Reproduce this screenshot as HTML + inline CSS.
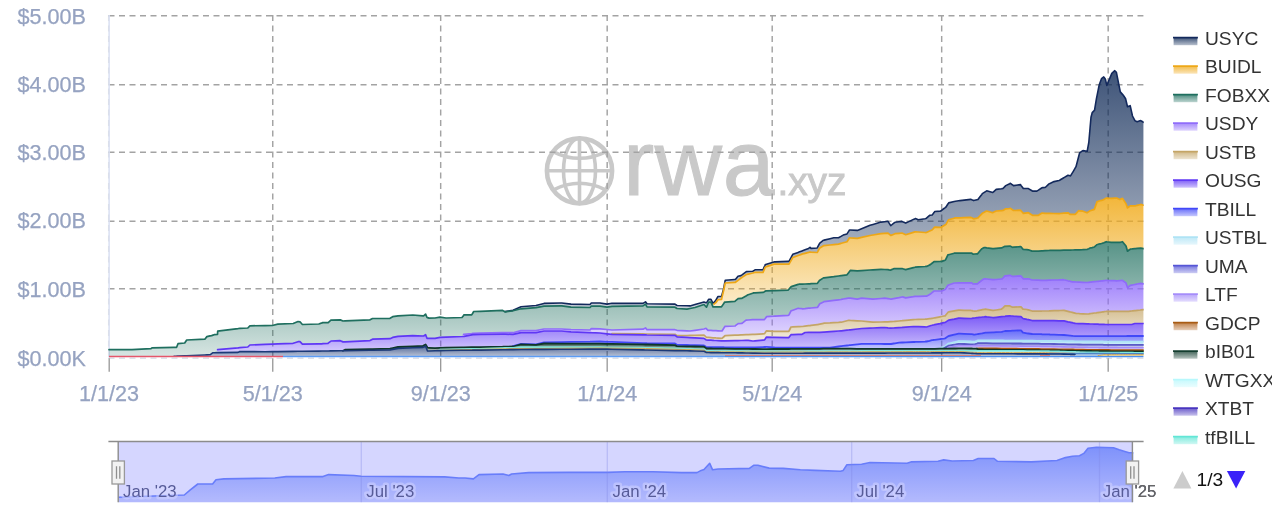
<!DOCTYPE html>
<html lang="en"><head><meta charset="utf-8"><title>rwa.xyz treasuries chart</title>
<style>html,body{margin:0;padding:0;background:#fff;}body{width:1272px;height:521px;overflow:hidden;}svg{display:block;will-change:transform;}text{font-family:'Liberation Sans', Arial, sans-serif;}</style></head><body>
<svg width="1272" height="521" viewBox="0 0 1272 521">
<defs><linearGradient id="g_usyc" x1="0" y1="0" x2="0" y2="1"><stop offset="0" stop-color="rgb(15,42,87)" stop-opacity="0.80"/><stop offset="1" stop-color="rgb(15,42,87)" stop-opacity="0.22"/></linearGradient><linearGradient id="g_buidl" x1="0" y1="0" x2="0" y2="1"><stop offset="0" stop-color="rgb(240,170,25)" stop-opacity="0.85"/><stop offset="1" stop-color="rgb(240,170,25)" stop-opacity="0.22"/></linearGradient><linearGradient id="g_fobxx" x1="0" y1="0" x2="0" y2="1"><stop offset="0" stop-color="rgb(31,111,95)" stop-opacity="0.75"/><stop offset="1" stop-color="rgb(31,111,95)" stop-opacity="0.18"/></linearGradient><linearGradient id="g_usdy" x1="0" y1="0" x2="0" y2="1"><stop offset="0" stop-color="rgb(143,107,250)" stop-opacity="0.88"/><stop offset="1" stop-color="rgb(143,107,250)" stop-opacity="0.25"/></linearGradient><linearGradient id="g_ustb" x1="0" y1="0" x2="0" y2="1"><stop offset="0" stop-color="rgb(196,165,102)" stop-opacity="0.75"/><stop offset="1" stop-color="rgb(196,165,102)" stop-opacity="0.20"/></linearGradient><linearGradient id="g_ousg" x1="0" y1="0" x2="0" y2="1"><stop offset="0" stop-color="rgb(95,55,245)" stop-opacity="0.82"/><stop offset="1" stop-color="rgb(95,55,245)" stop-opacity="0.25"/></linearGradient><linearGradient id="g_tbill" x1="0" y1="0" x2="0" y2="1"><stop offset="0" stop-color="rgb(65,72,248)" stop-opacity="0.80"/><stop offset="1" stop-color="rgb(65,72,248)" stop-opacity="0.30"/></linearGradient><linearGradient id="g_ustbl" x1="0" y1="0" x2="0" y2="1"><stop offset="0" stop-color="rgb(174,227,245)" stop-opacity="0.90"/><stop offset="1" stop-color="rgb(174,227,245)" stop-opacity="0.40"/></linearGradient><linearGradient id="g_uma" x1="0" y1="0" x2="0" y2="1"><stop offset="0" stop-color="rgb(90,90,200)" stop-opacity="0.70"/><stop offset="1" stop-color="rgb(90,90,200)" stop-opacity="0.20"/></linearGradient><linearGradient id="g_ltf" x1="0" y1="0" x2="0" y2="1"><stop offset="0" stop-color="rgb(165,140,250)" stop-opacity="0.70"/><stop offset="1" stop-color="rgb(165,140,250)" stop-opacity="0.20"/></linearGradient><linearGradient id="g_gdcp" x1="0" y1="0" x2="0" y2="1"><stop offset="0" stop-color="rgb(175,88,14)" stop-opacity="0.85"/><stop offset="1" stop-color="rgb(175,88,14)" stop-opacity="0.40"/></linearGradient><linearGradient id="g_dark" x1="0" y1="0" x2="0" y2="1"><stop offset="0" stop-color="rgb(15,55,40)" stop-opacity="0.75"/><stop offset="1" stop-color="rgb(15,55,40)" stop-opacity="0.25"/></linearGradient><linearGradient id="g_cyan" x1="0" y1="0" x2="0" y2="1"><stop offset="0" stop-color="rgb(127,230,220)" stop-opacity="0.80"/><stop offset="1" stop-color="rgb(127,230,220)" stop-opacity="0.30"/></linearGradient><linearGradient id="g_orange" x1="0" y1="0" x2="0" y2="1"><stop offset="0" stop-color="rgb(217,152,46)" stop-opacity="0.60"/><stop offset="1" stop-color="rgb(217,152,46)" stop-opacity="0.30"/></linearGradient><linearGradient id="g_steel" x1="0" y1="0" x2="0" y2="1"><stop offset="0" stop-color="rgb(79,134,198)" stop-opacity="0.70"/><stop offset="1" stop-color="rgb(79,134,198)" stop-opacity="0.40"/></linearGradient><linearGradient id="g_navy2" x1="0" y1="0" x2="0" y2="1"><stop offset="0" stop-color="rgb(28,58,120)" stop-opacity="0.75"/><stop offset="1" stop-color="rgb(28,58,120)" stop-opacity="0.30"/></linearGradient><linearGradient id="g_tan2" x1="0" y1="0" x2="0" y2="1"><stop offset="0" stop-color="rgb(201,162,79)" stop-opacity="0.60"/><stop offset="1" stop-color="rgb(201,162,79)" stop-opacity="0.30"/></linearGradient>
<linearGradient id="g_nav" x1="0" y1="0" x2="0" y2="1"><stop offset="0" stop-color="rgb(128,155,250)"/><stop offset="1" stop-color="rgb(206,214,252)"/></linearGradient>
<clipPath id="plotclip"><rect x="108" y="10" width="1035.7" height="350"/></clipPath>
</defs>
<rect width="1272" height="521" fill="#fff"/>
<g fill="none" stroke="#c9c9c9" stroke-width="4.6"><circle cx="579.5" cy="170.8" r="32.6"/><ellipse cx="579.5" cy="170.8" rx="16" ry="32.6" stroke-width="3.6"/><path d="M579.5 138.2 V203.4 M546.9 170.8 H612.1" stroke-width="3.6"/><path d="M553.5 151.8 Q579.5 164.8 605.5 151.8" stroke-width="3.6"/><path d="M553.5 189.8 Q579.5 176.8 605.5 189.8" stroke-width="3.6"/></g><text x="623.2" y="194.9" font-size="93" fill="#c9c9c9" stroke="#c9c9c9" stroke-width="1.1" letter-spacing="0.7">rwa</text><text x="777.4" y="194.9" font-size="38" fill="#c9c9c9" stroke="#c9c9c9" stroke-width="0.9" textLength="69" lengthAdjust="spacingAndGlyphs">.xyz</text>
<g><path d="M108.5 15.68 H1143.4" stroke="#a3a3a3" stroke-width="1.45" stroke-dasharray="6 4.5" fill="none"/><path d="M108.5 84.69 H1143.4" stroke="#a3a3a3" stroke-width="1.45" stroke-dasharray="6 4.5" fill="none"/><path d="M108.5 152.23 H1143.4" stroke="#a3a3a3" stroke-width="1.45" stroke-dasharray="6 4.5" fill="none"/><path d="M108.5 221.15 H1143.4" stroke="#a3a3a3" stroke-width="1.45" stroke-dasharray="6 4.5" fill="none"/><path d="M108.5 288.69 H1143.4" stroke="#a3a3a3" stroke-width="1.45" stroke-dasharray="6 4.5" fill="none"/><path d="M108.5 358.30 H1143.4" stroke="#dde1ea" stroke-width="1.45" stroke-dasharray="6 4.5" fill="none"/><path d="M272.75 15.06 V357.5" stroke="#a3a3a3" stroke-width="1.45" stroke-dasharray="6 4.5" fill="none"/><path d="M440.68 15.06 V357.5" stroke="#a3a3a3" stroke-width="1.45" stroke-dasharray="6 4.5" fill="none"/><path d="M607.18 15.06 V357.5" stroke="#a3a3a3" stroke-width="1.45" stroke-dasharray="6 4.5" fill="none"/><path d="M772.20 15.06 V357.5" stroke="#a3a3a3" stroke-width="1.45" stroke-dasharray="6 4.5" fill="none"/><path d="M941.68 15.06 V357.5" stroke="#a3a3a3" stroke-width="1.45" stroke-dasharray="6 4.5" fill="none"/><path d="M1108.18 15.06 V357.5" stroke="#a3a3a3" stroke-width="1.45" stroke-dasharray="6 4.5" fill="none"/><path d="M108.7 15.06 V357.5" stroke="#a3a3a3" stroke-width="1.45" stroke-dasharray="6 4.5" fill="none" opacity="0.4"/></g>
<path d="M109.1 15 V357.5" stroke="#dbe1f3" stroke-width="1.55" fill="none"/>
<g clip-path="url(#plotclip)"><path d="M505.0 311.6 L513.0 310.2 L521.0 306.8 L536.0 305.5 L544.0 303.4 L561.0 303.0 L561.7 303.0 L571.0 304.1 L590.0 304.5 L591.3 303.0 L600.0 303.0 L607.0 304.1 L612.0 303.2 L643.0 303.4 L645.5 301.8 L647.0 303.7 L675.0 304.1 L677.0 305.5 L687.0 305.8 L690.0 305.9 L695.0 304.5 L704.0 302.1 L706.0 302.7 L706.5 302.8 L708.0 300.4 L708.6 299.4 L711.0 299.4 L713.0 303.4 L714.0 302.4 L715.5 300.8 L716.0 299.9 L718.0 296.5 L721.5 296.5 L722.0 294.7 L723.6 289.0 L724.7 283.0 L725.0 281.4 L725.2 280.3 L734.8 279.5 L735.0 279.5 L735.4 279.5 L737.8 276.4 L738.0 276.3 L741.0 275.6 L742.0 274.9 L746.0 271.9 L746.4 271.6 L748.0 271.5 L748.2 271.5 L752.7 271.3 L753.0 271.1 L753.5 270.8 L755.0 269.8 L763.0 269.8 L764.4 266.6 L765.0 265.3 L765.3 264.6 L766.0 264.4 L766.5 264.2 L774.0 261.9 L775.0 261.9 L788.0 261.4 L788.8 261.4 L789.0 261.4 L791.0 257.7 L791.3 257.1 L792.8 254.3 L798.2 252.4 L799.0 252.1 L802.0 251.0 L802.3 250.9 L802.5 250.8 L805.0 249.8 L808.6 248.4 L810.0 247.3 L811.0 248.4 L817.2 248.0 L817.6 247.2 L819.6 243.3 L819.8 243.1 L823.5 240.2 L824.0 240.1 L830.0 238.7 L833.8 237.8 L838.5 237.8 L841.0 236.4 L841.4 236.1 L843.2 235.1 L847.0 233.9 L848.6 231.4 L849.5 230.0 L850.3 230.0 L857.2 230.4 L857.4 230.4 L861.6 228.7 L870.0 225.2 L873.0 224.4 L881.0 222.1 L884.6 221.7 L888.0 221.3 L890.4 225.2 L890.7 225.7 L891.0 225.5 L893.8 223.2 L895.0 222.3 L899.0 221.8 L902.0 221.4 L902.6 221.7 L905.7 223.1 L913.4 219.4 L915.0 218.7 L915.2 218.6 L915.4 218.5 L918.3 219.7 L925.0 218.7 L926.0 218.5 L926.4 218.1 L926.5 218.1 L929.6 215.3 L930.3 215.2 L932.0 215.0 L932.2 215.0 L933.0 213.9 L934.0 212.6 L934.8 211.5 L940.0 211.1 L940.8 211.0 L941.6 210.4 L944.0 208.5 L945.0 207.8 L945.2 207.6 L945.3 207.5 L946.0 207.0 L947.9 204.0 L948.5 203.1 L948.6 202.9 L954.2 201.5 L955.5 201.2 L958.6 200.8 L960.0 200.6 L964.2 200.1 L970.7 199.4 L971.0 199.4 L971.8 199.8 L973.0 200.3 L973.7 200.6 L974.7 200.3 L977.0 199.7 L977.4 199.6 L978.0 199.4 L979.0 198.1 L981.8 194.4 L982.3 193.7 L984.3 192.4 L985.5 191.6 L986.7 190.8 L992.7 192.5 L993.1 192.1 L993.5 191.8 L996.2 189.4 L1001.6 188.7 L1002.0 188.6 L1003.0 188.5 L1005.0 186.4 L1005.7 185.6 L1009.7 183.7 L1010.0 183.5 L1010.5 183.3 L1012.4 184.8 L1012.6 184.9 L1013.5 185.6 L1020.4 184.6 L1020.8 185.1 L1021.0 185.4 L1023.0 188.1 L1023.3 188.5 L1027.0 188.5 L1028.2 188.5 L1028.4 188.6 L1032.0 190.8 L1032.5 191.1 L1036.8 191.1 L1038.4 190.1 L1041.6 188.0 L1042.0 187.7 L1042.7 187.6 L1045.0 187.4 L1045.5 187.3 L1046.0 186.8 L1049.0 183.9 L1050.0 183.4 L1054.0 181.6 L1059.0 180.5 L1059.3 180.4 L1060.0 180.0 L1063.8 177.7 L1064.0 177.6 L1068.0 175.2 L1070.0 175.8 L1070.5 175.9 L1072.2 173.1 L1073.0 171.8 L1075.0 168.4 L1075.4 167.7 L1076.0 166.7 L1078.6 156.7 L1079.6 152.9 L1082.8 150.7 L1083.0 150.6 L1087.0 151.3 L1087.2 151.3 L1087.4 150.2 L1088.8 142.5 L1090.0 128.7 L1090.2 126.4 L1091.0 117.2 L1092.2 112.6 L1094.4 110.4 L1094.5 110.3 L1096.4 98.8 L1097.0 95.8 L1097.1 95.3 L1098.0 90.9 L1099.2 84.9 L1100.0 82.7 L1101.5 78.7 L1102.8 77.7 L1103.8 76.9 L1104.0 77.2 L1105.4 79.2 L1106.0 81.9 L1106.4 83.6 L1106.5 84.1 L1106.8 85.4 L1108.4 81.5 L1111.3 74.6 L1111.8 73.4 L1114.8 70.7 L1116.4 72.3 L1116.6 73.3 L1118.7 83.8 L1119.7 88.9 L1120.3 91.9 L1122.5 94.4 L1123.3 95.3 L1125.6 98.8 L1126.0 100.5 L1127.5 106.8 L1128.7 106.3 L1130.2 105.7 L1130.3 106.1 L1131.7 112.4 L1132.5 116.0 L1134.8 120.4 L1134.9 120.6 L1135.6 121.0 L1137.2 121.8 L1140.6 120.6 L1140.8 120.7 L1143.6 122.3 L1143.6 205.2 L1140.8 204.4 L1140.6 204.5 L1137.2 205.4 L1135.6 205.8 L1134.9 205.8 L1134.8 205.8 L1132.5 205.8 L1131.7 205.8 L1130.3 205.8 L1130.2 205.9 L1128.7 207.0 L1127.5 207.9 L1126.0 203.7 L1125.6 203.1 L1123.3 199.6 L1122.5 198.4 L1120.3 199.3 L1119.7 199.5 L1118.7 199.0 L1116.6 198.0 L1116.4 198.0 L1114.8 198.1 L1111.8 198.4 L1111.3 198.4 L1108.4 198.2 L1106.8 198.0 L1106.5 198.0 L1106.4 198.0 L1106.0 198.2 L1105.4 198.6 L1104.0 199.4 L1103.8 199.5 L1102.8 200.1 L1101.5 200.4 L1100.0 200.8 L1099.2 201.0 L1098.0 201.4 L1097.1 201.6 L1097.0 201.9 L1096.4 203.6 L1094.5 209.1 L1094.4 209.4 L1092.2 210.1 L1091.0 210.5 L1090.2 210.7 L1090.0 210.8 L1088.8 211.6 L1087.4 212.5 L1087.2 212.7 L1087.0 212.8 L1083.0 211.2 L1082.8 211.1 L1079.6 210.8 L1078.6 210.7 L1076.0 213.6 L1075.4 214.3 L1075.0 214.3 L1073.0 214.3 L1072.2 214.3 L1070.5 214.3 L1070.0 214.3 L1068.0 212.8 L1064.0 213.2 L1063.8 213.2 L1060.0 213.5 L1059.3 213.6 L1059.0 213.6 L1054.0 213.5 L1050.0 213.4 L1049.0 213.4 L1046.0 213.3 L1045.5 213.3 L1045.0 213.3 L1042.7 213.2 L1042.0 213.2 L1041.6 213.2 L1038.4 215.3 L1036.8 215.3 L1032.5 215.3 L1032.0 215.0 L1028.4 212.8 L1028.2 212.7 L1027.0 212.8 L1023.3 213.3 L1023.0 213.0 L1021.0 210.8 L1020.8 210.6 L1020.4 210.2 L1013.5 210.5 L1012.6 209.9 L1012.4 209.7 L1010.5 208.4 L1010.0 208.4 L1009.7 208.5 L1005.7 208.8 L1005.0 209.2 L1003.0 210.5 L1002.0 210.6 L1001.6 210.6 L996.2 211.0 L993.5 212.3 L993.1 212.5 L992.7 212.7 L986.7 211.0 L985.5 211.6 L984.3 212.3 L982.3 213.3 L981.8 213.8 L979.0 216.8 L978.0 217.9 L977.4 218.0 L977.0 218.1 L974.7 218.6 L973.7 218.8 L973.0 218.4 L971.8 217.8 L971.0 217.4 L970.7 217.4 L964.2 217.6 L960.0 217.8 L958.6 217.8 L955.5 217.9 L954.2 218.2 L948.6 219.7 L948.5 219.9 L947.9 220.9 L946.0 224.3 L945.3 224.7 L945.2 224.8 L945.0 224.9 L944.0 225.5 L941.6 227.0 L940.8 227.5 L940.0 227.4 L934.8 227.1 L934.0 227.9 L933.0 229.0 L932.2 229.8 L932.0 230.0 L930.3 230.7 L929.6 231.0 L926.5 232.4 L926.4 232.4 L926.0 232.6 L925.0 232.5 L918.3 232.0 L915.4 231.8 L915.2 231.9 L915.0 231.9 L913.4 232.4 L905.7 234.7 L902.6 233.3 L902.0 233.0 L899.0 233.3 L895.0 233.7 L893.8 234.2 L891.0 235.4 L890.7 235.5 L890.4 235.2 L888.0 233.1 L884.6 233.3 L881.0 233.6 L873.0 235.0 L870.0 235.5 L861.6 237.4 L857.4 238.3 L857.2 238.3 L850.3 237.9 L849.5 237.8 L848.6 239.2 L847.0 241.8 L843.2 242.8 L841.4 243.3 L841.0 243.4 L838.5 244.1 L833.8 244.6 L830.0 245.0 L824.0 245.6 L823.5 245.7 L819.8 247.9 L819.6 248.0 L817.6 251.8 L817.2 252.5 L811.0 252.1 L810.0 252.0 L808.6 252.4 L805.0 253.3 L802.5 253.9 L802.3 254.0 L802.0 254.1 L799.0 255.2 L798.2 255.5 L792.8 257.5 L791.3 260.1 L791.0 260.6 L789.0 264.1 L788.8 264.1 L788.0 264.1 L775.0 264.1 L774.0 264.1 L766.5 266.6 L766.0 266.8 L765.3 267.0 L765.0 267.7 L764.4 269.1 L763.0 272.4 L755.0 272.4 L753.5 272.8 L753.0 272.9 L752.7 273.0 L748.2 274.1 L748.0 274.1 L746.4 274.5 L746.0 274.8 L742.0 277.4 L741.0 278.0 L738.0 280.3 L737.8 280.5 L735.4 282.3 L735.0 282.3 L734.8 282.3 L725.2 283.0 L725.0 283.9 L724.7 285.3 L723.6 290.5 L722.0 297.4 L721.5 299.5 L718.0 299.7 L716.0 302.5 L715.5 302.9 L714.0 304.0 L713.0 306.8 L711.0 302.1 L708.6 302.1 L708.0 303.6 L706.5 307.2 L706.0 306.7 L704.0 304.5 L695.0 307.5 L690.0 308.5 L687.0 309.1 L677.0 308.5 L675.0 307.2 L647.0 306.8 L645.5 304.1 L643.0 305.9 L612.0 306.4 L607.0 307.2 L600.0 306.2 L591.3 306.1 L590.0 307.5 L571.0 307.2 L561.7 305.9 L561.0 305.9 L544.0 306.1 L536.0 307.7 L521.0 308.8 L513.0 310.8 L505.0 311.8 Z" fill="url(#g_usyc)" stroke="none"/><path d="M505.0 311.6 L513.0 310.2 L521.0 306.8 L536.0 305.5 L544.0 303.4 L561.0 303.0 L561.7 303.0 L571.0 304.1 L590.0 304.5 L591.3 303.0 L600.0 303.0 L607.0 304.1 L612.0 303.2 L643.0 303.4 L645.5 301.8 L647.0 303.7 L675.0 304.1 L677.0 305.5 L687.0 305.8 L690.0 305.9 L695.0 304.5 L704.0 302.1 L706.0 302.7 L706.5 302.8 L708.0 300.4 L708.6 299.4 L711.0 299.4 L713.0 303.4 L714.0 302.4 L715.5 300.8 L716.0 299.9 L718.0 296.5 L721.5 296.5 L722.0 294.7 L723.6 289.0 L724.7 283.0 L725.0 281.4 L725.2 280.3 L734.8 279.5 L735.0 279.5 L735.4 279.5 L737.8 276.4 L738.0 276.3 L741.0 275.6 L742.0 274.9 L746.0 271.9 L746.4 271.6 L748.0 271.5 L748.2 271.5 L752.7 271.3 L753.0 271.1 L753.5 270.8 L755.0 269.8 L763.0 269.8 L764.4 266.6 L765.0 265.3 L765.3 264.6 L766.0 264.4 L766.5 264.2 L774.0 261.9 L775.0 261.9 L788.0 261.4 L788.8 261.4 L789.0 261.4 L791.0 257.7 L791.3 257.1 L792.8 254.3 L798.2 252.4 L799.0 252.1 L802.0 251.0 L802.3 250.9 L802.5 250.8 L805.0 249.8 L808.6 248.4 L810.0 247.3 L811.0 248.4 L817.2 248.0 L817.6 247.2 L819.6 243.3 L819.8 243.1 L823.5 240.2 L824.0 240.1 L830.0 238.7 L833.8 237.8 L838.5 237.8 L841.0 236.4 L841.4 236.1 L843.2 235.1 L847.0 233.9 L848.6 231.4 L849.5 230.0 L850.3 230.0 L857.2 230.4 L857.4 230.4 L861.6 228.7 L870.0 225.2 L873.0 224.4 L881.0 222.1 L884.6 221.7 L888.0 221.3 L890.4 225.2 L890.7 225.7 L891.0 225.5 L893.8 223.2 L895.0 222.3 L899.0 221.8 L902.0 221.4 L902.6 221.7 L905.7 223.1 L913.4 219.4 L915.0 218.7 L915.2 218.6 L915.4 218.5 L918.3 219.7 L925.0 218.7 L926.0 218.5 L926.4 218.1 L926.5 218.1 L929.6 215.3 L930.3 215.2 L932.0 215.0 L932.2 215.0 L933.0 213.9 L934.0 212.6 L934.8 211.5 L940.0 211.1 L940.8 211.0 L941.6 210.4 L944.0 208.5 L945.0 207.8 L945.2 207.6 L945.3 207.5 L946.0 207.0 L947.9 204.0 L948.5 203.1 L948.6 202.9 L954.2 201.5 L955.5 201.2 L958.6 200.8 L960.0 200.6 L964.2 200.1 L970.7 199.4 L971.0 199.4 L971.8 199.8 L973.0 200.3 L973.7 200.6 L974.7 200.3 L977.0 199.7 L977.4 199.6 L978.0 199.4 L979.0 198.1 L981.8 194.4 L982.3 193.7 L984.3 192.4 L985.5 191.6 L986.7 190.8 L992.7 192.5 L993.1 192.1 L993.5 191.8 L996.2 189.4 L1001.6 188.7 L1002.0 188.6 L1003.0 188.5 L1005.0 186.4 L1005.7 185.6 L1009.7 183.7 L1010.0 183.5 L1010.5 183.3 L1012.4 184.8 L1012.6 184.9 L1013.5 185.6 L1020.4 184.6 L1020.8 185.1 L1021.0 185.4 L1023.0 188.1 L1023.3 188.5 L1027.0 188.5 L1028.2 188.5 L1028.4 188.6 L1032.0 190.8 L1032.5 191.1 L1036.8 191.1 L1038.4 190.1 L1041.6 188.0 L1042.0 187.7 L1042.7 187.6 L1045.0 187.4 L1045.5 187.3 L1046.0 186.8 L1049.0 183.9 L1050.0 183.4 L1054.0 181.6 L1059.0 180.5 L1059.3 180.4 L1060.0 180.0 L1063.8 177.7 L1064.0 177.6 L1068.0 175.2 L1070.0 175.8 L1070.5 175.9 L1072.2 173.1 L1073.0 171.8 L1075.0 168.4 L1075.4 167.7 L1076.0 166.7 L1078.6 156.7 L1079.6 152.9 L1082.8 150.7 L1083.0 150.6 L1087.0 151.3 L1087.2 151.3 L1087.4 150.2 L1088.8 142.5 L1090.0 128.7 L1090.2 126.4 L1091.0 117.2 L1092.2 112.6 L1094.4 110.4 L1094.5 110.3 L1096.4 98.8 L1097.0 95.8 L1097.1 95.3 L1098.0 90.9 L1099.2 84.9 L1100.0 82.7 L1101.5 78.7 L1102.8 77.7 L1103.8 76.9 L1104.0 77.2 L1105.4 79.2 L1106.0 81.9 L1106.4 83.6 L1106.5 84.1 L1106.8 85.4 L1108.4 81.5 L1111.3 74.6 L1111.8 73.4 L1114.8 70.7 L1116.4 72.3 L1116.6 73.3 L1118.7 83.8 L1119.7 88.9 L1120.3 91.9 L1122.5 94.4 L1123.3 95.3 L1125.6 98.8 L1126.0 100.5 L1127.5 106.8 L1128.7 106.3 L1130.2 105.7 L1130.3 106.1 L1131.7 112.4 L1132.5 116.0 L1134.8 120.4 L1134.9 120.6 L1135.6 121.0 L1137.2 121.8 L1140.6 120.6 L1140.8 120.7 L1143.6 122.3" fill="none" stroke="#13295c" stroke-width="1.6" stroke-linejoin="round" stroke-linecap="round"/><path d="M714.0 304.0 L715.5 302.9 L716.0 302.5 L718.0 299.7 L721.5 299.5 L722.0 297.4 L723.6 290.5 L724.7 285.3 L725.0 283.9 L725.2 283.0 L734.8 282.3 L735.0 282.3 L735.4 282.3 L737.8 280.5 L738.0 280.3 L741.0 278.0 L742.0 277.4 L746.0 274.8 L746.4 274.5 L748.0 274.1 L748.2 274.1 L752.7 273.0 L753.0 272.9 L753.5 272.8 L755.0 272.4 L763.0 272.4 L764.4 269.1 L765.0 267.7 L765.3 267.0 L766.0 266.8 L766.5 266.6 L774.0 264.1 L775.0 264.1 L788.0 264.1 L788.8 264.1 L789.0 264.1 L791.0 260.6 L791.3 260.1 L792.8 257.5 L798.2 255.5 L799.0 255.2 L802.0 254.1 L802.3 254.0 L802.5 253.9 L805.0 253.3 L808.6 252.4 L810.0 252.0 L811.0 252.1 L817.2 252.5 L817.6 251.8 L819.6 248.0 L819.8 247.9 L823.5 245.7 L824.0 245.6 L830.0 245.0 L833.8 244.6 L838.5 244.1 L841.0 243.4 L841.4 243.3 L843.2 242.8 L847.0 241.8 L848.6 239.2 L849.5 237.8 L850.3 237.9 L857.2 238.3 L857.4 238.3 L861.6 237.4 L870.0 235.5 L873.0 235.0 L881.0 233.6 L884.6 233.3 L888.0 233.1 L890.4 235.2 L890.7 235.5 L891.0 235.4 L893.8 234.2 L895.0 233.7 L899.0 233.3 L902.0 233.0 L902.6 233.3 L905.7 234.7 L913.4 232.4 L915.0 231.9 L915.2 231.9 L915.4 231.8 L918.3 232.0 L925.0 232.5 L926.0 232.6 L926.4 232.4 L926.5 232.4 L929.6 231.0 L930.3 230.7 L932.0 230.0 L932.2 229.8 L933.0 229.0 L934.0 227.9 L934.8 227.1 L940.0 227.4 L940.8 227.5 L941.6 227.0 L944.0 225.5 L945.0 224.9 L945.2 224.8 L945.3 224.7 L946.0 224.3 L947.9 220.9 L948.5 219.9 L948.6 219.7 L954.2 218.2 L955.5 217.9 L958.6 217.8 L960.0 217.8 L964.2 217.6 L970.7 217.4 L971.0 217.4 L971.8 217.8 L973.0 218.4 L973.7 218.8 L974.7 218.6 L977.0 218.1 L977.4 218.0 L978.0 217.9 L979.0 216.8 L981.8 213.8 L982.3 213.3 L984.3 212.3 L985.5 211.6 L986.7 211.0 L992.7 212.7 L993.1 212.5 L993.5 212.3 L996.2 211.0 L1001.6 210.6 L1002.0 210.6 L1003.0 210.5 L1005.0 209.2 L1005.7 208.8 L1009.7 208.5 L1010.0 208.4 L1010.5 208.4 L1012.4 209.7 L1012.6 209.9 L1013.5 210.5 L1020.4 210.2 L1020.8 210.6 L1021.0 210.8 L1023.0 213.0 L1023.3 213.3 L1027.0 212.8 L1028.2 212.7 L1028.4 212.8 L1032.0 215.0 L1032.5 215.3 L1036.8 215.3 L1038.4 215.3 L1041.6 213.2 L1042.0 213.2 L1042.7 213.2 L1045.0 213.3 L1045.5 213.3 L1046.0 213.3 L1049.0 213.4 L1050.0 213.4 L1054.0 213.5 L1059.0 213.6 L1059.3 213.6 L1060.0 213.5 L1063.8 213.2 L1064.0 213.2 L1068.0 212.8 L1070.0 214.3 L1070.5 214.3 L1072.2 214.3 L1073.0 214.3 L1075.0 214.3 L1075.4 214.3 L1076.0 213.6 L1078.6 210.7 L1079.6 210.8 L1082.8 211.1 L1083.0 211.2 L1087.0 212.8 L1087.2 212.7 L1087.4 212.5 L1088.8 211.6 L1090.0 210.8 L1090.2 210.7 L1091.0 210.5 L1092.2 210.1 L1094.4 209.4 L1094.5 209.1 L1096.4 203.6 L1097.0 201.9 L1097.1 201.6 L1098.0 201.4 L1099.2 201.0 L1100.0 200.8 L1101.5 200.4 L1102.8 200.1 L1103.8 199.5 L1104.0 199.4 L1105.4 198.6 L1106.0 198.2 L1106.4 198.0 L1106.5 198.0 L1106.8 198.0 L1108.4 198.2 L1111.3 198.4 L1111.8 198.4 L1114.8 198.1 L1116.4 198.0 L1116.6 198.0 L1118.7 199.0 L1119.7 199.5 L1120.3 199.3 L1122.5 198.4 L1123.3 199.6 L1125.6 203.1 L1126.0 203.7 L1127.5 207.9 L1128.7 207.0 L1130.2 205.9 L1130.3 205.8 L1131.7 205.8 L1132.5 205.8 L1134.8 205.8 L1134.9 205.8 L1135.6 205.8 L1137.2 205.4 L1140.6 204.5 L1140.8 204.4 L1143.6 205.2 L1143.6 248.7 L1140.8 248.1 L1140.6 248.1 L1137.2 248.4 L1135.6 248.6 L1134.9 248.7 L1134.8 248.7 L1132.5 248.9 L1131.7 249.0 L1130.3 249.1 L1130.2 249.2 L1128.7 250.3 L1127.5 251.2 L1126.0 246.0 L1125.6 245.5 L1123.3 242.7 L1122.5 241.7 L1120.3 242.3 L1119.7 242.4 L1118.7 242.4 L1116.6 242.4 L1116.4 242.4 L1114.8 242.4 L1111.8 242.4 L1111.3 242.4 L1108.4 242.0 L1106.8 241.8 L1106.5 241.7 L1106.4 241.7 L1106.0 241.9 L1105.4 242.1 L1104.0 242.7 L1103.8 242.8 L1102.8 243.2 L1101.5 243.5 L1100.0 243.8 L1099.2 244.0 L1098.0 244.3 L1097.1 244.5 L1097.0 244.5 L1096.4 245.1 L1094.5 246.9 L1094.4 247.0 L1092.2 247.6 L1091.0 247.8 L1090.2 248.0 L1090.0 248.1 L1088.8 248.7 L1087.4 249.3 L1087.2 249.4 L1087.0 249.5 L1083.0 249.6 L1082.8 249.7 L1079.6 249.8 L1078.6 249.8 L1076.0 249.9 L1075.4 249.9 L1075.0 249.9 L1073.0 250.0 L1072.2 250.0 L1070.5 250.1 L1070.0 250.1 L1068.0 250.2 L1064.0 250.2 L1063.8 250.2 L1060.0 250.3 L1059.3 250.3 L1059.0 250.3 L1054.0 250.4 L1050.0 250.4 L1049.0 250.5 L1046.0 250.6 L1045.5 250.7 L1045.0 250.7 L1042.7 250.8 L1042.0 250.9 L1041.6 250.9 L1038.4 251.1 L1036.8 251.1 L1032.5 251.1 L1032.0 251.1 L1028.4 249.8 L1028.2 249.8 L1027.0 249.7 L1023.3 249.5 L1023.0 249.2 L1021.0 246.8 L1020.8 246.6 L1020.4 246.6 L1013.5 247.2 L1012.6 247.3 L1012.4 247.2 L1010.5 246.3 L1010.0 246.1 L1009.7 246.1 L1005.7 246.3 L1005.0 246.3 L1003.0 247.3 L1002.0 247.8 L1001.6 247.8 L996.2 248.3 L993.5 248.6 L993.1 248.6 L992.7 248.6 L986.7 247.9 L985.5 247.7 L984.3 247.6 L982.3 248.6 L981.8 248.8 L979.0 252.0 L978.0 253.2 L977.4 253.9 L977.0 253.9 L974.7 254.0 L973.7 254.1 L973.0 254.1 L971.8 253.2 L971.0 253.2 L970.7 253.2 L964.2 253.2 L960.0 253.2 L958.6 253.2 L955.5 253.2 L954.2 253.2 L948.6 254.7 L948.5 254.7 L947.9 254.9 L946.0 258.8 L945.3 260.2 L945.2 260.2 L945.0 260.3 L944.0 260.6 L941.6 261.4 L940.8 261.4 L940.0 261.5 L934.8 261.7 L934.0 261.7 L933.0 262.5 L932.2 263.1 L932.0 263.3 L930.3 264.6 L929.6 264.9 L926.5 266.4 L926.4 266.4 L926.0 266.4 L925.0 266.5 L918.3 266.9 L915.4 267.1 L915.2 267.1 L915.0 267.2 L913.4 267.6 L905.7 269.6 L902.6 268.7 L902.0 268.7 L899.0 268.7 L895.0 268.7 L893.8 268.7 L891.0 269.9 L890.7 270.1 L890.4 270.2 L888.0 269.6 L884.6 269.5 L881.0 269.3 L873.0 269.8 L870.0 270.0 L861.6 270.6 L857.4 270.9 L857.2 270.9 L850.3 270.4 L849.5 271.5 L848.6 272.7 L847.0 274.8 L843.2 275.3 L841.4 275.6 L841.0 275.7 L838.5 276.0 L833.8 276.7 L830.0 277.1 L824.0 277.8 L823.5 277.9 L819.8 280.2 L819.6 280.3 L817.6 283.0 L817.2 283.5 L811.0 283.7 L810.0 283.8 L808.6 283.8 L805.0 284.0 L802.5 284.1 L802.3 284.1 L802.0 284.1 L799.0 284.2 L798.2 284.4 L792.8 286.1 L791.3 286.6 L791.0 286.9 L789.0 289.1 L788.8 289.3 L788.0 290.2 L775.0 290.6 L774.0 290.6 L766.5 290.8 L766.0 290.8 L765.3 291.2 L765.0 291.3 L764.4 291.7 L763.0 292.4 L755.0 292.8 L753.5 292.9 L753.0 293.1 L752.7 293.2 L748.2 294.7 L748.0 294.8 L746.4 295.7 L746.0 296.0 L742.0 298.3 L741.0 298.4 L738.0 298.7 L737.8 298.9 L735.4 300.9 L735.0 301.2 L734.8 301.4 L725.2 302.1 L725.0 302.1 L724.7 302.1 L723.6 303.7 L722.0 306.1 L721.5 306.8 L718.0 306.8 L716.0 306.8 L715.5 306.8 L714.0 306.8 Z" fill="url(#g_buidl)" stroke="none"/><path d="M714.0 304.0 L715.5 302.9 L716.0 302.5 L718.0 299.7 L721.5 299.5 L722.0 297.4 L723.6 290.5 L724.7 285.3 L725.0 283.9 L725.2 283.0 L734.8 282.3 L735.0 282.3 L735.4 282.3 L737.8 280.5 L738.0 280.3 L741.0 278.0 L742.0 277.4 L746.0 274.8 L746.4 274.5 L748.0 274.1 L748.2 274.1 L752.7 273.0 L753.0 272.9 L753.5 272.8 L755.0 272.4 L763.0 272.4 L764.4 269.1 L765.0 267.7 L765.3 267.0 L766.0 266.8 L766.5 266.6 L774.0 264.1 L775.0 264.1 L788.0 264.1 L788.8 264.1 L789.0 264.1 L791.0 260.6 L791.3 260.1 L792.8 257.5 L798.2 255.5 L799.0 255.2 L802.0 254.1 L802.3 254.0 L802.5 253.9 L805.0 253.3 L808.6 252.4 L810.0 252.0 L811.0 252.1 L817.2 252.5 L817.6 251.8 L819.6 248.0 L819.8 247.9 L823.5 245.7 L824.0 245.6 L830.0 245.0 L833.8 244.6 L838.5 244.1 L841.0 243.4 L841.4 243.3 L843.2 242.8 L847.0 241.8 L848.6 239.2 L849.5 237.8 L850.3 237.9 L857.2 238.3 L857.4 238.3 L861.6 237.4 L870.0 235.5 L873.0 235.0 L881.0 233.6 L884.6 233.3 L888.0 233.1 L890.4 235.2 L890.7 235.5 L891.0 235.4 L893.8 234.2 L895.0 233.7 L899.0 233.3 L902.0 233.0 L902.6 233.3 L905.7 234.7 L913.4 232.4 L915.0 231.9 L915.2 231.9 L915.4 231.8 L918.3 232.0 L925.0 232.5 L926.0 232.6 L926.4 232.4 L926.5 232.4 L929.6 231.0 L930.3 230.7 L932.0 230.0 L932.2 229.8 L933.0 229.0 L934.0 227.9 L934.8 227.1 L940.0 227.4 L940.8 227.5 L941.6 227.0 L944.0 225.5 L945.0 224.9 L945.2 224.8 L945.3 224.7 L946.0 224.3 L947.9 220.9 L948.5 219.9 L948.6 219.7 L954.2 218.2 L955.5 217.9 L958.6 217.8 L960.0 217.8 L964.2 217.6 L970.7 217.4 L971.0 217.4 L971.8 217.8 L973.0 218.4 L973.7 218.8 L974.7 218.6 L977.0 218.1 L977.4 218.0 L978.0 217.9 L979.0 216.8 L981.8 213.8 L982.3 213.3 L984.3 212.3 L985.5 211.6 L986.7 211.0 L992.7 212.7 L993.1 212.5 L993.5 212.3 L996.2 211.0 L1001.6 210.6 L1002.0 210.6 L1003.0 210.5 L1005.0 209.2 L1005.7 208.8 L1009.7 208.5 L1010.0 208.4 L1010.5 208.4 L1012.4 209.7 L1012.6 209.9 L1013.5 210.5 L1020.4 210.2 L1020.8 210.6 L1021.0 210.8 L1023.0 213.0 L1023.3 213.3 L1027.0 212.8 L1028.2 212.7 L1028.4 212.8 L1032.0 215.0 L1032.5 215.3 L1036.8 215.3 L1038.4 215.3 L1041.6 213.2 L1042.0 213.2 L1042.7 213.2 L1045.0 213.3 L1045.5 213.3 L1046.0 213.3 L1049.0 213.4 L1050.0 213.4 L1054.0 213.5 L1059.0 213.6 L1059.3 213.6 L1060.0 213.5 L1063.8 213.2 L1064.0 213.2 L1068.0 212.8 L1070.0 214.3 L1070.5 214.3 L1072.2 214.3 L1073.0 214.3 L1075.0 214.3 L1075.4 214.3 L1076.0 213.6 L1078.6 210.7 L1079.6 210.8 L1082.8 211.1 L1083.0 211.2 L1087.0 212.8 L1087.2 212.7 L1087.4 212.5 L1088.8 211.6 L1090.0 210.8 L1090.2 210.7 L1091.0 210.5 L1092.2 210.1 L1094.4 209.4 L1094.5 209.1 L1096.4 203.6 L1097.0 201.9 L1097.1 201.6 L1098.0 201.4 L1099.2 201.0 L1100.0 200.8 L1101.5 200.4 L1102.8 200.1 L1103.8 199.5 L1104.0 199.4 L1105.4 198.6 L1106.0 198.2 L1106.4 198.0 L1106.5 198.0 L1106.8 198.0 L1108.4 198.2 L1111.3 198.4 L1111.8 198.4 L1114.8 198.1 L1116.4 198.0 L1116.6 198.0 L1118.7 199.0 L1119.7 199.5 L1120.3 199.3 L1122.5 198.4 L1123.3 199.6 L1125.6 203.1 L1126.0 203.7 L1127.5 207.9 L1128.7 207.0 L1130.2 205.9 L1130.3 205.8 L1131.7 205.8 L1132.5 205.8 L1134.8 205.8 L1134.9 205.8 L1135.6 205.8 L1137.2 205.4 L1140.6 204.5 L1140.8 204.4 L1143.6 205.2" fill="none" stroke="#eea715" stroke-width="1.7" stroke-linejoin="round" stroke-linecap="round"/><path d="M109.0 349.7 L132.0 349.7 L151.0 348.7 L152.0 347.8 L174.0 347.4 L176.6 347.3 L178.0 343.7 L184.7 343.0 L186.7 340.0 L204.8 339.2 L206.9 336.6 L210.0 335.9 L211.6 335.6 L213.0 335.1 L214.2 334.7 L217.5 334.5 L217.6 332.9 L217.7 331.2 L238.0 328.6 L238.4 328.5 L239.8 328.4 L247.8 328.0 L249.9 325.8 L265.0 325.6 L272.4 325.5 L277.8 324.2 L293.0 323.5 L293.2 323.5 L298.0 321.5 L300.0 321.8 L302.4 324.5 L318.8 324.0 L322.0 322.9 L322.8 322.6 L328.0 322.6 L328.2 322.6 L330.9 320.2 L331.0 320.2 L340.0 319.9 L340.3 319.9 L343.0 321.0 L345.0 320.9 L369.8 319.9 L370.0 319.8 L372.5 318.5 L390.0 318.3 L392.7 316.7 L398.0 315.9 L412.8 315.0 L423.0 315.8 L423.6 315.9 L425.6 314.1 L427.0 317.5 L427.5 317.6 L429.0 318.1 L435.0 318.0 L440.0 317.2 L446.0 318.0 L462.0 317.5 L463.6 315.4 L464.0 314.9 L471.7 314.9 L473.0 312.7 L473.7 311.5 L480.0 311.3 L502.6 310.4 L505.0 311.8 L513.0 310.8 L521.0 308.8 L536.0 307.7 L544.0 306.1 L561.0 305.9 L561.7 305.9 L571.0 307.2 L590.0 307.5 L591.3 306.1 L600.0 306.2 L607.0 307.2 L612.0 306.4 L643.0 305.9 L645.5 304.1 L647.0 306.8 L675.0 307.2 L677.0 308.5 L687.0 309.1 L690.0 308.5 L695.0 307.5 L704.0 304.5 L706.0 306.7 L706.5 307.2 L708.0 303.6 L708.6 302.1 L711.0 302.1 L713.0 306.8 L714.0 306.8 L715.5 306.8 L716.0 306.8 L718.0 306.8 L721.5 306.8 L722.0 306.1 L723.6 303.7 L724.7 302.1 L725.0 302.1 L725.2 302.1 L734.8 301.4 L735.0 301.2 L735.4 300.9 L737.8 298.9 L738.0 298.7 L741.0 298.4 L742.0 298.3 L746.0 296.0 L746.4 295.7 L748.0 294.8 L748.2 294.7 L752.7 293.2 L753.0 293.1 L753.5 292.9 L755.0 292.8 L763.0 292.4 L764.4 291.7 L765.0 291.3 L765.3 291.2 L766.0 290.8 L766.5 290.8 L774.0 290.6 L775.0 290.6 L788.0 290.2 L788.8 289.3 L789.0 289.1 L791.0 286.9 L791.3 286.6 L792.8 286.1 L798.2 284.4 L799.0 284.2 L802.0 284.1 L802.3 284.1 L802.5 284.1 L805.0 284.0 L808.6 283.8 L810.0 283.8 L811.0 283.7 L817.2 283.5 L817.6 283.0 L819.6 280.3 L819.8 280.2 L823.5 277.9 L824.0 277.8 L830.0 277.1 L833.8 276.7 L838.5 276.0 L841.0 275.7 L841.4 275.6 L843.2 275.3 L847.0 274.8 L848.6 272.7 L849.5 271.5 L850.3 270.4 L857.2 270.9 L857.4 270.9 L861.6 270.6 L870.0 270.0 L873.0 269.8 L881.0 269.3 L884.6 269.5 L888.0 269.6 L890.4 270.2 L890.7 270.1 L891.0 269.9 L893.8 268.7 L895.0 268.7 L899.0 268.7 L902.0 268.7 L902.6 268.7 L905.7 269.6 L913.4 267.6 L915.0 267.2 L915.2 267.1 L915.4 267.1 L918.3 266.9 L925.0 266.5 L926.0 266.4 L926.4 266.4 L926.5 266.4 L929.6 264.9 L930.3 264.6 L932.0 263.3 L932.2 263.1 L933.0 262.5 L934.0 261.7 L934.8 261.7 L940.0 261.5 L940.8 261.4 L941.6 261.4 L944.0 260.6 L945.0 260.3 L945.2 260.2 L945.3 260.2 L946.0 258.8 L947.9 254.9 L948.5 254.7 L948.6 254.7 L954.2 253.2 L955.5 253.2 L958.6 253.2 L960.0 253.2 L964.2 253.2 L970.7 253.2 L971.0 253.2 L971.8 253.2 L973.0 254.1 L973.7 254.1 L974.7 254.0 L977.0 253.9 L977.4 253.9 L978.0 253.2 L979.0 252.0 L981.8 248.8 L982.3 248.6 L984.3 247.6 L985.5 247.7 L986.7 247.9 L992.7 248.6 L993.1 248.6 L993.5 248.6 L996.2 248.3 L1001.6 247.8 L1002.0 247.8 L1003.0 247.3 L1005.0 246.3 L1005.7 246.3 L1009.7 246.1 L1010.0 246.1 L1010.5 246.3 L1012.4 247.2 L1012.6 247.3 L1013.5 247.2 L1020.4 246.6 L1020.8 246.6 L1021.0 246.8 L1023.0 249.2 L1023.3 249.5 L1027.0 249.7 L1028.2 249.8 L1028.4 249.8 L1032.0 251.1 L1032.5 251.1 L1036.8 251.1 L1038.4 251.1 L1041.6 250.9 L1042.0 250.9 L1042.7 250.8 L1045.0 250.7 L1045.5 250.7 L1046.0 250.6 L1049.0 250.5 L1050.0 250.4 L1054.0 250.4 L1059.0 250.3 L1059.3 250.3 L1060.0 250.3 L1063.8 250.2 L1064.0 250.2 L1068.0 250.2 L1070.0 250.1 L1070.5 250.1 L1072.2 250.0 L1073.0 250.0 L1075.0 249.9 L1075.4 249.9 L1076.0 249.9 L1078.6 249.8 L1079.6 249.8 L1082.8 249.7 L1083.0 249.6 L1087.0 249.5 L1087.2 249.4 L1087.4 249.3 L1088.8 248.7 L1090.0 248.1 L1090.2 248.0 L1091.0 247.8 L1092.2 247.6 L1094.4 247.0 L1094.5 246.9 L1096.4 245.1 L1097.0 244.5 L1097.1 244.5 L1098.0 244.3 L1099.2 244.0 L1100.0 243.8 L1101.5 243.5 L1102.8 243.2 L1103.8 242.8 L1104.0 242.7 L1105.4 242.1 L1106.0 241.9 L1106.4 241.7 L1106.5 241.7 L1106.8 241.8 L1108.4 242.0 L1111.3 242.4 L1111.8 242.4 L1114.8 242.4 L1116.4 242.4 L1116.6 242.4 L1118.7 242.4 L1119.7 242.4 L1120.3 242.3 L1122.5 241.7 L1123.3 242.7 L1125.6 245.5 L1126.0 246.0 L1127.5 251.2 L1128.7 250.3 L1130.2 249.2 L1130.3 249.1 L1131.7 249.0 L1132.5 248.9 L1134.8 248.7 L1134.9 248.7 L1135.6 248.6 L1137.2 248.4 L1140.6 248.1 L1140.8 248.1 L1143.6 248.7 L1143.6 283.8 L1140.8 283.3 L1140.6 283.3 L1137.2 284.0 L1135.6 284.3 L1134.9 284.5 L1134.8 284.5 L1132.5 285.0 L1131.7 285.1 L1130.3 285.4 L1130.2 285.5 L1128.7 286.7 L1127.5 287.6 L1126.0 282.9 L1125.6 282.6 L1123.3 281.0 L1122.5 280.4 L1120.3 280.5 L1119.7 280.6 L1118.7 280.7 L1116.6 280.8 L1116.4 280.8 L1114.8 280.7 L1111.8 280.6 L1111.3 280.6 L1108.4 280.5 L1106.8 280.4 L1106.5 280.4 L1106.4 280.4 L1106.0 280.4 L1105.4 280.5 L1104.0 280.7 L1103.8 280.7 L1102.8 280.8 L1101.5 280.9 L1100.0 281.1 L1099.2 281.2 L1098.0 281.3 L1097.1 281.4 L1097.0 281.4 L1096.4 281.5 L1094.5 281.7 L1094.4 281.7 L1092.2 281.9 L1091.0 282.1 L1090.2 282.2 L1090.0 282.2 L1088.8 282.3 L1087.4 282.5 L1087.2 282.5 L1087.0 282.5 L1083.0 282.3 L1082.8 282.3 L1079.6 282.1 L1078.6 282.1 L1076.0 282.0 L1075.4 282.0 L1075.0 281.9 L1073.0 281.8 L1072.2 281.8 L1070.5 281.4 L1070.0 281.2 L1068.0 280.8 L1064.0 279.8 L1063.8 279.7 L1060.0 279.8 L1059.3 279.8 L1059.0 279.9 L1054.0 280.0 L1050.0 280.2 L1049.0 280.2 L1046.0 280.3 L1045.5 280.3 L1045.0 280.3 L1042.7 280.4 L1042.0 280.4 L1041.6 280.4 L1038.4 280.2 L1036.8 280.2 L1032.5 280.0 L1032.0 280.0 L1028.4 278.8 L1028.2 278.8 L1027.0 278.8 L1023.3 278.8 L1023.0 278.5 L1021.0 276.1 L1020.8 275.9 L1020.4 275.9 L1013.5 276.4 L1012.6 276.5 L1012.4 276.4 L1010.5 275.5 L1010.0 275.3 L1009.7 275.3 L1005.7 275.8 L1005.0 275.9 L1003.0 278.0 L1002.0 279.0 L1001.6 279.0 L996.2 279.5 L993.5 279.7 L993.1 279.7 L992.7 279.7 L986.7 279.0 L985.5 278.9 L984.3 278.8 L982.3 280.0 L981.8 280.3 L979.0 282.5 L978.0 283.3 L977.4 283.8 L977.0 283.8 L974.7 283.9 L973.7 284.0 L973.0 284.0 L971.8 282.8 L971.0 282.8 L970.7 282.8 L964.2 282.9 L960.0 282.9 L958.6 282.9 L955.5 283.0 L954.2 283.0 L948.6 285.0 L948.5 285.1 L947.9 285.3 L946.0 288.2 L945.3 289.3 L945.2 289.3 L945.0 289.4 L944.0 289.9 L941.6 291.0 L940.8 291.0 L940.0 291.0 L934.8 291.0 L934.0 291.0 L933.0 291.8 L932.2 292.5 L932.0 292.7 L930.3 294.1 L929.6 294.5 L926.5 296.2 L926.4 296.2 L926.0 296.2 L925.0 296.2 L918.3 296.3 L915.4 296.4 L915.2 296.4 L915.0 296.4 L913.4 296.7 L905.7 297.9 L902.6 296.9 L902.0 297.0 L899.0 297.7 L895.0 298.4 L893.8 298.6 L891.0 299.1 L890.7 299.1 L890.4 299.0 L888.0 298.7 L884.6 298.2 L881.0 298.5 L873.0 299.1 L870.0 298.9 L861.6 298.2 L857.4 299.1 L857.2 299.1 L850.3 298.2 L849.5 298.1 L848.6 298.0 L847.0 298.3 L843.2 299.0 L841.4 299.4 L841.0 299.5 L838.5 299.8 L833.8 300.4 L830.0 300.8 L824.0 301.6 L823.5 301.9 L819.8 303.7 L819.6 304.0 L817.6 307.3 L817.2 307.3 L811.0 308.0 L810.0 308.1 L808.6 308.2 L805.0 308.6 L802.5 308.8 L802.3 308.8 L802.0 308.7 L799.0 308.4 L798.2 308.3 L792.8 310.2 L791.3 310.8 L791.0 310.9 L789.0 314.8 L788.8 315.2 L788.0 315.3 L775.0 316.1 L774.0 316.2 L766.5 316.7 L766.0 317.4 L765.3 318.4 L765.0 318.8 L764.4 319.6 L763.0 319.6 L755.0 319.6 L753.5 319.6 L753.0 319.6 L752.7 319.6 L748.2 320.0 L748.0 320.0 L746.4 320.2 L746.0 320.2 L742.0 323.3 L741.0 323.4 L738.0 323.6 L737.8 323.8 L735.4 325.7 L735.0 326.0 L734.8 326.0 L725.2 326.3 L725.0 326.3 L724.7 326.8 L723.6 328.5 L722.0 331.0 L721.5 331.0 L718.0 330.8 L716.0 330.7 L715.5 330.7 L714.0 330.6 L713.0 330.6 L711.0 330.4 L708.6 330.3 L708.0 330.3 L706.5 328.8 L706.0 328.3 L704.0 329.0 L695.0 330.3 L690.0 331.0 L687.0 330.8 L677.0 330.3 L675.0 329.7 L647.0 329.7 L645.5 327.9 L643.0 329.2 L612.0 330.0 L607.0 329.5 L600.0 328.9 L591.3 328.7 L590.0 330.0 L571.0 329.7 L561.7 329.0 L561.0 329.0 L544.0 329.0 L536.0 330.6 L521.0 330.6 L513.0 332.7 L505.0 332.7 L502.6 332.7 L480.0 333.2 L473.7 333.3 L473.0 333.3 L471.7 333.5 L464.0 334.4 L463.6 334.4 L462.0 336.5 L446.0 337.1 L440.0 337.3 L435.0 338.3 L429.0 338.3 L427.5 338.3 L427.0 338.3 L425.6 334.7 L423.6 336.0 L423.0 336.0 L412.8 335.6 L398.0 336.3 L392.7 337.4 L390.0 338.7 L372.5 339.2 L370.0 340.6 L369.8 340.6 L345.0 341.8 L343.0 341.9 L340.3 340.7 L340.0 340.6 L331.0 341.0 L330.9 341.1 L328.2 343.1 L328.0 343.3 L322.8 343.7 L322.0 343.8 L318.8 343.8 L302.4 344.1 L300.0 341.7 L298.0 341.7 L293.2 343.2 L293.0 343.3 L277.8 343.9 L272.4 344.1 L265.0 344.4 L249.9 345.0 L247.8 347.0 L239.8 347.7 L238.4 347.8 L238.0 347.9 L217.7 349.7 L217.6 349.7 L217.5 352.6 L214.2 352.7 L213.0 352.7 L211.6 353.7 L210.0 354.8 L206.9 354.9 L204.8 355.0 L186.7 355.7 L184.7 355.8 L178.0 356.0 L176.6 356.1 L174.0 356.2 L152.0 356.6 L151.0 356.6 L132.0 356.6 L109.0 356.6 Z" fill="url(#g_fobxx)" stroke="none"/><path d="M109.0 349.7 L132.0 349.7 L151.0 348.7 L152.0 347.8 L174.0 347.4 L176.6 347.3 L178.0 343.7 L184.7 343.0 L186.7 340.0 L204.8 339.2 L206.9 336.6 L210.0 335.9 L211.6 335.6 L213.0 335.1 L214.2 334.7 L217.5 334.5 L217.6 332.9 L217.7 331.2 L238.0 328.6 L238.4 328.5 L239.8 328.4 L247.8 328.0 L249.9 325.8 L265.0 325.6 L272.4 325.5 L277.8 324.2 L293.0 323.5 L293.2 323.5 L298.0 321.5 L300.0 321.8 L302.4 324.5 L318.8 324.0 L322.0 322.9 L322.8 322.6 L328.0 322.6 L328.2 322.6 L330.9 320.2 L331.0 320.2 L340.0 319.9 L340.3 319.9 L343.0 321.0 L345.0 320.9 L369.8 319.9 L370.0 319.8 L372.5 318.5 L390.0 318.3 L392.7 316.7 L398.0 315.9 L412.8 315.0 L423.0 315.8 L423.6 315.9 L425.6 314.1 L427.0 317.5 L427.5 317.6 L429.0 318.1 L435.0 318.0 L440.0 317.2 L446.0 318.0 L462.0 317.5 L463.6 315.4 L464.0 314.9 L471.7 314.9 L473.0 312.7 L473.7 311.5 L480.0 311.3 L502.6 310.4 L505.0 311.8 L513.0 310.8 L521.0 308.8 L536.0 307.7 L544.0 306.1 L561.0 305.9 L561.7 305.9 L571.0 307.2 L590.0 307.5 L591.3 306.1 L600.0 306.2 L607.0 307.2 L612.0 306.4 L643.0 305.9 L645.5 304.1 L647.0 306.8 L675.0 307.2 L677.0 308.5 L687.0 309.1 L690.0 308.5 L695.0 307.5 L704.0 304.5 L706.0 306.7 L706.5 307.2 L708.0 303.6 L708.6 302.1 L711.0 302.1 L713.0 306.8 L714.0 306.8 L715.5 306.8 L716.0 306.8 L718.0 306.8 L721.5 306.8 L722.0 306.1 L723.6 303.7 L724.7 302.1 L725.0 302.1 L725.2 302.1 L734.8 301.4 L735.0 301.2 L735.4 300.9 L737.8 298.9 L738.0 298.7 L741.0 298.4 L742.0 298.3 L746.0 296.0 L746.4 295.7 L748.0 294.8 L748.2 294.7 L752.7 293.2 L753.0 293.1 L753.5 292.9 L755.0 292.8 L763.0 292.4 L764.4 291.7 L765.0 291.3 L765.3 291.2 L766.0 290.8 L766.5 290.8 L774.0 290.6 L775.0 290.6 L788.0 290.2 L788.8 289.3 L789.0 289.1 L791.0 286.9 L791.3 286.6 L792.8 286.1 L798.2 284.4 L799.0 284.2 L802.0 284.1 L802.3 284.1 L802.5 284.1 L805.0 284.0 L808.6 283.8 L810.0 283.8 L811.0 283.7 L817.2 283.5 L817.6 283.0 L819.6 280.3 L819.8 280.2 L823.5 277.9 L824.0 277.8 L830.0 277.1 L833.8 276.7 L838.5 276.0 L841.0 275.7 L841.4 275.6 L843.2 275.3 L847.0 274.8 L848.6 272.7 L849.5 271.5 L850.3 270.4 L857.2 270.9 L857.4 270.9 L861.6 270.6 L870.0 270.0 L873.0 269.8 L881.0 269.3 L884.6 269.5 L888.0 269.6 L890.4 270.2 L890.7 270.1 L891.0 269.9 L893.8 268.7 L895.0 268.7 L899.0 268.7 L902.0 268.7 L902.6 268.7 L905.7 269.6 L913.4 267.6 L915.0 267.2 L915.2 267.1 L915.4 267.1 L918.3 266.9 L925.0 266.5 L926.0 266.4 L926.4 266.4 L926.5 266.4 L929.6 264.9 L930.3 264.6 L932.0 263.3 L932.2 263.1 L933.0 262.5 L934.0 261.7 L934.8 261.7 L940.0 261.5 L940.8 261.4 L941.6 261.4 L944.0 260.6 L945.0 260.3 L945.2 260.2 L945.3 260.2 L946.0 258.8 L947.9 254.9 L948.5 254.7 L948.6 254.7 L954.2 253.2 L955.5 253.2 L958.6 253.2 L960.0 253.2 L964.2 253.2 L970.7 253.2 L971.0 253.2 L971.8 253.2 L973.0 254.1 L973.7 254.1 L974.7 254.0 L977.0 253.9 L977.4 253.9 L978.0 253.2 L979.0 252.0 L981.8 248.8 L982.3 248.6 L984.3 247.6 L985.5 247.7 L986.7 247.9 L992.7 248.6 L993.1 248.6 L993.5 248.6 L996.2 248.3 L1001.6 247.8 L1002.0 247.8 L1003.0 247.3 L1005.0 246.3 L1005.7 246.3 L1009.7 246.1 L1010.0 246.1 L1010.5 246.3 L1012.4 247.2 L1012.6 247.3 L1013.5 247.2 L1020.4 246.6 L1020.8 246.6 L1021.0 246.8 L1023.0 249.2 L1023.3 249.5 L1027.0 249.7 L1028.2 249.8 L1028.4 249.8 L1032.0 251.1 L1032.5 251.1 L1036.8 251.1 L1038.4 251.1 L1041.6 250.9 L1042.0 250.9 L1042.7 250.8 L1045.0 250.7 L1045.5 250.7 L1046.0 250.6 L1049.0 250.5 L1050.0 250.4 L1054.0 250.4 L1059.0 250.3 L1059.3 250.3 L1060.0 250.3 L1063.8 250.2 L1064.0 250.2 L1068.0 250.2 L1070.0 250.1 L1070.5 250.1 L1072.2 250.0 L1073.0 250.0 L1075.0 249.9 L1075.4 249.9 L1076.0 249.9 L1078.6 249.8 L1079.6 249.8 L1082.8 249.7 L1083.0 249.6 L1087.0 249.5 L1087.2 249.4 L1087.4 249.3 L1088.8 248.7 L1090.0 248.1 L1090.2 248.0 L1091.0 247.8 L1092.2 247.6 L1094.4 247.0 L1094.5 246.9 L1096.4 245.1 L1097.0 244.5 L1097.1 244.5 L1098.0 244.3 L1099.2 244.0 L1100.0 243.8 L1101.5 243.5 L1102.8 243.2 L1103.8 242.8 L1104.0 242.7 L1105.4 242.1 L1106.0 241.9 L1106.4 241.7 L1106.5 241.7 L1106.8 241.8 L1108.4 242.0 L1111.3 242.4 L1111.8 242.4 L1114.8 242.4 L1116.4 242.4 L1116.6 242.4 L1118.7 242.4 L1119.7 242.4 L1120.3 242.3 L1122.5 241.7 L1123.3 242.7 L1125.6 245.5 L1126.0 246.0 L1127.5 251.2 L1128.7 250.3 L1130.2 249.2 L1130.3 249.1 L1131.7 249.0 L1132.5 248.9 L1134.8 248.7 L1134.9 248.7 L1135.6 248.6 L1137.2 248.4 L1140.6 248.1 L1140.8 248.1 L1143.6 248.7" fill="none" stroke="#1f6f5f" stroke-width="1.7" stroke-linejoin="round" stroke-linecap="round"/><path d="M463.6 334.4 L464.0 334.4 L471.7 333.5 L473.0 333.3 L473.7 333.3 L480.0 333.2 L502.6 332.7 L505.0 332.7 L513.0 332.7 L521.0 330.6 L536.0 330.6 L544.0 329.0 L561.0 329.0 L561.7 329.0 L571.0 329.7 L590.0 330.0 L591.3 328.7 L600.0 328.9 L607.0 329.5 L612.0 330.0 L643.0 329.2 L645.5 327.9 L647.0 329.7 L675.0 329.7 L677.0 330.3 L687.0 330.8 L690.0 331.0 L695.0 330.3 L704.0 329.0 L706.0 328.3 L706.5 328.8 L708.0 330.3 L708.6 330.3 L711.0 330.4 L713.0 330.6 L714.0 330.6 L715.5 330.7 L716.0 330.7 L718.0 330.8 L721.5 331.0 L722.0 331.0 L723.6 328.5 L724.7 326.8 L725.0 326.3 L725.2 326.3 L734.8 326.0 L735.0 326.0 L735.4 325.7 L737.8 323.8 L738.0 323.6 L741.0 323.4 L742.0 323.3 L746.0 320.2 L746.4 320.2 L748.0 320.0 L748.2 320.0 L752.7 319.6 L753.0 319.6 L753.5 319.6 L755.0 319.6 L763.0 319.6 L764.4 319.6 L765.0 318.8 L765.3 318.4 L766.0 317.4 L766.5 316.7 L774.0 316.2 L775.0 316.1 L788.0 315.3 L788.8 315.2 L789.0 314.8 L791.0 310.9 L791.3 310.8 L792.8 310.2 L798.2 308.3 L799.0 308.4 L802.0 308.7 L802.3 308.8 L802.5 308.8 L805.0 308.6 L808.6 308.2 L810.0 308.1 L811.0 308.0 L817.2 307.3 L817.6 307.3 L819.6 304.0 L819.8 303.7 L823.5 301.9 L824.0 301.6 L830.0 300.8 L833.8 300.4 L838.5 299.8 L841.0 299.5 L841.4 299.4 L843.2 299.0 L847.0 298.3 L848.6 298.0 L849.5 298.1 L850.3 298.2 L857.2 299.1 L857.4 299.1 L861.6 298.2 L870.0 298.9 L873.0 299.1 L881.0 298.5 L884.6 298.2 L888.0 298.7 L890.4 299.0 L890.7 299.1 L891.0 299.1 L893.8 298.6 L895.0 298.4 L899.0 297.7 L902.0 297.0 L902.6 296.9 L905.7 297.9 L913.4 296.7 L915.0 296.4 L915.2 296.4 L915.4 296.4 L918.3 296.3 L925.0 296.2 L926.0 296.2 L926.4 296.2 L926.5 296.2 L929.6 294.5 L930.3 294.1 L932.0 292.7 L932.2 292.5 L933.0 291.8 L934.0 291.0 L934.8 291.0 L940.0 291.0 L940.8 291.0 L941.6 291.0 L944.0 289.9 L945.0 289.4 L945.2 289.3 L945.3 289.3 L946.0 288.2 L947.9 285.3 L948.5 285.1 L948.6 285.0 L954.2 283.0 L955.5 283.0 L958.6 282.9 L960.0 282.9 L964.2 282.9 L970.7 282.8 L971.0 282.8 L971.8 282.8 L973.0 284.0 L973.7 284.0 L974.7 283.9 L977.0 283.8 L977.4 283.8 L978.0 283.3 L979.0 282.5 L981.8 280.3 L982.3 280.0 L984.3 278.8 L985.5 278.9 L986.7 279.0 L992.7 279.7 L993.1 279.7 L993.5 279.7 L996.2 279.5 L1001.6 279.0 L1002.0 279.0 L1003.0 278.0 L1005.0 275.9 L1005.7 275.8 L1009.7 275.3 L1010.0 275.3 L1010.5 275.5 L1012.4 276.4 L1012.6 276.5 L1013.5 276.4 L1020.4 275.9 L1020.8 275.9 L1021.0 276.1 L1023.0 278.5 L1023.3 278.8 L1027.0 278.8 L1028.2 278.8 L1028.4 278.8 L1032.0 280.0 L1032.5 280.0 L1036.8 280.2 L1038.4 280.2 L1041.6 280.4 L1042.0 280.4 L1042.7 280.4 L1045.0 280.3 L1045.5 280.3 L1046.0 280.3 L1049.0 280.2 L1050.0 280.2 L1054.0 280.0 L1059.0 279.9 L1059.3 279.8 L1060.0 279.8 L1063.8 279.7 L1064.0 279.8 L1068.0 280.8 L1070.0 281.2 L1070.5 281.4 L1072.2 281.8 L1073.0 281.8 L1075.0 281.9 L1075.4 282.0 L1076.0 282.0 L1078.6 282.1 L1079.6 282.1 L1082.8 282.3 L1083.0 282.3 L1087.0 282.5 L1087.2 282.5 L1087.4 282.5 L1088.8 282.3 L1090.0 282.2 L1090.2 282.2 L1091.0 282.1 L1092.2 281.9 L1094.4 281.7 L1094.5 281.7 L1096.4 281.5 L1097.0 281.4 L1097.1 281.4 L1098.0 281.3 L1099.2 281.2 L1100.0 281.1 L1101.5 280.9 L1102.8 280.8 L1103.8 280.7 L1104.0 280.7 L1105.4 280.5 L1106.0 280.4 L1106.4 280.4 L1106.5 280.4 L1106.8 280.4 L1108.4 280.5 L1111.3 280.6 L1111.8 280.6 L1114.8 280.7 L1116.4 280.8 L1116.6 280.8 L1118.7 280.7 L1119.7 280.6 L1120.3 280.5 L1122.5 280.4 L1123.3 281.0 L1125.6 282.6 L1126.0 282.9 L1127.5 287.6 L1128.7 286.7 L1130.2 285.5 L1130.3 285.4 L1131.7 285.1 L1132.5 285.0 L1134.8 284.5 L1134.9 284.5 L1135.6 284.3 L1137.2 284.0 L1140.6 283.3 L1140.8 283.3 L1143.6 283.8 L1143.6 309.6 L1140.8 309.9 L1140.6 310.0 L1137.2 310.4 L1135.6 310.6 L1134.9 310.7 L1134.8 310.7 L1132.5 310.9 L1131.7 311.0 L1130.3 311.2 L1130.2 311.2 L1128.7 311.4 L1127.5 311.4 L1126.0 311.4 L1125.6 311.4 L1123.3 311.4 L1122.5 311.4 L1120.3 311.4 L1119.7 311.4 L1118.7 311.4 L1116.6 311.4 L1116.4 311.4 L1114.8 311.4 L1111.8 311.4 L1111.3 311.4 L1108.4 311.4 L1106.8 311.4 L1106.5 311.4 L1106.4 311.4 L1106.0 311.5 L1105.4 311.5 L1104.0 311.7 L1103.8 311.8 L1102.8 311.9 L1101.5 312.1 L1100.0 312.3 L1099.2 312.4 L1098.0 312.6 L1097.1 312.7 L1097.0 312.7 L1096.4 312.8 L1094.5 313.0 L1094.4 313.0 L1092.2 313.3 L1091.0 313.5 L1090.2 313.6 L1090.0 313.6 L1088.8 313.8 L1087.4 314.0 L1087.2 314.0 L1087.0 314.0 L1083.0 313.8 L1082.8 313.8 L1079.6 313.6 L1078.6 313.5 L1076.0 313.4 L1075.4 313.2 L1075.0 313.1 L1073.0 312.6 L1072.2 312.4 L1070.5 312.0 L1070.0 311.9 L1068.0 311.4 L1064.0 310.4 L1063.8 310.4 L1060.0 310.5 L1059.3 310.5 L1059.0 310.6 L1054.0 310.7 L1050.0 310.8 L1049.0 310.9 L1046.0 311.0 L1045.5 311.0 L1045.0 311.0 L1042.7 311.0 L1042.0 311.0 L1041.6 311.1 L1038.4 311.1 L1036.8 311.1 L1032.5 311.2 L1032.0 311.0 L1028.4 309.9 L1028.2 309.9 L1027.0 309.5 L1023.3 309.1 L1023.0 309.1 L1021.0 306.8 L1020.8 306.8 L1020.4 306.8 L1013.5 307.1 L1012.6 307.2 L1012.4 307.2 L1010.5 306.3 L1010.0 306.0 L1009.7 305.9 L1005.7 305.9 L1005.0 305.9 L1003.0 307.8 L1002.0 308.7 L1001.6 309.1 L996.2 310.0 L993.5 310.4 L993.1 310.3 L992.7 310.3 L986.7 309.3 L985.5 309.1 L984.3 309.3 L982.3 309.7 L981.8 309.8 L979.0 310.4 L978.0 310.6 L977.4 310.7 L977.0 310.8 L974.7 311.2 L973.7 311.0 L973.0 310.9 L971.8 310.6 L971.0 310.5 L970.7 310.4 L964.2 310.3 L960.0 310.2 L958.6 310.2 L955.5 310.7 L954.2 310.9 L948.6 311.8 L948.5 311.8 L947.9 312.5 L946.0 314.8 L945.3 315.7 L945.2 315.8 L945.0 315.8 L944.0 316.0 L941.6 316.5 L940.8 316.7 L940.0 316.8 L934.8 317.8 L934.0 318.0 L933.0 318.2 L932.2 318.3 L932.0 318.3 L930.3 318.6 L929.6 318.7 L926.5 319.1 L926.4 319.1 L926.0 319.1 L925.0 319.2 L918.3 319.4 L915.4 319.5 L915.2 319.5 L915.0 319.5 L913.4 319.6 L905.7 320.3 L902.6 320.6 L902.0 320.7 L899.0 321.0 L895.0 321.4 L893.8 321.5 L891.0 321.7 L890.7 321.7 L890.4 321.7 L888.0 321.8 L884.6 321.9 L881.0 322.0 L873.0 322.2 L870.0 321.9 L861.6 321.0 L857.4 320.8 L857.2 320.8 L850.3 320.4 L849.5 320.3 L848.6 320.3 L847.0 320.7 L843.2 321.7 L841.4 322.2 L841.0 322.2 L838.5 322.4 L833.8 322.6 L830.0 322.9 L824.0 323.2 L823.5 323.3 L819.8 324.1 L819.6 324.2 L817.6 324.6 L817.2 324.7 L811.0 325.4 L810.0 325.6 L808.6 325.7 L805.0 326.2 L802.5 326.5 L802.3 326.5 L802.0 326.5 L799.0 326.7 L798.2 326.7 L792.8 326.9 L791.3 327.0 L791.0 327.0 L789.0 331.0 L788.8 331.4 L788.0 331.4 L775.0 331.4 L774.0 331.3 L766.5 330.8 L766.0 331.5 L765.3 332.5 L765.0 332.9 L764.4 333.7 L763.0 333.8 L755.0 334.3 L753.5 334.4 L753.0 334.4 L752.7 334.4 L748.2 334.6 L748.0 334.6 L746.4 334.7 L746.0 334.7 L742.0 334.9 L741.0 334.9 L738.0 335.1 L737.8 335.1 L735.4 335.2 L735.0 335.2 L734.8 335.2 L725.2 335.7 L725.0 335.7 L724.7 336.0 L723.6 337.0 L722.0 338.4 L721.5 338.4 L718.0 338.1 L716.0 338.0 L715.5 337.9 L714.0 337.8 L713.0 337.8 L711.0 337.6 L708.6 337.4 L708.0 337.4 L706.5 337.3 L706.0 336.9 L704.0 335.2 L695.0 335.3 L690.0 335.4 L687.0 335.5 L677.0 335.6 L675.0 334.3 L647.0 334.0 L645.5 334.0 L643.0 333.9 L612.0 333.6 L607.0 333.8 L600.0 333.0 L591.3 332.7 L590.0 332.6 L571.0 331.9 L561.7 331.0 L561.0 331.0 L544.0 331.0 L536.0 332.7 L521.0 332.7 L513.0 334.4 L505.0 334.1 L502.6 334.1 L480.0 334.5 L473.7 334.6 L473.0 334.6 L471.7 334.8 L464.0 336.3 L463.6 336.4 Z" fill="url(#g_usdy)" stroke="none"/><path d="M463.6 334.4 L464.0 334.4 L471.7 333.5 L473.0 333.3 L473.7 333.3 L480.0 333.2 L502.6 332.7 L505.0 332.7 L513.0 332.7 L521.0 330.6 L536.0 330.6 L544.0 329.0 L561.0 329.0 L561.7 329.0 L571.0 329.7 L590.0 330.0 L591.3 328.7 L600.0 328.9 L607.0 329.5 L612.0 330.0 L643.0 329.2 L645.5 327.9 L647.0 329.7 L675.0 329.7 L677.0 330.3 L687.0 330.8 L690.0 331.0 L695.0 330.3 L704.0 329.0 L706.0 328.3 L706.5 328.8 L708.0 330.3 L708.6 330.3 L711.0 330.4 L713.0 330.6 L714.0 330.6 L715.5 330.7 L716.0 330.7 L718.0 330.8 L721.5 331.0 L722.0 331.0 L723.6 328.5 L724.7 326.8 L725.0 326.3 L725.2 326.3 L734.8 326.0 L735.0 326.0 L735.4 325.7 L737.8 323.8 L738.0 323.6 L741.0 323.4 L742.0 323.3 L746.0 320.2 L746.4 320.2 L748.0 320.0 L748.2 320.0 L752.7 319.6 L753.0 319.6 L753.5 319.6 L755.0 319.6 L763.0 319.6 L764.4 319.6 L765.0 318.8 L765.3 318.4 L766.0 317.4 L766.5 316.7 L774.0 316.2 L775.0 316.1 L788.0 315.3 L788.8 315.2 L789.0 314.8 L791.0 310.9 L791.3 310.8 L792.8 310.2 L798.2 308.3 L799.0 308.4 L802.0 308.7 L802.3 308.8 L802.5 308.8 L805.0 308.6 L808.6 308.2 L810.0 308.1 L811.0 308.0 L817.2 307.3 L817.6 307.3 L819.6 304.0 L819.8 303.7 L823.5 301.9 L824.0 301.6 L830.0 300.8 L833.8 300.4 L838.5 299.8 L841.0 299.5 L841.4 299.4 L843.2 299.0 L847.0 298.3 L848.6 298.0 L849.5 298.1 L850.3 298.2 L857.2 299.1 L857.4 299.1 L861.6 298.2 L870.0 298.9 L873.0 299.1 L881.0 298.5 L884.6 298.2 L888.0 298.7 L890.4 299.0 L890.7 299.1 L891.0 299.1 L893.8 298.6 L895.0 298.4 L899.0 297.7 L902.0 297.0 L902.6 296.9 L905.7 297.9 L913.4 296.7 L915.0 296.4 L915.2 296.4 L915.4 296.4 L918.3 296.3 L925.0 296.2 L926.0 296.2 L926.4 296.2 L926.5 296.2 L929.6 294.5 L930.3 294.1 L932.0 292.7 L932.2 292.5 L933.0 291.8 L934.0 291.0 L934.8 291.0 L940.0 291.0 L940.8 291.0 L941.6 291.0 L944.0 289.9 L945.0 289.4 L945.2 289.3 L945.3 289.3 L946.0 288.2 L947.9 285.3 L948.5 285.1 L948.6 285.0 L954.2 283.0 L955.5 283.0 L958.6 282.9 L960.0 282.9 L964.2 282.9 L970.7 282.8 L971.0 282.8 L971.8 282.8 L973.0 284.0 L973.7 284.0 L974.7 283.9 L977.0 283.8 L977.4 283.8 L978.0 283.3 L979.0 282.5 L981.8 280.3 L982.3 280.0 L984.3 278.8 L985.5 278.9 L986.7 279.0 L992.7 279.7 L993.1 279.7 L993.5 279.7 L996.2 279.5 L1001.6 279.0 L1002.0 279.0 L1003.0 278.0 L1005.0 275.9 L1005.7 275.8 L1009.7 275.3 L1010.0 275.3 L1010.5 275.5 L1012.4 276.4 L1012.6 276.5 L1013.5 276.4 L1020.4 275.9 L1020.8 275.9 L1021.0 276.1 L1023.0 278.5 L1023.3 278.8 L1027.0 278.8 L1028.2 278.8 L1028.4 278.8 L1032.0 280.0 L1032.5 280.0 L1036.8 280.2 L1038.4 280.2 L1041.6 280.4 L1042.0 280.4 L1042.7 280.4 L1045.0 280.3 L1045.5 280.3 L1046.0 280.3 L1049.0 280.2 L1050.0 280.2 L1054.0 280.0 L1059.0 279.9 L1059.3 279.8 L1060.0 279.8 L1063.8 279.7 L1064.0 279.8 L1068.0 280.8 L1070.0 281.2 L1070.5 281.4 L1072.2 281.8 L1073.0 281.8 L1075.0 281.9 L1075.4 282.0 L1076.0 282.0 L1078.6 282.1 L1079.6 282.1 L1082.8 282.3 L1083.0 282.3 L1087.0 282.5 L1087.2 282.5 L1087.4 282.5 L1088.8 282.3 L1090.0 282.2 L1090.2 282.2 L1091.0 282.1 L1092.2 281.9 L1094.4 281.7 L1094.5 281.7 L1096.4 281.5 L1097.0 281.4 L1097.1 281.4 L1098.0 281.3 L1099.2 281.2 L1100.0 281.1 L1101.5 280.9 L1102.8 280.8 L1103.8 280.7 L1104.0 280.7 L1105.4 280.5 L1106.0 280.4 L1106.4 280.4 L1106.5 280.4 L1106.8 280.4 L1108.4 280.5 L1111.3 280.6 L1111.8 280.6 L1114.8 280.7 L1116.4 280.8 L1116.6 280.8 L1118.7 280.7 L1119.7 280.6 L1120.3 280.5 L1122.5 280.4 L1123.3 281.0 L1125.6 282.6 L1126.0 282.9 L1127.5 287.6 L1128.7 286.7 L1130.2 285.5 L1130.3 285.4 L1131.7 285.1 L1132.5 285.0 L1134.8 284.5 L1134.9 284.5 L1135.6 284.3 L1137.2 284.0 L1140.6 283.3 L1140.8 283.3 L1143.6 283.8" fill="none" stroke="#8f6bfa" stroke-width="1.7" stroke-linejoin="round" stroke-linecap="round"/><path d="M612.0 333.6 L643.0 333.9 L645.5 334.0 L647.0 334.0 L675.0 334.3 L677.0 335.6 L687.0 335.5 L690.0 335.4 L695.0 335.3 L704.0 335.2 L706.0 336.9 L706.5 337.3 L708.0 337.4 L708.6 337.4 L711.0 337.6 L713.0 337.8 L714.0 337.8 L715.5 337.9 L716.0 338.0 L718.0 338.1 L721.5 338.4 L722.0 338.4 L723.6 337.0 L724.7 336.0 L725.0 335.7 L725.2 335.7 L734.8 335.2 L735.0 335.2 L735.4 335.2 L737.8 335.1 L738.0 335.1 L741.0 334.9 L742.0 334.9 L746.0 334.7 L746.4 334.7 L748.0 334.6 L748.2 334.6 L752.7 334.4 L753.0 334.4 L753.5 334.4 L755.0 334.3 L763.0 333.8 L764.4 333.7 L765.0 332.9 L765.3 332.5 L766.0 331.5 L766.5 330.8 L774.0 331.3 L775.0 331.4 L788.0 331.4 L788.8 331.4 L789.0 331.0 L791.0 327.0 L791.3 327.0 L792.8 326.9 L798.2 326.7 L799.0 326.7 L802.0 326.5 L802.3 326.5 L802.5 326.5 L805.0 326.2 L808.6 325.7 L810.0 325.6 L811.0 325.4 L817.2 324.7 L817.6 324.6 L819.6 324.2 L819.8 324.1 L823.5 323.3 L824.0 323.2 L830.0 322.9 L833.8 322.6 L838.5 322.4 L841.0 322.2 L841.4 322.2 L843.2 321.7 L847.0 320.7 L848.6 320.3 L849.5 320.3 L850.3 320.4 L857.2 320.8 L857.4 320.8 L861.6 321.0 L870.0 321.9 L873.0 322.2 L881.0 322.0 L884.6 321.9 L888.0 321.8 L890.4 321.7 L890.7 321.7 L891.0 321.7 L893.8 321.5 L895.0 321.4 L899.0 321.0 L902.0 320.7 L902.6 320.6 L905.7 320.3 L913.4 319.6 L915.0 319.5 L915.2 319.5 L915.4 319.5 L918.3 319.4 L925.0 319.2 L926.0 319.1 L926.4 319.1 L926.5 319.1 L929.6 318.7 L930.3 318.6 L932.0 318.3 L932.2 318.3 L933.0 318.2 L934.0 318.0 L934.8 317.8 L940.0 316.8 L940.8 316.7 L941.6 316.5 L944.0 316.0 L945.0 315.8 L945.2 315.8 L945.3 315.7 L946.0 314.8 L947.9 312.5 L948.5 311.8 L948.6 311.8 L954.2 310.9 L955.5 310.7 L958.6 310.2 L960.0 310.2 L964.2 310.3 L970.7 310.4 L971.0 310.5 L971.8 310.6 L973.0 310.9 L973.7 311.0 L974.7 311.2 L977.0 310.8 L977.4 310.7 L978.0 310.6 L979.0 310.4 L981.8 309.8 L982.3 309.7 L984.3 309.3 L985.5 309.1 L986.7 309.3 L992.7 310.3 L993.1 310.3 L993.5 310.4 L996.2 310.0 L1001.6 309.1 L1002.0 308.7 L1003.0 307.8 L1005.0 305.9 L1005.7 305.9 L1009.7 305.9 L1010.0 306.0 L1010.5 306.3 L1012.4 307.2 L1012.6 307.2 L1013.5 307.1 L1020.4 306.8 L1020.8 306.8 L1021.0 306.8 L1023.0 309.1 L1023.3 309.1 L1027.0 309.5 L1028.2 309.9 L1028.4 309.9 L1032.0 311.0 L1032.5 311.2 L1036.8 311.1 L1038.4 311.1 L1041.6 311.1 L1042.0 311.0 L1042.7 311.0 L1045.0 311.0 L1045.5 311.0 L1046.0 311.0 L1049.0 310.9 L1050.0 310.8 L1054.0 310.7 L1059.0 310.6 L1059.3 310.5 L1060.0 310.5 L1063.8 310.4 L1064.0 310.4 L1068.0 311.4 L1070.0 311.9 L1070.5 312.0 L1072.2 312.4 L1073.0 312.6 L1075.0 313.1 L1075.4 313.2 L1076.0 313.4 L1078.6 313.5 L1079.6 313.6 L1082.8 313.8 L1083.0 313.8 L1087.0 314.0 L1087.2 314.0 L1087.4 314.0 L1088.8 313.8 L1090.0 313.6 L1090.2 313.6 L1091.0 313.5 L1092.2 313.3 L1094.4 313.0 L1094.5 313.0 L1096.4 312.8 L1097.0 312.7 L1097.1 312.7 L1098.0 312.6 L1099.2 312.4 L1100.0 312.3 L1101.5 312.1 L1102.8 311.9 L1103.8 311.8 L1104.0 311.7 L1105.4 311.5 L1106.0 311.5 L1106.4 311.4 L1106.5 311.4 L1106.8 311.4 L1108.4 311.4 L1111.3 311.4 L1111.8 311.4 L1114.8 311.4 L1116.4 311.4 L1116.6 311.4 L1118.7 311.4 L1119.7 311.4 L1120.3 311.4 L1122.5 311.4 L1123.3 311.4 L1125.6 311.4 L1126.0 311.4 L1127.5 311.4 L1128.7 311.4 L1130.2 311.2 L1130.3 311.2 L1131.7 311.0 L1132.5 310.9 L1134.8 310.7 L1134.9 310.7 L1135.6 310.6 L1137.2 310.4 L1140.6 310.0 L1140.8 309.9 L1143.6 309.6 L1143.6 323.5 L1140.8 323.5 L1140.6 323.5 L1137.2 323.5 L1135.6 323.5 L1134.9 323.5 L1134.8 323.5 L1132.5 324.2 L1131.7 324.5 L1130.3 324.5 L1130.2 324.5 L1128.7 324.5 L1127.5 324.5 L1126.0 324.5 L1125.6 324.5 L1123.3 324.5 L1122.5 324.5 L1120.3 324.5 L1119.7 324.5 L1118.7 324.5 L1116.6 324.5 L1116.4 324.5 L1114.8 324.5 L1111.8 324.5 L1111.3 324.5 L1108.4 324.5 L1106.8 324.5 L1106.5 324.5 L1106.4 324.5 L1106.0 324.5 L1105.4 324.5 L1104.0 324.4 L1103.8 324.4 L1102.8 324.4 L1101.5 324.4 L1100.0 324.3 L1099.2 324.3 L1098.0 324.2 L1097.1 324.2 L1097.0 324.2 L1096.4 324.2 L1094.5 324.1 L1094.4 324.1 L1092.2 324.0 L1091.0 324.0 L1090.2 324.0 L1090.0 324.0 L1088.8 323.9 L1087.4 323.9 L1087.2 323.9 L1087.0 323.9 L1083.0 323.7 L1082.8 323.7 L1079.6 323.6 L1078.6 323.6 L1076.0 323.5 L1075.4 323.4 L1075.0 323.3 L1073.0 322.9 L1072.2 322.7 L1070.5 322.3 L1070.0 322.2 L1068.0 321.8 L1064.0 320.9 L1063.8 320.9 L1060.0 320.8 L1059.3 320.8 L1059.0 320.8 L1054.0 320.7 L1050.0 320.7 L1049.0 320.7 L1046.0 320.6 L1045.5 320.6 L1045.0 320.6 L1042.7 320.6 L1042.0 320.6 L1041.6 320.6 L1038.4 320.6 L1036.8 320.6 L1032.5 320.6 L1032.0 320.5 L1028.4 319.7 L1028.2 319.6 L1027.0 319.4 L1023.3 318.6 L1023.0 318.5 L1021.0 316.6 L1020.8 316.6 L1020.4 316.6 L1013.5 316.1 L1012.6 316.0 L1012.4 316.0 L1010.5 315.9 L1010.0 315.8 L1009.7 315.8 L1005.7 316.2 L1005.0 316.3 L1003.0 316.5 L1002.0 316.6 L1001.6 316.6 L996.2 317.3 L993.5 317.6 L993.1 317.6 L992.7 317.5 L986.7 316.8 L985.5 316.6 L984.3 316.8 L982.3 317.0 L981.8 317.1 L979.0 317.4 L978.0 317.6 L977.4 317.7 L977.0 317.7 L974.7 318.0 L973.7 318.1 L973.0 318.2 L971.8 318.4 L971.0 318.5 L970.7 318.5 L964.2 318.3 L960.0 318.2 L958.6 318.2 L955.5 318.8 L954.2 319.1 L948.6 320.2 L948.5 320.2 L947.9 320.6 L946.0 321.9 L945.3 322.4 L945.2 322.5 L945.0 322.5 L944.0 322.7 L941.6 323.2 L940.8 323.4 L940.0 323.6 L934.8 324.6 L934.0 324.8 L933.0 325.0 L932.2 325.2 L932.0 325.3 L930.3 325.8 L929.6 326.0 L926.5 327.0 L926.4 327.0 L926.0 327.0 L925.0 326.9 L918.3 326.7 L915.4 326.6 L915.2 326.6 L915.0 326.6 L913.4 326.5 L905.7 327.1 L902.6 327.3 L902.0 327.4 L899.0 327.6 L895.0 327.9 L893.8 328.0 L891.0 328.2 L890.7 328.2 L890.4 328.1 L888.0 327.9 L884.6 327.5 L881.0 327.7 L873.0 328.0 L870.0 328.1 L861.6 328.5 L857.4 329.0 L857.2 329.0 L850.3 329.8 L849.5 329.9 L848.6 330.0 L847.0 330.2 L843.2 330.6 L841.4 330.8 L841.0 330.8 L838.5 331.0 L833.8 331.4 L830.0 331.7 L824.0 332.2 L823.5 332.2 L819.8 332.3 L819.6 332.3 L817.6 332.3 L817.2 332.3 L811.0 332.4 L810.0 332.4 L808.6 332.4 L805.0 332.5 L802.5 334.0 L802.3 334.1 L802.0 334.3 L799.0 334.4 L798.2 334.4 L792.8 334.6 L791.3 334.7 L791.0 334.7 L789.0 337.3 L788.8 337.6 L788.0 337.6 L775.0 337.3 L774.0 337.3 L766.5 337.1 L766.0 337.8 L765.3 338.8 L765.0 339.2 L764.4 340.0 L763.0 340.1 L755.0 340.8 L753.5 341.0 L753.0 341.0 L752.7 341.0 L748.2 340.4 L748.0 340.4 L746.4 340.4 L746.0 340.4 L742.0 340.5 L741.0 340.5 L738.0 340.6 L737.8 340.6 L735.4 340.6 L735.0 340.6 L734.8 340.6 L725.2 340.8 L725.0 340.8 L724.7 340.8 L723.6 340.8 L722.0 340.8 L721.5 340.8 L718.0 340.6 L716.0 340.5 L715.5 340.5 L714.0 340.4 L713.0 340.3 L711.0 340.2 L708.6 340.1 L708.0 340.1 L706.5 340.0 L706.0 339.7 L704.0 338.4 L695.0 337.9 L690.0 337.6 L687.0 337.4 L677.0 336.8 L675.0 335.4 L647.0 335.0 L645.5 334.9 L643.0 334.9 L612.0 334.4 Z" fill="url(#g_ustb)" stroke="none"/><path d="M612.0 333.6 L643.0 333.9 L645.5 334.0 L647.0 334.0 L675.0 334.3 L677.0 335.6 L687.0 335.5 L690.0 335.4 L695.0 335.3 L704.0 335.2 L706.0 336.9 L706.5 337.3 L708.0 337.4 L708.6 337.4 L711.0 337.6 L713.0 337.8 L714.0 337.8 L715.5 337.9 L716.0 338.0 L718.0 338.1 L721.5 338.4 L722.0 338.4 L723.6 337.0 L724.7 336.0 L725.0 335.7 L725.2 335.7 L734.8 335.2 L735.0 335.2 L735.4 335.2 L737.8 335.1 L738.0 335.1 L741.0 334.9 L742.0 334.9 L746.0 334.7 L746.4 334.7 L748.0 334.6 L748.2 334.6 L752.7 334.4 L753.0 334.4 L753.5 334.4 L755.0 334.3 L763.0 333.8 L764.4 333.7 L765.0 332.9 L765.3 332.5 L766.0 331.5 L766.5 330.8 L774.0 331.3 L775.0 331.4 L788.0 331.4 L788.8 331.4 L789.0 331.0 L791.0 327.0 L791.3 327.0 L792.8 326.9 L798.2 326.7 L799.0 326.7 L802.0 326.5 L802.3 326.5 L802.5 326.5 L805.0 326.2 L808.6 325.7 L810.0 325.6 L811.0 325.4 L817.2 324.7 L817.6 324.6 L819.6 324.2 L819.8 324.1 L823.5 323.3 L824.0 323.2 L830.0 322.9 L833.8 322.6 L838.5 322.4 L841.0 322.2 L841.4 322.2 L843.2 321.7 L847.0 320.7 L848.6 320.3 L849.5 320.3 L850.3 320.4 L857.2 320.8 L857.4 320.8 L861.6 321.0 L870.0 321.9 L873.0 322.2 L881.0 322.0 L884.6 321.9 L888.0 321.8 L890.4 321.7 L890.7 321.7 L891.0 321.7 L893.8 321.5 L895.0 321.4 L899.0 321.0 L902.0 320.7 L902.6 320.6 L905.7 320.3 L913.4 319.6 L915.0 319.5 L915.2 319.5 L915.4 319.5 L918.3 319.4 L925.0 319.2 L926.0 319.1 L926.4 319.1 L926.5 319.1 L929.6 318.7 L930.3 318.6 L932.0 318.3 L932.2 318.3 L933.0 318.2 L934.0 318.0 L934.8 317.8 L940.0 316.8 L940.8 316.7 L941.6 316.5 L944.0 316.0 L945.0 315.8 L945.2 315.8 L945.3 315.7 L946.0 314.8 L947.9 312.5 L948.5 311.8 L948.6 311.8 L954.2 310.9 L955.5 310.7 L958.6 310.2 L960.0 310.2 L964.2 310.3 L970.7 310.4 L971.0 310.5 L971.8 310.6 L973.0 310.9 L973.7 311.0 L974.7 311.2 L977.0 310.8 L977.4 310.7 L978.0 310.6 L979.0 310.4 L981.8 309.8 L982.3 309.7 L984.3 309.3 L985.5 309.1 L986.7 309.3 L992.7 310.3 L993.1 310.3 L993.5 310.4 L996.2 310.0 L1001.6 309.1 L1002.0 308.7 L1003.0 307.8 L1005.0 305.9 L1005.7 305.9 L1009.7 305.9 L1010.0 306.0 L1010.5 306.3 L1012.4 307.2 L1012.6 307.2 L1013.5 307.1 L1020.4 306.8 L1020.8 306.8 L1021.0 306.8 L1023.0 309.1 L1023.3 309.1 L1027.0 309.5 L1028.2 309.9 L1028.4 309.9 L1032.0 311.0 L1032.5 311.2 L1036.8 311.1 L1038.4 311.1 L1041.6 311.1 L1042.0 311.0 L1042.7 311.0 L1045.0 311.0 L1045.5 311.0 L1046.0 311.0 L1049.0 310.9 L1050.0 310.8 L1054.0 310.7 L1059.0 310.6 L1059.3 310.5 L1060.0 310.5 L1063.8 310.4 L1064.0 310.4 L1068.0 311.4 L1070.0 311.9 L1070.5 312.0 L1072.2 312.4 L1073.0 312.6 L1075.0 313.1 L1075.4 313.2 L1076.0 313.4 L1078.6 313.5 L1079.6 313.6 L1082.8 313.8 L1083.0 313.8 L1087.0 314.0 L1087.2 314.0 L1087.4 314.0 L1088.8 313.8 L1090.0 313.6 L1090.2 313.6 L1091.0 313.5 L1092.2 313.3 L1094.4 313.0 L1094.5 313.0 L1096.4 312.8 L1097.0 312.7 L1097.1 312.7 L1098.0 312.6 L1099.2 312.4 L1100.0 312.3 L1101.5 312.1 L1102.8 311.9 L1103.8 311.8 L1104.0 311.7 L1105.4 311.5 L1106.0 311.5 L1106.4 311.4 L1106.5 311.4 L1106.8 311.4 L1108.4 311.4 L1111.3 311.4 L1111.8 311.4 L1114.8 311.4 L1116.4 311.4 L1116.6 311.4 L1118.7 311.4 L1119.7 311.4 L1120.3 311.4 L1122.5 311.4 L1123.3 311.4 L1125.6 311.4 L1126.0 311.4 L1127.5 311.4 L1128.7 311.4 L1130.2 311.2 L1130.3 311.2 L1131.7 311.0 L1132.5 310.9 L1134.8 310.7 L1134.9 310.7 L1135.6 310.6 L1137.2 310.4 L1140.6 310.0 L1140.8 309.9 L1143.6 309.6" fill="none" stroke="#c4a566" stroke-width="1.7" stroke-linejoin="round" stroke-linecap="round"/><path d="M217.6 349.7 L217.7 349.7 L238.0 347.9 L238.4 347.8 L239.8 347.7 L247.8 347.0 L249.9 345.0 L265.0 344.4 L272.4 344.1 L277.8 343.9 L293.0 343.3 L293.2 343.2 L298.0 341.7 L300.0 341.7 L302.4 344.1 L318.8 343.8 L322.0 343.8 L322.8 343.7 L328.0 343.3 L328.2 343.1 L330.9 341.1 L331.0 341.0 L340.0 340.6 L340.3 340.7 L343.0 341.9 L345.0 341.8 L369.8 340.6 L370.0 340.6 L372.5 339.2 L390.0 338.7 L392.7 337.4 L398.0 336.3 L412.8 335.6 L423.0 336.0 L423.6 336.0 L425.6 334.7 L427.0 338.3 L427.5 338.3 L429.0 338.3 L435.0 338.3 L440.0 337.3 L446.0 337.1 L462.0 336.5 L463.6 336.4 L464.0 336.3 L471.7 334.8 L473.0 334.6 L473.7 334.6 L480.0 334.5 L502.6 334.1 L505.0 334.1 L513.0 334.4 L521.0 332.7 L536.0 332.7 L544.0 331.0 L561.0 331.0 L561.7 331.0 L571.0 331.9 L590.0 332.6 L591.3 332.7 L600.0 333.0 L607.0 333.8 L612.0 334.4 L643.0 334.9 L645.5 334.9 L647.0 335.0 L675.0 335.4 L677.0 336.8 L687.0 337.4 L690.0 337.6 L695.0 337.9 L704.0 338.4 L706.0 339.7 L706.5 340.0 L708.0 340.1 L708.6 340.1 L711.0 340.2 L713.0 340.3 L714.0 340.4 L715.5 340.5 L716.0 340.5 L718.0 340.6 L721.5 340.8 L722.0 340.8 L723.6 340.8 L724.7 340.8 L725.0 340.8 L725.2 340.8 L734.8 340.6 L735.0 340.6 L735.4 340.6 L737.8 340.6 L738.0 340.6 L741.0 340.5 L742.0 340.5 L746.0 340.4 L746.4 340.4 L748.0 340.4 L748.2 340.4 L752.7 341.0 L753.0 341.0 L753.5 341.0 L755.0 340.8 L763.0 340.1 L764.4 340.0 L765.0 339.2 L765.3 338.8 L766.0 337.8 L766.5 337.1 L774.0 337.3 L775.0 337.3 L788.0 337.6 L788.8 337.6 L789.0 337.3 L791.0 334.7 L791.3 334.7 L792.8 334.6 L798.2 334.4 L799.0 334.4 L802.0 334.3 L802.3 334.1 L802.5 334.0 L805.0 332.5 L808.6 332.4 L810.0 332.4 L811.0 332.4 L817.2 332.3 L817.6 332.3 L819.6 332.3 L819.8 332.3 L823.5 332.2 L824.0 332.2 L830.0 331.7 L833.8 331.4 L838.5 331.0 L841.0 330.8 L841.4 330.8 L843.2 330.6 L847.0 330.2 L848.6 330.0 L849.5 329.9 L850.3 329.8 L857.2 329.0 L857.4 329.0 L861.6 328.5 L870.0 328.1 L873.0 328.0 L881.0 327.7 L884.6 327.5 L888.0 327.9 L890.4 328.1 L890.7 328.2 L891.0 328.2 L893.8 328.0 L895.0 327.9 L899.0 327.6 L902.0 327.4 L902.6 327.3 L905.7 327.1 L913.4 326.5 L915.0 326.6 L915.2 326.6 L915.4 326.6 L918.3 326.7 L925.0 326.9 L926.0 327.0 L926.4 327.0 L926.5 327.0 L929.6 326.0 L930.3 325.8 L932.0 325.3 L932.2 325.2 L933.0 325.0 L934.0 324.8 L934.8 324.6 L940.0 323.6 L940.8 323.4 L941.6 323.2 L944.0 322.7 L945.0 322.5 L945.2 322.5 L945.3 322.4 L946.0 321.9 L947.9 320.6 L948.5 320.2 L948.6 320.2 L954.2 319.1 L955.5 318.8 L958.6 318.2 L960.0 318.2 L964.2 318.3 L970.7 318.5 L971.0 318.5 L971.8 318.4 L973.0 318.2 L973.7 318.1 L974.7 318.0 L977.0 317.7 L977.4 317.7 L978.0 317.6 L979.0 317.4 L981.8 317.1 L982.3 317.0 L984.3 316.8 L985.5 316.6 L986.7 316.8 L992.7 317.5 L993.1 317.6 L993.5 317.6 L996.2 317.3 L1001.6 316.6 L1002.0 316.6 L1003.0 316.5 L1005.0 316.3 L1005.7 316.2 L1009.7 315.8 L1010.0 315.8 L1010.5 315.9 L1012.4 316.0 L1012.6 316.0 L1013.5 316.1 L1020.4 316.6 L1020.8 316.6 L1021.0 316.6 L1023.0 318.5 L1023.3 318.6 L1027.0 319.4 L1028.2 319.6 L1028.4 319.7 L1032.0 320.5 L1032.5 320.6 L1036.8 320.6 L1038.4 320.6 L1041.6 320.6 L1042.0 320.6 L1042.7 320.6 L1045.0 320.6 L1045.5 320.6 L1046.0 320.6 L1049.0 320.7 L1050.0 320.7 L1054.0 320.7 L1059.0 320.8 L1059.3 320.8 L1060.0 320.8 L1063.8 320.9 L1064.0 320.9 L1068.0 321.8 L1070.0 322.2 L1070.5 322.3 L1072.2 322.7 L1073.0 322.9 L1075.0 323.3 L1075.4 323.4 L1076.0 323.5 L1078.6 323.6 L1079.6 323.6 L1082.8 323.7 L1083.0 323.7 L1087.0 323.9 L1087.2 323.9 L1087.4 323.9 L1088.8 323.9 L1090.0 324.0 L1090.2 324.0 L1091.0 324.0 L1092.2 324.0 L1094.4 324.1 L1094.5 324.1 L1096.4 324.2 L1097.0 324.2 L1097.1 324.2 L1098.0 324.2 L1099.2 324.3 L1100.0 324.3 L1101.5 324.4 L1102.8 324.4 L1103.8 324.4 L1104.0 324.4 L1105.4 324.5 L1106.0 324.5 L1106.4 324.5 L1106.5 324.5 L1106.8 324.5 L1108.4 324.5 L1111.3 324.5 L1111.8 324.5 L1114.8 324.5 L1116.4 324.5 L1116.6 324.5 L1118.7 324.5 L1119.7 324.5 L1120.3 324.5 L1122.5 324.5 L1123.3 324.5 L1125.6 324.5 L1126.0 324.5 L1127.5 324.5 L1128.7 324.5 L1130.2 324.5 L1130.3 324.5 L1131.7 324.5 L1132.5 324.2 L1134.8 323.5 L1134.9 323.5 L1135.6 323.5 L1137.2 323.5 L1140.6 323.5 L1140.8 323.5 L1143.6 323.5 L1143.6 336.0 L1140.8 336.0 L1140.6 336.0 L1137.2 336.0 L1135.6 336.0 L1134.9 336.0 L1134.8 336.0 L1132.5 336.0 L1131.7 336.0 L1130.3 336.0 L1130.2 336.0 L1128.7 336.0 L1127.5 336.0 L1126.0 336.1 L1125.6 336.1 L1123.3 336.1 L1122.5 336.1 L1120.3 336.1 L1119.7 336.1 L1118.7 336.1 L1116.6 336.1 L1116.4 336.1 L1114.8 336.1 L1111.8 336.1 L1111.3 336.1 L1108.4 336.1 L1106.8 336.1 L1106.5 336.1 L1106.4 336.1 L1106.0 336.1 L1105.4 336.1 L1104.0 336.1 L1103.8 336.1 L1102.8 336.1 L1101.5 336.1 L1100.0 336.1 L1099.2 336.1 L1098.0 336.1 L1097.1 336.1 L1097.0 336.1 L1096.4 336.1 L1094.5 336.1 L1094.4 336.1 L1092.2 336.2 L1091.0 336.2 L1090.2 336.2 L1090.0 336.2 L1088.8 336.2 L1087.4 336.2 L1087.2 336.2 L1087.0 336.2 L1083.0 336.2 L1082.8 336.2 L1079.6 336.2 L1078.6 336.2 L1076.0 336.2 L1075.4 336.1 L1075.0 336.1 L1073.0 335.9 L1072.2 335.8 L1070.5 335.6 L1070.0 335.6 L1068.0 335.4 L1064.0 335.0 L1063.8 335.0 L1060.0 334.9 L1059.3 334.8 L1059.0 334.8 L1054.0 334.6 L1050.0 334.5 L1049.0 334.4 L1046.0 334.3 L1045.5 334.3 L1045.0 334.3 L1042.7 334.3 L1042.0 334.3 L1041.6 334.2 L1038.4 334.2 L1036.8 334.2 L1032.5 334.1 L1032.0 334.0 L1028.4 333.5 L1028.2 333.5 L1027.0 333.3 L1023.3 332.7 L1023.0 332.7 L1021.0 330.3 L1020.8 330.3 L1020.4 330.3 L1013.5 330.6 L1012.6 330.7 L1012.4 330.7 L1010.5 330.8 L1010.0 330.8 L1009.7 330.8 L1005.7 331.0 L1005.0 331.0 L1003.0 331.5 L1002.0 331.8 L1001.6 331.9 L996.2 332.2 L993.5 332.3 L993.1 332.3 L992.7 332.3 L986.7 332.6 L985.5 332.7 L984.3 332.9 L982.3 333.3 L981.8 333.4 L979.0 333.8 L978.0 334.0 L977.4 334.1 L977.0 334.2 L974.7 334.6 L973.7 334.5 L973.0 334.4 L971.8 334.2 L971.0 334.1 L970.7 334.1 L964.2 333.9 L960.0 333.7 L958.6 333.7 L955.5 334.4 L954.2 334.7 L948.6 336.0 L948.5 336.0 L947.9 336.4 L946.0 337.8 L945.3 338.3 L945.2 338.4 L945.0 338.4 L944.0 338.6 L941.6 338.9 L940.8 339.0 L940.0 339.1 L934.8 339.8 L934.0 339.9 L933.0 340.0 L932.2 340.2 L932.0 340.2 L930.3 340.6 L929.6 340.8 L926.5 341.5 L926.4 341.5 L926.0 341.5 L925.0 341.6 L918.3 341.8 L915.4 341.9 L915.2 341.9 L915.0 342.0 L913.4 342.0 L905.7 342.3 L902.6 342.5 L902.0 342.5 L899.0 342.6 L895.0 343.3 L893.8 343.5 L891.0 344.0 L890.7 344.0 L890.4 344.0 L888.0 344.0 L884.6 344.0 L881.0 343.9 L873.0 343.9 L870.0 343.9 L861.6 343.8 L857.4 344.3 L857.2 344.3 L850.3 345.1 L849.5 345.2 L848.6 345.3 L847.0 345.5 L843.2 345.9 L841.4 346.2 L841.0 346.2 L838.5 346.5 L833.8 347.1 L830.0 347.6 L824.0 347.6 L823.5 347.6 L819.8 347.6 L819.6 347.6 L817.6 347.6 L817.2 347.6 L811.0 347.6 L810.0 347.6 L808.6 347.6 L805.0 347.6 L802.5 347.6 L802.3 347.6 L802.0 347.6 L799.0 347.6 L798.2 347.6 L792.8 347.6 L791.3 347.6 L791.0 347.6 L789.0 347.6 L788.8 347.6 L788.0 347.6 L775.0 347.6 L774.0 347.5 L766.5 346.9 L766.0 346.9 L765.3 347.0 L765.0 347.0 L764.4 347.0 L763.0 347.1 L755.0 347.5 L753.5 347.5 L753.0 347.5 L752.7 347.5 L748.2 347.4 L748.0 347.4 L746.4 347.4 L746.0 347.4 L742.0 347.4 L741.0 347.4 L738.0 347.4 L737.8 347.4 L735.4 347.3 L735.0 347.3 L734.8 347.3 L725.2 347.3 L725.0 347.3 L724.7 347.3 L723.6 347.2 L722.0 347.2 L721.5 347.2 L718.0 347.2 L716.0 347.2 L715.5 347.2 L714.0 347.2 L713.0 347.2 L711.0 347.1 L708.6 347.1 L708.0 347.1 L706.5 347.1 L706.0 346.8 L704.0 345.4 L695.0 345.2 L690.0 345.1 L687.0 345.0 L677.0 344.8 L675.0 343.5 L647.0 343.2 L645.5 343.1 L643.0 343.1 L612.0 341.9 L607.0 341.8 L600.0 341.5 L591.3 341.6 L590.0 341.7 L571.0 341.9 L561.7 342.1 L561.0 342.1 L544.0 342.4 L536.0 344.4 L521.0 343.8 L513.0 346.0 L505.0 346.6 L502.6 346.7 L480.0 347.1 L473.7 347.2 L473.0 347.2 L471.7 347.2 L464.0 347.4 L463.6 347.4 L462.0 347.4 L446.0 347.7 L440.0 347.8 L435.0 348.2 L429.0 347.8 L427.5 347.7 L427.0 346.8 L425.6 344.4 L423.6 345.6 L423.0 346.0 L412.8 346.4 L398.0 347.0 L392.7 348.1 L390.0 348.7 L372.5 349.1 L370.0 349.1 L369.8 349.1 L345.0 349.7 L343.0 350.8 L340.3 350.8 L340.0 350.8 L331.0 350.9 L330.9 350.9 L328.2 351.0 L328.0 351.0 L322.8 351.0 L322.0 351.0 L318.8 351.1 L302.4 351.3 L300.0 351.3 L298.0 351.3 L293.2 351.4 L293.0 351.4 L277.8 351.6 L272.4 351.6 L265.0 351.7 L249.9 351.6 L247.8 351.6 L239.8 351.5 L238.4 352.2 L238.0 352.4 L217.7 352.6 L217.6 352.6 Z" fill="url(#g_ousg)" stroke="none"/><path d="M217.6 349.7 L217.7 349.7 L238.0 347.9 L238.4 347.8 L239.8 347.7 L247.8 347.0 L249.9 345.0 L265.0 344.4 L272.4 344.1 L277.8 343.9 L293.0 343.3 L293.2 343.2 L298.0 341.7 L300.0 341.7 L302.4 344.1 L318.8 343.8 L322.0 343.8 L322.8 343.7 L328.0 343.3 L328.2 343.1 L330.9 341.1 L331.0 341.0 L340.0 340.6 L340.3 340.7 L343.0 341.9 L345.0 341.8 L369.8 340.6 L370.0 340.6 L372.5 339.2 L390.0 338.7 L392.7 337.4 L398.0 336.3 L412.8 335.6 L423.0 336.0 L423.6 336.0 L425.6 334.7 L427.0 338.3 L427.5 338.3 L429.0 338.3 L435.0 338.3 L440.0 337.3 L446.0 337.1 L462.0 336.5 L463.6 336.4 L464.0 336.3 L471.7 334.8 L473.0 334.6 L473.7 334.6 L480.0 334.5 L502.6 334.1 L505.0 334.1 L513.0 334.4 L521.0 332.7 L536.0 332.7 L544.0 331.0 L561.0 331.0 L561.7 331.0 L571.0 331.9 L590.0 332.6 L591.3 332.7 L600.0 333.0 L607.0 333.8 L612.0 334.4 L643.0 334.9 L645.5 334.9 L647.0 335.0 L675.0 335.4 L677.0 336.8 L687.0 337.4 L690.0 337.6 L695.0 337.9 L704.0 338.4 L706.0 339.7 L706.5 340.0 L708.0 340.1 L708.6 340.1 L711.0 340.2 L713.0 340.3 L714.0 340.4 L715.5 340.5 L716.0 340.5 L718.0 340.6 L721.5 340.8 L722.0 340.8 L723.6 340.8 L724.7 340.8 L725.0 340.8 L725.2 340.8 L734.8 340.6 L735.0 340.6 L735.4 340.6 L737.8 340.6 L738.0 340.6 L741.0 340.5 L742.0 340.5 L746.0 340.4 L746.4 340.4 L748.0 340.4 L748.2 340.4 L752.7 341.0 L753.0 341.0 L753.5 341.0 L755.0 340.8 L763.0 340.1 L764.4 340.0 L765.0 339.2 L765.3 338.8 L766.0 337.8 L766.5 337.1 L774.0 337.3 L775.0 337.3 L788.0 337.6 L788.8 337.6 L789.0 337.3 L791.0 334.7 L791.3 334.7 L792.8 334.6 L798.2 334.4 L799.0 334.4 L802.0 334.3 L802.3 334.1 L802.5 334.0 L805.0 332.5 L808.6 332.4 L810.0 332.4 L811.0 332.4 L817.2 332.3 L817.6 332.3 L819.6 332.3 L819.8 332.3 L823.5 332.2 L824.0 332.2 L830.0 331.7 L833.8 331.4 L838.5 331.0 L841.0 330.8 L841.4 330.8 L843.2 330.6 L847.0 330.2 L848.6 330.0 L849.5 329.9 L850.3 329.8 L857.2 329.0 L857.4 329.0 L861.6 328.5 L870.0 328.1 L873.0 328.0 L881.0 327.7 L884.6 327.5 L888.0 327.9 L890.4 328.1 L890.7 328.2 L891.0 328.2 L893.8 328.0 L895.0 327.9 L899.0 327.6 L902.0 327.4 L902.6 327.3 L905.7 327.1 L913.4 326.5 L915.0 326.6 L915.2 326.6 L915.4 326.6 L918.3 326.7 L925.0 326.9 L926.0 327.0 L926.4 327.0 L926.5 327.0 L929.6 326.0 L930.3 325.8 L932.0 325.3 L932.2 325.2 L933.0 325.0 L934.0 324.8 L934.8 324.6 L940.0 323.6 L940.8 323.4 L941.6 323.2 L944.0 322.7 L945.0 322.5 L945.2 322.5 L945.3 322.4 L946.0 321.9 L947.9 320.6 L948.5 320.2 L948.6 320.2 L954.2 319.1 L955.5 318.8 L958.6 318.2 L960.0 318.2 L964.2 318.3 L970.7 318.5 L971.0 318.5 L971.8 318.4 L973.0 318.2 L973.7 318.1 L974.7 318.0 L977.0 317.7 L977.4 317.7 L978.0 317.6 L979.0 317.4 L981.8 317.1 L982.3 317.0 L984.3 316.8 L985.5 316.6 L986.7 316.8 L992.7 317.5 L993.1 317.6 L993.5 317.6 L996.2 317.3 L1001.6 316.6 L1002.0 316.6 L1003.0 316.5 L1005.0 316.3 L1005.7 316.2 L1009.7 315.8 L1010.0 315.8 L1010.5 315.9 L1012.4 316.0 L1012.6 316.0 L1013.5 316.1 L1020.4 316.6 L1020.8 316.6 L1021.0 316.6 L1023.0 318.5 L1023.3 318.6 L1027.0 319.4 L1028.2 319.6 L1028.4 319.7 L1032.0 320.5 L1032.5 320.6 L1036.8 320.6 L1038.4 320.6 L1041.6 320.6 L1042.0 320.6 L1042.7 320.6 L1045.0 320.6 L1045.5 320.6 L1046.0 320.6 L1049.0 320.7 L1050.0 320.7 L1054.0 320.7 L1059.0 320.8 L1059.3 320.8 L1060.0 320.8 L1063.8 320.9 L1064.0 320.9 L1068.0 321.8 L1070.0 322.2 L1070.5 322.3 L1072.2 322.7 L1073.0 322.9 L1075.0 323.3 L1075.4 323.4 L1076.0 323.5 L1078.6 323.6 L1079.6 323.6 L1082.8 323.7 L1083.0 323.7 L1087.0 323.9 L1087.2 323.9 L1087.4 323.9 L1088.8 323.9 L1090.0 324.0 L1090.2 324.0 L1091.0 324.0 L1092.2 324.0 L1094.4 324.1 L1094.5 324.1 L1096.4 324.2 L1097.0 324.2 L1097.1 324.2 L1098.0 324.2 L1099.2 324.3 L1100.0 324.3 L1101.5 324.4 L1102.8 324.4 L1103.8 324.4 L1104.0 324.4 L1105.4 324.5 L1106.0 324.5 L1106.4 324.5 L1106.5 324.5 L1106.8 324.5 L1108.4 324.5 L1111.3 324.5 L1111.8 324.5 L1114.8 324.5 L1116.4 324.5 L1116.6 324.5 L1118.7 324.5 L1119.7 324.5 L1120.3 324.5 L1122.5 324.5 L1123.3 324.5 L1125.6 324.5 L1126.0 324.5 L1127.5 324.5 L1128.7 324.5 L1130.2 324.5 L1130.3 324.5 L1131.7 324.5 L1132.5 324.2 L1134.8 323.5 L1134.9 323.5 L1135.6 323.5 L1137.2 323.5 L1140.6 323.5 L1140.8 323.5 L1143.6 323.5" fill="none" stroke="#5f37f5" stroke-width="1.7" stroke-linejoin="round" stroke-linecap="round"/><path d="M513.0 346.0 L521.0 343.8 L536.0 344.4 L544.0 342.4 L561.0 342.1 L561.7 342.1 L571.0 341.9 L590.0 341.7 L591.3 341.6 L600.0 341.5 L607.0 341.8 L612.0 341.9 L643.0 343.1 L645.5 343.1 L647.0 343.2 L675.0 343.5 L677.0 344.8 L687.0 345.0 L690.0 345.1 L695.0 345.2 L704.0 345.4 L706.0 346.8 L706.5 347.1 L708.0 347.1 L708.6 347.1 L711.0 347.1 L713.0 347.2 L714.0 347.2 L715.5 347.2 L716.0 347.2 L718.0 347.2 L721.5 347.2 L722.0 347.2 L723.6 347.2 L724.7 347.3 L725.0 347.3 L725.2 347.3 L734.8 347.3 L735.0 347.3 L735.4 347.3 L737.8 347.4 L738.0 347.4 L741.0 347.4 L742.0 347.4 L746.0 347.4 L746.4 347.4 L748.0 347.4 L748.2 347.4 L752.7 347.5 L753.0 347.5 L753.5 347.5 L755.0 347.5 L763.0 347.1 L764.4 347.0 L765.0 347.0 L765.3 347.0 L766.0 346.9 L766.5 346.9 L774.0 347.5 L775.0 347.6 L788.0 347.6 L788.8 347.6 L789.0 347.6 L791.0 347.6 L791.3 347.6 L792.8 347.6 L798.2 347.6 L799.0 347.6 L802.0 347.6 L802.3 347.6 L802.5 347.6 L805.0 347.6 L808.6 347.6 L810.0 347.6 L811.0 347.6 L817.2 347.6 L817.6 347.6 L819.6 347.6 L819.8 347.6 L823.5 347.6 L824.0 347.6 L830.0 347.6 L833.8 347.1 L838.5 346.5 L841.0 346.2 L841.4 346.2 L843.2 345.9 L847.0 345.5 L848.6 345.3 L849.5 345.2 L850.3 345.1 L857.2 344.3 L857.4 344.3 L861.6 343.8 L870.0 343.9 L873.0 343.9 L881.0 343.9 L884.6 344.0 L888.0 344.0 L890.4 344.0 L890.7 344.0 L891.0 344.0 L893.8 343.5 L895.0 343.3 L899.0 342.6 L902.0 342.5 L902.6 342.5 L905.7 342.3 L913.4 342.0 L915.0 342.0 L915.2 341.9 L915.4 341.9 L918.3 341.8 L925.0 341.6 L926.0 341.5 L926.4 341.5 L926.5 341.5 L929.6 340.8 L930.3 340.6 L932.0 340.2 L932.2 340.2 L933.0 340.0 L934.0 339.9 L934.8 339.8 L940.0 339.1 L940.8 339.0 L941.6 338.9 L944.0 338.6 L945.0 338.4 L945.2 338.4 L945.3 338.3 L946.0 337.8 L947.9 336.4 L948.5 336.0 L948.6 336.0 L954.2 334.7 L955.5 334.4 L958.6 333.7 L960.0 333.7 L964.2 333.9 L970.7 334.1 L971.0 334.1 L971.8 334.2 L973.0 334.4 L973.7 334.5 L974.7 334.6 L977.0 334.2 L977.4 334.1 L978.0 334.0 L979.0 333.8 L981.8 333.4 L982.3 333.3 L984.3 332.9 L985.5 332.7 L986.7 332.6 L992.7 332.3 L993.1 332.3 L993.5 332.3 L996.2 332.2 L1001.6 331.9 L1002.0 331.8 L1003.0 331.5 L1005.0 331.0 L1005.7 331.0 L1009.7 330.8 L1010.0 330.8 L1010.5 330.8 L1012.4 330.7 L1012.6 330.7 L1013.5 330.6 L1020.4 330.3 L1020.8 330.3 L1021.0 330.3 L1023.0 332.7 L1023.3 332.7 L1027.0 333.3 L1028.2 333.5 L1028.4 333.5 L1032.0 334.0 L1032.5 334.1 L1036.8 334.2 L1038.4 334.2 L1041.6 334.2 L1042.0 334.3 L1042.7 334.3 L1045.0 334.3 L1045.5 334.3 L1046.0 334.3 L1049.0 334.4 L1050.0 334.5 L1054.0 334.6 L1059.0 334.8 L1059.3 334.8 L1060.0 334.9 L1063.8 335.0 L1064.0 335.0 L1068.0 335.4 L1070.0 335.6 L1070.5 335.6 L1072.2 335.8 L1073.0 335.9 L1075.0 336.1 L1075.4 336.1 L1076.0 336.2 L1078.6 336.2 L1079.6 336.2 L1082.8 336.2 L1083.0 336.2 L1087.0 336.2 L1087.2 336.2 L1087.4 336.2 L1088.8 336.2 L1090.0 336.2 L1090.2 336.2 L1091.0 336.2 L1092.2 336.2 L1094.4 336.1 L1094.5 336.1 L1096.4 336.1 L1097.0 336.1 L1097.1 336.1 L1098.0 336.1 L1099.2 336.1 L1100.0 336.1 L1101.5 336.1 L1102.8 336.1 L1103.8 336.1 L1104.0 336.1 L1105.4 336.1 L1106.0 336.1 L1106.4 336.1 L1106.5 336.1 L1106.8 336.1 L1108.4 336.1 L1111.3 336.1 L1111.8 336.1 L1114.8 336.1 L1116.4 336.1 L1116.6 336.1 L1118.7 336.1 L1119.7 336.1 L1120.3 336.1 L1122.5 336.1 L1123.3 336.1 L1125.6 336.1 L1126.0 336.1 L1127.5 336.0 L1128.7 336.0 L1130.2 336.0 L1130.3 336.0 L1131.7 336.0 L1132.5 336.0 L1134.8 336.0 L1134.9 336.0 L1135.6 336.0 L1137.2 336.0 L1140.6 336.0 L1140.8 336.0 L1143.6 336.0 L1143.6 341.7 L1140.8 341.7 L1140.6 341.7 L1137.2 341.7 L1135.6 341.7 L1134.9 341.7 L1134.8 341.7 L1132.5 341.7 L1131.7 341.7 L1130.3 341.7 L1130.2 341.6 L1128.7 341.6 L1127.5 341.6 L1126.0 341.6 L1125.6 341.6 L1123.3 341.6 L1122.5 341.6 L1120.3 341.6 L1119.7 341.6 L1118.7 341.6 L1116.6 341.6 L1116.4 341.6 L1114.8 341.6 L1111.8 341.6 L1111.3 341.6 L1108.4 341.6 L1106.8 341.6 L1106.5 341.6 L1106.4 341.6 L1106.0 341.6 L1105.4 341.6 L1104.0 341.6 L1103.8 341.6 L1102.8 341.5 L1101.5 341.5 L1100.0 341.5 L1099.2 341.5 L1098.0 341.5 L1097.1 341.5 L1097.0 341.5 L1096.4 341.5 L1094.5 341.5 L1094.4 341.5 L1092.2 341.5 L1091.0 341.5 L1090.2 341.5 L1090.0 341.5 L1088.8 341.5 L1087.4 341.5 L1087.2 341.5 L1087.0 341.5 L1083.0 341.4 L1082.8 341.4 L1079.6 341.3 L1078.6 341.3 L1076.0 341.3 L1075.4 341.3 L1075.0 341.3 L1073.0 341.2 L1072.2 341.2 L1070.5 341.2 L1070.0 341.2 L1068.0 341.2 L1064.0 341.1 L1063.8 341.1 L1060.0 341.0 L1059.3 341.0 L1059.0 341.0 L1054.0 340.9 L1050.0 340.9 L1049.0 340.9 L1046.0 340.8 L1045.5 340.8 L1045.0 340.8 L1042.7 340.8 L1042.0 340.8 L1041.6 340.8 L1038.4 340.8 L1036.8 340.8 L1032.5 340.7 L1032.0 340.7 L1028.4 340.7 L1028.2 340.7 L1027.0 340.7 L1023.3 340.7 L1023.0 340.7 L1021.0 340.7 L1020.8 340.7 L1020.4 340.7 L1013.5 340.6 L1012.6 340.6 L1012.4 340.6 L1010.5 340.6 L1010.0 340.6 L1009.7 340.6 L1005.7 340.6 L1005.0 340.6 L1003.0 340.5 L1002.0 340.5 L1001.6 340.5 L996.2 340.5 L993.5 340.5 L993.1 340.5 L992.7 340.5 L986.7 340.5 L985.5 340.4 L984.3 340.4 L982.3 340.4 L981.8 340.4 L979.0 340.4 L978.0 340.4 L977.4 340.6 L977.0 340.8 L974.7 341.7 L973.7 341.7 L973.0 341.6 L971.8 341.6 L971.0 341.5 L970.7 341.5 L964.2 341.2 L960.0 341.1 L958.6 341.0 L955.5 341.8 L954.2 342.1 L948.6 343.5 L948.5 343.5 L947.9 344.0 L946.0 345.6 L945.3 346.2 L945.2 346.3 L945.0 346.5 L944.0 346.8 L941.6 347.5 L940.8 347.8 L940.0 348.0 L934.8 348.8 L934.0 348.8 L933.0 348.8 L932.2 348.8 L932.0 348.8 L930.3 348.8 L929.6 348.8 L926.5 348.9 L926.4 348.9 L926.0 348.9 L925.0 348.9 L918.3 348.9 L915.4 348.9 L915.2 348.9 L915.0 348.9 L913.4 348.9 L905.7 348.9 L902.6 348.9 L902.0 348.9 L899.0 348.8 L895.0 348.8 L893.8 348.8 L891.0 348.8 L890.7 348.8 L890.4 348.8 L888.0 348.8 L884.6 348.8 L881.0 348.8 L873.0 348.8 L870.0 348.8 L861.6 348.8 L857.4 348.8 L857.2 348.8 L850.3 348.7 L849.5 348.7 L848.6 348.7 L847.0 348.7 L843.2 348.7 L841.4 348.7 L841.0 348.7 L838.5 348.7 L833.8 348.7 L830.0 348.7 L824.0 348.7 L823.5 348.7 L819.8 348.8 L819.6 348.8 L817.6 348.8 L817.2 348.8 L811.0 348.8 L810.0 348.8 L808.6 348.8 L805.0 348.9 L802.5 348.9 L802.3 348.9 L802.0 348.9 L799.0 348.9 L798.2 348.9 L792.8 348.9 L791.3 348.9 L791.0 348.9 L789.0 349.0 L788.8 349.0 L788.0 349.0 L775.0 349.0 L774.0 349.0 L766.5 349.1 L766.0 349.1 L765.3 349.1 L765.0 349.1 L764.4 349.1 L763.0 349.1 L755.0 349.0 L753.5 349.0 L753.0 349.0 L752.7 349.0 L748.2 348.9 L748.0 348.9 L746.4 348.9 L746.0 348.9 L742.0 348.9 L741.0 348.9 L738.0 348.8 L737.8 348.8 L735.4 348.8 L735.0 348.8 L734.8 348.8 L725.2 348.7 L725.0 348.7 L724.7 348.7 L723.6 348.7 L722.0 348.7 L721.5 348.7 L718.0 348.6 L716.0 348.6 L715.5 348.6 L714.0 348.6 L713.0 348.6 L711.0 348.5 L708.6 348.5 L708.0 348.5 L706.5 348.5 L706.0 348.1 L704.0 346.7 L695.0 346.5 L690.0 346.4 L687.0 346.4 L677.0 346.2 L675.0 345.1 L647.0 344.5 L645.5 344.5 L643.0 344.4 L612.0 343.9 L607.0 343.8 L600.0 343.7 L591.3 343.7 L590.0 343.7 L571.0 343.6 L561.7 343.6 L561.0 343.6 L544.0 343.5 L536.0 344.8 L521.0 344.4 L513.0 346.5 Z" fill="url(#g_tbill)" stroke="none"/><path d="M513.0 346.0 L521.0 343.8 L536.0 344.4 L544.0 342.4 L561.0 342.1 L561.7 342.1 L571.0 341.9 L590.0 341.7 L591.3 341.6 L600.0 341.5 L607.0 341.8 L612.0 341.9 L643.0 343.1 L645.5 343.1 L647.0 343.2 L675.0 343.5 L677.0 344.8 L687.0 345.0 L690.0 345.1 L695.0 345.2 L704.0 345.4 L706.0 346.8 L706.5 347.1 L708.0 347.1 L708.6 347.1 L711.0 347.1 L713.0 347.2 L714.0 347.2 L715.5 347.2 L716.0 347.2 L718.0 347.2 L721.5 347.2 L722.0 347.2 L723.6 347.2 L724.7 347.3 L725.0 347.3 L725.2 347.3 L734.8 347.3 L735.0 347.3 L735.4 347.3 L737.8 347.4 L738.0 347.4 L741.0 347.4 L742.0 347.4 L746.0 347.4 L746.4 347.4 L748.0 347.4 L748.2 347.4 L752.7 347.5 L753.0 347.5 L753.5 347.5 L755.0 347.5 L763.0 347.1 L764.4 347.0 L765.0 347.0 L765.3 347.0 L766.0 346.9 L766.5 346.9 L774.0 347.5 L775.0 347.6 L788.0 347.6 L788.8 347.6 L789.0 347.6 L791.0 347.6 L791.3 347.6 L792.8 347.6 L798.2 347.6 L799.0 347.6 L802.0 347.6 L802.3 347.6 L802.5 347.6 L805.0 347.6 L808.6 347.6 L810.0 347.6 L811.0 347.6 L817.2 347.6 L817.6 347.6 L819.6 347.6 L819.8 347.6 L823.5 347.6 L824.0 347.6 L830.0 347.6 L833.8 347.1 L838.5 346.5 L841.0 346.2 L841.4 346.2 L843.2 345.9 L847.0 345.5 L848.6 345.3 L849.5 345.2 L850.3 345.1 L857.2 344.3 L857.4 344.3 L861.6 343.8 L870.0 343.9 L873.0 343.9 L881.0 343.9 L884.6 344.0 L888.0 344.0 L890.4 344.0 L890.7 344.0 L891.0 344.0 L893.8 343.5 L895.0 343.3 L899.0 342.6 L902.0 342.5 L902.6 342.5 L905.7 342.3 L913.4 342.0 L915.0 342.0 L915.2 341.9 L915.4 341.9 L918.3 341.8 L925.0 341.6 L926.0 341.5 L926.4 341.5 L926.5 341.5 L929.6 340.8 L930.3 340.6 L932.0 340.2 L932.2 340.2 L933.0 340.0 L934.0 339.9 L934.8 339.8 L940.0 339.1 L940.8 339.0 L941.6 338.9 L944.0 338.6 L945.0 338.4 L945.2 338.4 L945.3 338.3 L946.0 337.8 L947.9 336.4 L948.5 336.0 L948.6 336.0 L954.2 334.7 L955.5 334.4 L958.6 333.7 L960.0 333.7 L964.2 333.9 L970.7 334.1 L971.0 334.1 L971.8 334.2 L973.0 334.4 L973.7 334.5 L974.7 334.6 L977.0 334.2 L977.4 334.1 L978.0 334.0 L979.0 333.8 L981.8 333.4 L982.3 333.3 L984.3 332.9 L985.5 332.7 L986.7 332.6 L992.7 332.3 L993.1 332.3 L993.5 332.3 L996.2 332.2 L1001.6 331.9 L1002.0 331.8 L1003.0 331.5 L1005.0 331.0 L1005.7 331.0 L1009.7 330.8 L1010.0 330.8 L1010.5 330.8 L1012.4 330.7 L1012.6 330.7 L1013.5 330.6 L1020.4 330.3 L1020.8 330.3 L1021.0 330.3 L1023.0 332.7 L1023.3 332.7 L1027.0 333.3 L1028.2 333.5 L1028.4 333.5 L1032.0 334.0 L1032.5 334.1 L1036.8 334.2 L1038.4 334.2 L1041.6 334.2 L1042.0 334.3 L1042.7 334.3 L1045.0 334.3 L1045.5 334.3 L1046.0 334.3 L1049.0 334.4 L1050.0 334.5 L1054.0 334.6 L1059.0 334.8 L1059.3 334.8 L1060.0 334.9 L1063.8 335.0 L1064.0 335.0 L1068.0 335.4 L1070.0 335.6 L1070.5 335.6 L1072.2 335.8 L1073.0 335.9 L1075.0 336.1 L1075.4 336.1 L1076.0 336.2 L1078.6 336.2 L1079.6 336.2 L1082.8 336.2 L1083.0 336.2 L1087.0 336.2 L1087.2 336.2 L1087.4 336.2 L1088.8 336.2 L1090.0 336.2 L1090.2 336.2 L1091.0 336.2 L1092.2 336.2 L1094.4 336.1 L1094.5 336.1 L1096.4 336.1 L1097.0 336.1 L1097.1 336.1 L1098.0 336.1 L1099.2 336.1 L1100.0 336.1 L1101.5 336.1 L1102.8 336.1 L1103.8 336.1 L1104.0 336.1 L1105.4 336.1 L1106.0 336.1 L1106.4 336.1 L1106.5 336.1 L1106.8 336.1 L1108.4 336.1 L1111.3 336.1 L1111.8 336.1 L1114.8 336.1 L1116.4 336.1 L1116.6 336.1 L1118.7 336.1 L1119.7 336.1 L1120.3 336.1 L1122.5 336.1 L1123.3 336.1 L1125.6 336.1 L1126.0 336.1 L1127.5 336.0 L1128.7 336.0 L1130.2 336.0 L1130.3 336.0 L1131.7 336.0 L1132.5 336.0 L1134.8 336.0 L1134.9 336.0 L1135.6 336.0 L1137.2 336.0 L1140.6 336.0 L1140.8 336.0 L1143.6 336.0" fill="none" stroke="#4148f8" stroke-width="1.8" stroke-linejoin="round" stroke-linecap="round"/><path d="M940.0 348.0 L940.8 347.8 L941.6 347.5 L944.0 346.8 L945.0 346.5 L945.2 346.3 L945.3 346.2 L946.0 345.6 L947.9 344.0 L948.5 343.5 L948.6 343.5 L954.2 342.1 L955.5 341.8 L958.6 341.0 L960.0 341.1 L964.2 341.2 L970.7 341.5 L971.0 341.5 L971.8 341.6 L973.0 341.6 L973.7 341.7 L974.7 341.7 L977.0 340.8 L977.4 340.6 L978.0 340.4 L979.0 340.4 L981.8 340.4 L982.3 340.4 L984.3 340.4 L985.5 340.4 L986.7 340.5 L992.7 340.5 L993.1 340.5 L993.5 340.5 L996.2 340.5 L1001.6 340.5 L1002.0 340.5 L1003.0 340.5 L1005.0 340.6 L1005.7 340.6 L1009.7 340.6 L1010.0 340.6 L1010.5 340.6 L1012.4 340.6 L1012.6 340.6 L1013.5 340.6 L1020.4 340.7 L1020.8 340.7 L1021.0 340.7 L1023.0 340.7 L1023.3 340.7 L1027.0 340.7 L1028.2 340.7 L1028.4 340.7 L1032.0 340.7 L1032.5 340.7 L1036.8 340.8 L1038.4 340.8 L1041.6 340.8 L1042.0 340.8 L1042.7 340.8 L1045.0 340.8 L1045.5 340.8 L1046.0 340.8 L1049.0 340.9 L1050.0 340.9 L1054.0 340.9 L1059.0 341.0 L1059.3 341.0 L1060.0 341.0 L1063.8 341.1 L1064.0 341.1 L1068.0 341.2 L1070.0 341.2 L1070.5 341.2 L1072.2 341.2 L1073.0 341.2 L1075.0 341.3 L1075.4 341.3 L1076.0 341.3 L1078.6 341.3 L1079.6 341.3 L1082.8 341.4 L1083.0 341.4 L1087.0 341.5 L1087.2 341.5 L1087.4 341.5 L1088.8 341.5 L1090.0 341.5 L1090.2 341.5 L1091.0 341.5 L1092.2 341.5 L1094.4 341.5 L1094.5 341.5 L1096.4 341.5 L1097.0 341.5 L1097.1 341.5 L1098.0 341.5 L1099.2 341.5 L1100.0 341.5 L1101.5 341.5 L1102.8 341.5 L1103.8 341.6 L1104.0 341.6 L1105.4 341.6 L1106.0 341.6 L1106.4 341.6 L1106.5 341.6 L1106.8 341.6 L1108.4 341.6 L1111.3 341.6 L1111.8 341.6 L1114.8 341.6 L1116.4 341.6 L1116.6 341.6 L1118.7 341.6 L1119.7 341.6 L1120.3 341.6 L1122.5 341.6 L1123.3 341.6 L1125.6 341.6 L1126.0 341.6 L1127.5 341.6 L1128.7 341.6 L1130.2 341.6 L1130.3 341.7 L1131.7 341.7 L1132.5 341.7 L1134.8 341.7 L1134.9 341.7 L1135.6 341.7 L1137.2 341.7 L1140.6 341.7 L1140.8 341.7 L1143.6 341.7 L1143.6 344.9 L1140.8 344.9 L1140.6 344.9 L1137.2 344.9 L1135.6 344.9 L1134.9 344.9 L1134.8 344.9 L1132.5 344.9 L1131.7 344.9 L1130.3 344.9 L1130.2 344.8 L1128.7 344.8 L1127.5 344.8 L1126.0 344.8 L1125.6 344.8 L1123.3 344.8 L1122.5 344.8 L1120.3 344.8 L1119.7 344.8 L1118.7 344.8 L1116.6 344.8 L1116.4 344.8 L1114.8 344.8 L1111.8 344.8 L1111.3 344.8 L1108.4 344.8 L1106.8 344.8 L1106.5 344.8 L1106.4 344.8 L1106.0 344.8 L1105.4 344.8 L1104.0 344.8 L1103.8 344.8 L1102.8 344.7 L1101.5 344.7 L1100.0 344.7 L1099.2 344.7 L1098.0 344.7 L1097.1 344.7 L1097.0 344.7 L1096.4 344.7 L1094.5 344.7 L1094.4 344.7 L1092.2 344.7 L1091.0 344.7 L1090.2 344.7 L1090.0 344.7 L1088.8 344.7 L1087.4 344.6 L1087.2 344.6 L1087.0 344.6 L1083.0 344.6 L1082.8 344.6 L1079.6 344.5 L1078.6 344.5 L1076.0 344.4 L1075.4 344.4 L1075.0 344.4 L1073.0 344.4 L1072.2 344.3 L1070.5 344.3 L1070.0 344.3 L1068.0 344.3 L1064.0 344.2 L1063.8 344.2 L1060.0 344.1 L1059.3 344.1 L1059.0 344.1 L1054.0 344.0 L1050.0 343.9 L1049.0 343.9 L1046.0 343.8 L1045.5 343.8 L1045.0 343.8 L1042.7 343.8 L1042.0 343.8 L1041.6 343.8 L1038.4 343.7 L1036.8 343.7 L1032.5 343.7 L1032.0 343.7 L1028.4 343.6 L1028.2 343.6 L1027.0 343.6 L1023.3 343.6 L1023.0 343.6 L1021.0 343.5 L1020.8 343.5 L1020.4 343.5 L1013.5 343.5 L1012.6 343.5 L1012.4 343.5 L1010.5 343.4 L1010.0 343.4 L1009.7 343.4 L1005.7 343.4 L1005.0 343.4 L1003.0 343.4 L1002.0 343.4 L1001.6 343.3 L996.2 343.3 L993.5 343.3 L993.1 343.3 L992.7 343.3 L986.7 343.2 L985.5 343.2 L984.3 343.2 L982.3 343.1 L981.8 343.1 L979.0 343.1 L978.0 343.1 L977.4 343.3 L977.0 343.5 L974.7 344.4 L973.7 344.4 L973.0 344.3 L971.8 344.3 L971.0 344.3 L970.7 344.3 L964.2 344.0 L960.0 343.9 L958.6 343.8 L955.5 344.4 L954.2 344.6 L948.6 345.6 L948.5 345.6 L947.9 346.0 L946.0 347.1 L945.3 347.5 L945.2 347.6 L945.0 347.7 L944.0 348.3 L941.6 348.7 L940.8 348.7 L940.0 348.7 Z" fill="url(#g_ustbl)" stroke="none"/><path d="M940.0 348.0 L940.8 347.8 L941.6 347.5 L944.0 346.8 L945.0 346.5 L945.2 346.3 L945.3 346.2 L946.0 345.6 L947.9 344.0 L948.5 343.5 L948.6 343.5 L954.2 342.1 L955.5 341.8 L958.6 341.0 L960.0 341.1 L964.2 341.2 L970.7 341.5 L971.0 341.5 L971.8 341.6 L973.0 341.6 L973.7 341.7 L974.7 341.7 L977.0 340.8 L977.4 340.6 L978.0 340.4 L979.0 340.4 L981.8 340.4 L982.3 340.4 L984.3 340.4 L985.5 340.4 L986.7 340.5 L992.7 340.5 L993.1 340.5 L993.5 340.5 L996.2 340.5 L1001.6 340.5 L1002.0 340.5 L1003.0 340.5 L1005.0 340.6 L1005.7 340.6 L1009.7 340.6 L1010.0 340.6 L1010.5 340.6 L1012.4 340.6 L1012.6 340.6 L1013.5 340.6 L1020.4 340.7 L1020.8 340.7 L1021.0 340.7 L1023.0 340.7 L1023.3 340.7 L1027.0 340.7 L1028.2 340.7 L1028.4 340.7 L1032.0 340.7 L1032.5 340.7 L1036.8 340.8 L1038.4 340.8 L1041.6 340.8 L1042.0 340.8 L1042.7 340.8 L1045.0 340.8 L1045.5 340.8 L1046.0 340.8 L1049.0 340.9 L1050.0 340.9 L1054.0 340.9 L1059.0 341.0 L1059.3 341.0 L1060.0 341.0 L1063.8 341.1 L1064.0 341.1 L1068.0 341.2 L1070.0 341.2 L1070.5 341.2 L1072.2 341.2 L1073.0 341.2 L1075.0 341.3 L1075.4 341.3 L1076.0 341.3 L1078.6 341.3 L1079.6 341.3 L1082.8 341.4 L1083.0 341.4 L1087.0 341.5 L1087.2 341.5 L1087.4 341.5 L1088.8 341.5 L1090.0 341.5 L1090.2 341.5 L1091.0 341.5 L1092.2 341.5 L1094.4 341.5 L1094.5 341.5 L1096.4 341.5 L1097.0 341.5 L1097.1 341.5 L1098.0 341.5 L1099.2 341.5 L1100.0 341.5 L1101.5 341.5 L1102.8 341.5 L1103.8 341.6 L1104.0 341.6 L1105.4 341.6 L1106.0 341.6 L1106.4 341.6 L1106.5 341.6 L1106.8 341.6 L1108.4 341.6 L1111.3 341.6 L1111.8 341.6 L1114.8 341.6 L1116.4 341.6 L1116.6 341.6 L1118.7 341.6 L1119.7 341.6 L1120.3 341.6 L1122.5 341.6 L1123.3 341.6 L1125.6 341.6 L1126.0 341.6 L1127.5 341.6 L1128.7 341.6 L1130.2 341.6 L1130.3 341.7 L1131.7 341.7 L1132.5 341.7 L1134.8 341.7 L1134.9 341.7 L1135.6 341.7 L1137.2 341.7 L1140.6 341.7 L1140.8 341.7 L1143.6 341.7" fill="none" stroke="#aee3f5" stroke-width="1.8" stroke-linejoin="round" stroke-linecap="round"/><path d="M944.0 348.3 L945.0 347.7 L945.2 347.6 L945.3 347.5 L946.0 347.1 L947.9 346.0 L948.5 345.6 L948.6 345.6 L954.2 344.6 L955.5 344.4 L958.6 343.8 L960.0 343.9 L964.2 344.0 L970.7 344.3 L971.0 344.3 L971.8 344.3 L973.0 344.3 L973.7 344.4 L974.7 344.4 L977.0 343.5 L977.4 343.3 L978.0 343.1 L979.0 343.1 L981.8 343.1 L982.3 343.1 L984.3 343.2 L985.5 343.2 L986.7 343.2 L992.7 343.3 L993.1 343.3 L993.5 343.3 L996.2 343.3 L1001.6 343.3 L1002.0 343.4 L1003.0 343.4 L1005.0 343.4 L1005.7 343.4 L1009.7 343.4 L1010.0 343.4 L1010.5 343.4 L1012.4 343.5 L1012.6 343.5 L1013.5 343.5 L1020.4 343.5 L1020.8 343.5 L1021.0 343.5 L1023.0 343.6 L1023.3 343.6 L1027.0 343.6 L1028.2 343.6 L1028.4 343.6 L1032.0 343.7 L1032.5 343.7 L1036.8 343.7 L1038.4 343.7 L1041.6 343.8 L1042.0 343.8 L1042.7 343.8 L1045.0 343.8 L1045.5 343.8 L1046.0 343.8 L1049.0 343.9 L1050.0 343.9 L1054.0 344.0 L1059.0 344.1 L1059.3 344.1 L1060.0 344.1 L1063.8 344.2 L1064.0 344.2 L1068.0 344.3 L1070.0 344.3 L1070.5 344.3 L1072.2 344.3 L1073.0 344.4 L1075.0 344.4 L1075.4 344.4 L1076.0 344.4 L1078.6 344.5 L1079.6 344.5 L1082.8 344.6 L1083.0 344.6 L1087.0 344.6 L1087.2 344.6 L1087.4 344.6 L1088.8 344.7 L1090.0 344.7 L1090.2 344.7 L1091.0 344.7 L1092.2 344.7 L1094.4 344.7 L1094.5 344.7 L1096.4 344.7 L1097.0 344.7 L1097.1 344.7 L1098.0 344.7 L1099.2 344.7 L1100.0 344.7 L1101.5 344.7 L1102.8 344.7 L1103.8 344.8 L1104.0 344.8 L1105.4 344.8 L1106.0 344.8 L1106.4 344.8 L1106.5 344.8 L1106.8 344.8 L1108.4 344.8 L1111.3 344.8 L1111.8 344.8 L1114.8 344.8 L1116.4 344.8 L1116.6 344.8 L1118.7 344.8 L1119.7 344.8 L1120.3 344.8 L1122.5 344.8 L1123.3 344.8 L1125.6 344.8 L1126.0 344.8 L1127.5 344.8 L1128.7 344.8 L1130.2 344.8 L1130.3 344.9 L1131.7 344.9 L1132.5 344.9 L1134.8 344.9 L1134.9 344.9 L1135.6 344.9 L1137.2 344.9 L1140.6 344.9 L1140.8 344.9 L1143.6 344.9 L1143.6 347.8 L1140.8 347.8 L1140.6 347.8 L1137.2 347.8 L1135.6 347.8 L1134.9 347.8 L1134.8 347.8 L1132.5 347.7 L1131.7 347.7 L1130.3 347.7 L1130.2 347.7 L1128.7 347.7 L1127.5 347.7 L1126.0 347.7 L1125.6 347.7 L1123.3 347.7 L1122.5 347.7 L1120.3 347.7 L1119.7 347.7 L1118.7 347.7 L1116.6 347.6 L1116.4 347.6 L1114.8 347.6 L1111.8 347.6 L1111.3 347.6 L1108.4 347.6 L1106.8 347.6 L1106.5 347.6 L1106.4 347.6 L1106.0 347.6 L1105.4 347.6 L1104.0 347.6 L1103.8 347.6 L1102.8 347.6 L1101.5 347.6 L1100.0 347.6 L1099.2 347.6 L1098.0 347.5 L1097.1 347.5 L1097.0 347.5 L1096.4 347.5 L1094.5 347.5 L1094.4 347.5 L1092.2 347.5 L1091.0 347.5 L1090.2 347.5 L1090.0 347.5 L1088.8 347.5 L1087.4 347.4 L1087.2 347.4 L1087.0 347.4 L1083.0 347.3 L1082.8 347.3 L1079.6 347.2 L1078.6 347.2 L1076.0 347.2 L1075.4 347.1 L1075.0 347.1 L1073.0 347.1 L1072.2 347.1 L1070.5 347.0 L1070.0 347.0 L1068.0 347.0 L1064.0 346.9 L1063.8 346.9 L1060.0 346.8 L1059.3 346.7 L1059.0 346.7 L1054.0 346.6 L1050.0 346.5 L1049.0 346.5 L1046.0 346.4 L1045.5 346.4 L1045.0 346.4 L1042.7 346.4 L1042.0 346.4 L1041.6 346.4 L1038.4 346.3 L1036.8 346.3 L1032.5 346.3 L1032.0 346.2 L1028.4 346.2 L1028.2 346.2 L1027.0 346.2 L1023.3 346.1 L1023.0 346.1 L1021.0 346.1 L1020.8 346.1 L1020.4 346.1 L1013.5 346.0 L1012.6 346.0 L1012.4 346.0 L1010.5 346.0 L1010.0 346.0 L1009.7 346.0 L1005.7 345.9 L1005.0 345.9 L1003.0 345.9 L1002.0 345.9 L1001.6 345.9 L996.2 345.8 L993.5 345.8 L993.1 345.8 L992.7 345.8 L986.7 345.7 L985.5 345.7 L984.3 345.7 L982.3 345.7 L981.8 345.6 L979.0 345.6 L978.0 345.6 L977.4 345.6 L977.0 345.6 L974.7 345.6 L973.7 345.6 L973.0 345.7 L971.8 345.7 L971.0 345.7 L970.7 345.7 L964.2 345.7 L960.0 345.8 L958.6 345.8 L955.5 346.3 L954.2 346.5 L948.6 347.5 L948.5 347.5 L947.9 348.6 L946.0 348.6 L945.3 348.6 L945.2 348.6 L945.0 348.6 L944.0 348.6 Z" fill="url(#g_uma)" stroke="none"/><path d="M944.0 348.3 L945.0 347.7 L945.2 347.6 L945.3 347.5 L946.0 347.1 L947.9 346.0 L948.5 345.6 L948.6 345.6 L954.2 344.6 L955.5 344.4 L958.6 343.8 L960.0 343.9 L964.2 344.0 L970.7 344.3 L971.0 344.3 L971.8 344.3 L973.0 344.3 L973.7 344.4 L974.7 344.4 L977.0 343.5 L977.4 343.3 L978.0 343.1 L979.0 343.1 L981.8 343.1 L982.3 343.1 L984.3 343.2 L985.5 343.2 L986.7 343.2 L992.7 343.3 L993.1 343.3 L993.5 343.3 L996.2 343.3 L1001.6 343.3 L1002.0 343.4 L1003.0 343.4 L1005.0 343.4 L1005.7 343.4 L1009.7 343.4 L1010.0 343.4 L1010.5 343.4 L1012.4 343.5 L1012.6 343.5 L1013.5 343.5 L1020.4 343.5 L1020.8 343.5 L1021.0 343.5 L1023.0 343.6 L1023.3 343.6 L1027.0 343.6 L1028.2 343.6 L1028.4 343.6 L1032.0 343.7 L1032.5 343.7 L1036.8 343.7 L1038.4 343.7 L1041.6 343.8 L1042.0 343.8 L1042.7 343.8 L1045.0 343.8 L1045.5 343.8 L1046.0 343.8 L1049.0 343.9 L1050.0 343.9 L1054.0 344.0 L1059.0 344.1 L1059.3 344.1 L1060.0 344.1 L1063.8 344.2 L1064.0 344.2 L1068.0 344.3 L1070.0 344.3 L1070.5 344.3 L1072.2 344.3 L1073.0 344.4 L1075.0 344.4 L1075.4 344.4 L1076.0 344.4 L1078.6 344.5 L1079.6 344.5 L1082.8 344.6 L1083.0 344.6 L1087.0 344.6 L1087.2 344.6 L1087.4 344.6 L1088.8 344.7 L1090.0 344.7 L1090.2 344.7 L1091.0 344.7 L1092.2 344.7 L1094.4 344.7 L1094.5 344.7 L1096.4 344.7 L1097.0 344.7 L1097.1 344.7 L1098.0 344.7 L1099.2 344.7 L1100.0 344.7 L1101.5 344.7 L1102.8 344.7 L1103.8 344.8 L1104.0 344.8 L1105.4 344.8 L1106.0 344.8 L1106.4 344.8 L1106.5 344.8 L1106.8 344.8 L1108.4 344.8 L1111.3 344.8 L1111.8 344.8 L1114.8 344.8 L1116.4 344.8 L1116.6 344.8 L1118.7 344.8 L1119.7 344.8 L1120.3 344.8 L1122.5 344.8 L1123.3 344.8 L1125.6 344.8 L1126.0 344.8 L1127.5 344.8 L1128.7 344.8 L1130.2 344.8 L1130.3 344.9 L1131.7 344.9 L1132.5 344.9 L1134.8 344.9 L1134.9 344.9 L1135.6 344.9 L1137.2 344.9 L1140.6 344.9 L1140.8 344.9 L1143.6 344.9" fill="none" stroke="#5a5ac8" stroke-width="1.8" stroke-linejoin="round" stroke-linecap="round"/><path d="M948.5 347.5 L948.6 347.5 L954.2 346.5 L955.5 346.3 L958.6 345.8 L960.0 345.8 L964.2 345.7 L970.7 345.7 L971.0 345.7 L971.8 345.7 L973.0 345.7 L973.7 345.6 L974.7 345.6 L977.0 345.6 L977.4 345.6 L978.0 345.6 L979.0 345.6 L981.8 345.6 L982.3 345.7 L984.3 345.7 L985.5 345.7 L986.7 345.7 L992.7 345.8 L993.1 345.8 L993.5 345.8 L996.2 345.8 L1001.6 345.9 L1002.0 345.9 L1003.0 345.9 L1005.0 345.9 L1005.7 345.9 L1009.7 346.0 L1010.0 346.0 L1010.5 346.0 L1012.4 346.0 L1012.6 346.0 L1013.5 346.0 L1020.4 346.1 L1020.8 346.1 L1021.0 346.1 L1023.0 346.1 L1023.3 346.1 L1027.0 346.2 L1028.2 346.2 L1028.4 346.2 L1032.0 346.2 L1032.5 346.3 L1036.8 346.3 L1038.4 346.3 L1041.6 346.4 L1042.0 346.4 L1042.7 346.4 L1045.0 346.4 L1045.5 346.4 L1046.0 346.4 L1049.0 346.5 L1050.0 346.5 L1054.0 346.6 L1059.0 346.7 L1059.3 346.7 L1060.0 346.8 L1063.8 346.9 L1064.0 346.9 L1068.0 347.0 L1070.0 347.0 L1070.5 347.0 L1072.2 347.1 L1073.0 347.1 L1075.0 347.1 L1075.4 347.1 L1076.0 347.2 L1078.6 347.2 L1079.6 347.2 L1082.8 347.3 L1083.0 347.3 L1087.0 347.4 L1087.2 347.4 L1087.4 347.4 L1088.8 347.5 L1090.0 347.5 L1090.2 347.5 L1091.0 347.5 L1092.2 347.5 L1094.4 347.5 L1094.5 347.5 L1096.4 347.5 L1097.0 347.5 L1097.1 347.5 L1098.0 347.5 L1099.2 347.6 L1100.0 347.6 L1101.5 347.6 L1102.8 347.6 L1103.8 347.6 L1104.0 347.6 L1105.4 347.6 L1106.0 347.6 L1106.4 347.6 L1106.5 347.6 L1106.8 347.6 L1108.4 347.6 L1111.3 347.6 L1111.8 347.6 L1114.8 347.6 L1116.4 347.6 L1116.6 347.6 L1118.7 347.7 L1119.7 347.7 L1120.3 347.7 L1122.5 347.7 L1123.3 347.7 L1125.6 347.7 L1126.0 347.7 L1127.5 347.7 L1128.7 347.7 L1130.2 347.7 L1130.3 347.7 L1131.7 347.7 L1132.5 347.7 L1134.8 347.8 L1134.9 347.8 L1135.6 347.8 L1137.2 347.8 L1140.6 347.8 L1140.8 347.8 L1143.6 347.8 L1143.6 350.3 L1140.8 350.3 L1140.6 350.3 L1137.2 350.3 L1135.6 350.3 L1134.9 350.3 L1134.8 350.3 L1132.5 350.2 L1131.7 350.2 L1130.3 350.2 L1130.2 350.2 L1128.7 350.2 L1127.5 350.2 L1126.0 350.2 L1125.6 350.2 L1123.3 350.2 L1122.5 350.2 L1120.3 350.2 L1119.7 350.2 L1118.7 350.2 L1116.6 350.2 L1116.4 350.2 L1114.8 350.2 L1111.8 350.2 L1111.3 350.2 L1108.4 350.1 L1106.8 350.1 L1106.5 350.1 L1106.4 350.1 L1106.0 350.1 L1105.4 350.1 L1104.0 350.1 L1103.8 350.1 L1102.8 350.1 L1101.5 350.1 L1100.0 350.1 L1099.2 350.1 L1098.0 350.1 L1097.1 350.0 L1097.0 350.0 L1096.4 350.0 L1094.5 350.0 L1094.4 350.0 L1092.2 350.0 L1091.0 349.9 L1090.2 349.9 L1090.0 349.9 L1088.8 349.9 L1087.4 349.9 L1087.2 349.9 L1087.0 349.9 L1083.0 349.8 L1082.8 349.8 L1079.6 349.7 L1078.6 349.7 L1076.0 349.7 L1075.4 349.7 L1075.0 349.7 L1073.0 349.6 L1072.2 349.6 L1070.5 349.6 L1070.0 349.6 L1068.0 349.5 L1064.0 349.5 L1063.8 349.5 L1060.0 349.4 L1059.3 349.4 L1059.0 349.4 L1054.0 349.3 L1050.0 349.3 L1049.0 349.3 L1046.0 349.2 L1045.5 349.2 L1045.0 349.2 L1042.7 349.2 L1042.0 349.2 L1041.6 349.2 L1038.4 349.1 L1036.8 349.1 L1032.5 349.1 L1032.0 349.1 L1028.4 349.0 L1028.2 349.0 L1027.0 349.0 L1023.3 348.9 L1023.0 348.9 L1021.0 348.9 L1020.8 348.9 L1020.4 348.9 L1013.5 348.8 L1012.6 348.8 L1012.4 348.8 L1010.5 348.8 L1010.0 348.8 L1009.7 348.8 L1005.7 348.7 L1005.0 348.7 L1003.0 348.7 L1002.0 348.7 L1001.6 348.7 L996.2 348.6 L993.5 348.6 L993.1 348.6 L992.7 348.6 L986.7 348.5 L985.5 348.5 L984.3 348.5 L982.3 348.4 L981.8 348.4 L979.0 348.4 L978.0 348.7 L977.4 348.9 L977.0 349.0 L974.7 348.6 L973.7 348.6 L973.0 348.6 L971.8 348.5 L971.0 348.5 L970.7 348.5 L964.2 348.4 L960.0 348.4 L958.6 348.4 L955.5 348.5 L954.2 348.5 L948.6 348.6 L948.5 348.6 Z" fill="url(#g_ltf)" stroke="none"/><path d="M948.5 347.5 L948.6 347.5 L954.2 346.5 L955.5 346.3 L958.6 345.8 L960.0 345.8 L964.2 345.7 L970.7 345.7 L971.0 345.7 L971.8 345.7 L973.0 345.7 L973.7 345.6 L974.7 345.6 L977.0 345.6 L977.4 345.6 L978.0 345.6 L979.0 345.6 L981.8 345.6 L982.3 345.7 L984.3 345.7 L985.5 345.7 L986.7 345.7 L992.7 345.8 L993.1 345.8 L993.5 345.8 L996.2 345.8 L1001.6 345.9 L1002.0 345.9 L1003.0 345.9 L1005.0 345.9 L1005.7 345.9 L1009.7 346.0 L1010.0 346.0 L1010.5 346.0 L1012.4 346.0 L1012.6 346.0 L1013.5 346.0 L1020.4 346.1 L1020.8 346.1 L1021.0 346.1 L1023.0 346.1 L1023.3 346.1 L1027.0 346.2 L1028.2 346.2 L1028.4 346.2 L1032.0 346.2 L1032.5 346.3 L1036.8 346.3 L1038.4 346.3 L1041.6 346.4 L1042.0 346.4 L1042.7 346.4 L1045.0 346.4 L1045.5 346.4 L1046.0 346.4 L1049.0 346.5 L1050.0 346.5 L1054.0 346.6 L1059.0 346.7 L1059.3 346.7 L1060.0 346.8 L1063.8 346.9 L1064.0 346.9 L1068.0 347.0 L1070.0 347.0 L1070.5 347.0 L1072.2 347.1 L1073.0 347.1 L1075.0 347.1 L1075.4 347.1 L1076.0 347.2 L1078.6 347.2 L1079.6 347.2 L1082.8 347.3 L1083.0 347.3 L1087.0 347.4 L1087.2 347.4 L1087.4 347.4 L1088.8 347.5 L1090.0 347.5 L1090.2 347.5 L1091.0 347.5 L1092.2 347.5 L1094.4 347.5 L1094.5 347.5 L1096.4 347.5 L1097.0 347.5 L1097.1 347.5 L1098.0 347.5 L1099.2 347.6 L1100.0 347.6 L1101.5 347.6 L1102.8 347.6 L1103.8 347.6 L1104.0 347.6 L1105.4 347.6 L1106.0 347.6 L1106.4 347.6 L1106.5 347.6 L1106.8 347.6 L1108.4 347.6 L1111.3 347.6 L1111.8 347.6 L1114.8 347.6 L1116.4 347.6 L1116.6 347.6 L1118.7 347.7 L1119.7 347.7 L1120.3 347.7 L1122.5 347.7 L1123.3 347.7 L1125.6 347.7 L1126.0 347.7 L1127.5 347.7 L1128.7 347.7 L1130.2 347.7 L1130.3 347.7 L1131.7 347.7 L1132.5 347.7 L1134.8 347.8 L1134.9 347.8 L1135.6 347.8 L1137.2 347.8 L1140.6 347.8 L1140.8 347.8 L1143.6 347.8" fill="none" stroke="#a58cfa" stroke-width="1.6" stroke-linejoin="round" stroke-linecap="round"/><path d="M977.0 348.6 L977.4 348.8 L978.0 348.7 L979.0 348.4 L981.8 348.4 L982.3 348.4 L984.3 348.5 L985.5 348.5 L986.7 348.5 L992.7 348.6 L993.1 348.6 L993.5 348.6 L996.2 348.6 L1001.6 348.7 L1002.0 348.7 L1003.0 348.7 L1005.0 348.7 L1005.7 348.7 L1009.7 348.8 L1010.0 348.8 L1010.5 348.8 L1012.4 348.8 L1012.6 348.8 L1013.5 348.8 L1020.4 348.9 L1020.8 348.9 L1021.0 348.9 L1023.0 348.9 L1023.3 348.9 L1027.0 349.0 L1028.2 349.0 L1028.4 349.0 L1032.0 349.1 L1032.5 349.1 L1036.8 349.1 L1038.4 349.1 L1041.6 349.2 L1042.0 349.2 L1042.7 349.2 L1045.0 349.2 L1045.5 349.2 L1046.0 349.2 L1049.0 349.3 L1050.0 349.3 L1054.0 349.3 L1059.0 349.4 L1059.3 349.4 L1060.0 349.4 L1063.8 349.5 L1064.0 349.5 L1068.0 349.5 L1070.0 349.6 L1070.5 349.6 L1072.2 349.6 L1073.0 349.6 L1075.0 349.7 L1075.4 349.7 L1076.0 349.7 L1078.6 349.7 L1079.6 349.7 L1082.8 349.8 L1083.0 349.8 L1087.0 349.9 L1087.2 349.9 L1087.4 349.9 L1088.8 349.9 L1090.0 349.9 L1090.2 349.9 L1091.0 349.9 L1092.2 350.0 L1094.4 350.0 L1094.5 350.0 L1096.4 350.0 L1097.0 350.0 L1097.1 350.0 L1098.0 350.1 L1099.2 350.1 L1100.0 350.1 L1101.5 350.1 L1102.8 350.1 L1103.8 350.1 L1104.0 350.1 L1105.4 350.1 L1106.0 350.1 L1106.4 350.1 L1106.5 350.1 L1106.8 350.1 L1108.4 350.1 L1111.3 350.2 L1111.8 350.2 L1114.8 350.2 L1116.4 350.2 L1116.6 350.2 L1118.7 350.2 L1119.7 350.2 L1120.3 350.2 L1122.5 350.2 L1123.3 350.2 L1125.6 350.2 L1126.0 350.2 L1127.5 350.2 L1128.7 350.2 L1130.2 350.2 L1130.3 350.2 L1131.7 350.2 L1132.5 350.2 L1134.8 350.3 L1134.9 350.3 L1135.6 350.3 L1137.2 350.3 L1140.6 350.3 L1140.8 350.3 L1143.6 350.3 L1143.6 351.4 L1140.8 351.4 L1140.6 351.4 L1137.2 351.4 L1135.6 351.4 L1134.9 351.4 L1134.8 351.4 L1132.5 351.3 L1131.7 351.3 L1130.3 351.3 L1130.2 351.3 L1128.7 351.3 L1127.5 351.3 L1126.0 351.3 L1125.6 351.3 L1123.3 351.3 L1122.5 351.3 L1120.3 351.3 L1119.7 351.3 L1118.7 351.3 L1116.6 351.3 L1116.4 351.3 L1114.8 351.3 L1111.8 351.3 L1111.3 351.3 L1108.4 351.2 L1106.8 351.2 L1106.5 351.2 L1106.4 351.2 L1106.0 351.2 L1105.4 351.2 L1104.0 351.2 L1103.8 351.2 L1102.8 351.2 L1101.5 351.2 L1100.0 351.2 L1099.2 351.2 L1098.0 351.2 L1097.1 351.1 L1097.0 351.1 L1096.4 351.1 L1094.5 351.1 L1094.4 351.1 L1092.2 351.1 L1091.0 351.0 L1090.2 351.0 L1090.0 351.0 L1088.8 351.0 L1087.4 351.0 L1087.2 351.0 L1087.0 351.0 L1083.0 350.9 L1082.8 350.9 L1079.6 350.8 L1078.6 350.8 L1076.0 350.8 L1075.4 350.8 L1075.0 350.8 L1073.0 350.7 L1072.2 350.7 L1070.5 350.7 L1070.0 350.7 L1068.0 350.6 L1064.0 350.6 L1063.8 350.6 L1060.0 350.5 L1059.3 350.5 L1059.0 350.5 L1054.0 350.4 L1050.0 350.4 L1049.0 350.4 L1046.0 350.3 L1045.5 350.3 L1045.0 350.3 L1042.7 350.3 L1042.0 350.3 L1041.6 350.3 L1038.4 350.2 L1036.8 350.2 L1032.5 350.2 L1032.0 350.2 L1028.4 350.1 L1028.2 350.1 L1027.0 350.1 L1023.3 350.0 L1023.0 350.0 L1021.0 350.0 L1020.8 350.0 L1020.4 350.0 L1013.5 349.9 L1012.6 349.9 L1012.4 349.9 L1010.5 349.9 L1010.0 349.9 L1009.7 349.9 L1005.7 349.8 L1005.0 349.8 L1003.0 349.8 L1002.0 349.8 L1001.6 349.8 L996.2 349.7 L993.5 349.7 L993.1 349.7 L992.7 349.7 L986.7 349.6 L985.5 349.6 L984.3 349.6 L982.3 349.5 L981.8 349.5 L979.0 349.5 L978.0 349.1 L977.4 348.8 L977.0 348.6 Z" fill="url(#g_gdcp)" stroke="none"/><path d="M977.0 348.6 L977.4 348.8 L978.0 348.7 L979.0 348.4 L981.8 348.4 L982.3 348.4 L984.3 348.5 L985.5 348.5 L986.7 348.5 L992.7 348.6 L993.1 348.6 L993.5 348.6 L996.2 348.6 L1001.6 348.7 L1002.0 348.7 L1003.0 348.7 L1005.0 348.7 L1005.7 348.7 L1009.7 348.8 L1010.0 348.8 L1010.5 348.8 L1012.4 348.8 L1012.6 348.8 L1013.5 348.8 L1020.4 348.9 L1020.8 348.9 L1021.0 348.9 L1023.0 348.9 L1023.3 348.9 L1027.0 349.0 L1028.2 349.0 L1028.4 349.0 L1032.0 349.1 L1032.5 349.1 L1036.8 349.1 L1038.4 349.1 L1041.6 349.2 L1042.0 349.2 L1042.7 349.2 L1045.0 349.2 L1045.5 349.2 L1046.0 349.2 L1049.0 349.3 L1050.0 349.3 L1054.0 349.3 L1059.0 349.4 L1059.3 349.4 L1060.0 349.4 L1063.8 349.5 L1064.0 349.5 L1068.0 349.5 L1070.0 349.6 L1070.5 349.6 L1072.2 349.6 L1073.0 349.6 L1075.0 349.7 L1075.4 349.7 L1076.0 349.7 L1078.6 349.7 L1079.6 349.7 L1082.8 349.8 L1083.0 349.8 L1087.0 349.9 L1087.2 349.9 L1087.4 349.9 L1088.8 349.9 L1090.0 349.9 L1090.2 349.9 L1091.0 349.9 L1092.2 350.0 L1094.4 350.0 L1094.5 350.0 L1096.4 350.0 L1097.0 350.0 L1097.1 350.0 L1098.0 350.1 L1099.2 350.1 L1100.0 350.1 L1101.5 350.1 L1102.8 350.1 L1103.8 350.1 L1104.0 350.1 L1105.4 350.1 L1106.0 350.1 L1106.4 350.1 L1106.5 350.1 L1106.8 350.1 L1108.4 350.1 L1111.3 350.2 L1111.8 350.2 L1114.8 350.2 L1116.4 350.2 L1116.6 350.2 L1118.7 350.2 L1119.7 350.2 L1120.3 350.2 L1122.5 350.2 L1123.3 350.2 L1125.6 350.2 L1126.0 350.2 L1127.5 350.2 L1128.7 350.2 L1130.2 350.2 L1130.3 350.2 L1131.7 350.2 L1132.5 350.2 L1134.8 350.3 L1134.9 350.3 L1135.6 350.3 L1137.2 350.3 L1140.6 350.3 L1140.8 350.3 L1143.6 350.3" fill="none" stroke="#a8540c" stroke-width="2.0" stroke-linejoin="round" stroke-linecap="round"/><path d="M343.0 350.8 L345.0 349.7 L369.8 349.1 L370.0 349.1 L372.5 349.1 L390.0 348.7 L392.7 348.1 L398.0 347.0 L412.8 346.4 L423.0 346.0 L423.6 345.6 L425.6 344.4 L427.0 346.8 L427.5 347.7 L429.0 347.8 L435.0 348.2 L440.0 347.8 L446.0 347.7 L462.0 347.4 L463.6 347.4 L464.0 347.4 L471.7 347.2 L473.0 347.2 L473.7 347.2 L480.0 347.1 L502.6 346.7 L505.0 346.6 L513.0 346.5 L521.0 344.4 L536.0 344.8 L544.0 343.5 L561.0 343.6 L561.7 343.6 L571.0 343.6 L590.0 343.7 L591.3 343.7 L600.0 343.7 L607.0 343.8 L612.0 343.9 L643.0 344.4 L645.5 344.5 L647.0 344.5 L675.0 345.1 L677.0 346.2 L687.0 346.4 L690.0 346.4 L695.0 346.5 L704.0 346.7 L706.0 348.1 L706.5 348.5 L708.0 348.5 L708.6 348.5 L711.0 348.5 L713.0 348.6 L714.0 348.6 L715.5 348.6 L716.0 348.6 L718.0 348.6 L721.5 348.7 L722.0 348.7 L723.6 348.7 L724.7 348.7 L725.0 348.7 L725.2 348.7 L734.8 348.8 L735.0 348.8 L735.4 348.8 L737.8 348.8 L738.0 348.8 L741.0 348.9 L742.0 348.9 L746.0 348.9 L746.4 348.9 L748.0 348.9 L748.2 348.9 L752.7 349.0 L753.0 349.0 L753.5 349.0 L755.0 349.0 L763.0 349.1 L764.4 349.1 L765.0 349.1 L765.3 349.1 L766.0 349.1 L766.5 349.1 L774.0 349.0 L775.0 349.0 L788.0 349.0 L788.8 349.0 L789.0 349.0 L791.0 348.9 L791.3 348.9 L792.8 348.9 L798.2 348.9 L799.0 348.9 L802.0 348.9 L802.3 348.9 L802.5 348.9 L805.0 348.9 L808.6 348.8 L810.0 348.8 L811.0 348.8 L817.2 348.8 L817.6 348.8 L819.6 348.8 L819.8 348.8 L823.5 348.7 L824.0 348.7 L830.0 348.7 L833.8 348.7 L838.5 348.7 L841.0 348.7 L841.4 348.7 L843.2 348.7 L847.0 348.7 L848.6 348.7 L849.5 348.7 L850.3 348.7 L857.2 348.8 L857.4 348.8 L861.6 348.8 L870.0 348.8 L873.0 348.8 L881.0 348.8 L884.6 348.8 L888.0 348.8 L890.4 348.8 L890.7 348.8 L891.0 348.8 L893.8 348.8 L895.0 348.8 L899.0 348.8 L902.0 348.9 L902.6 348.9 L905.7 348.9 L913.4 348.9 L915.0 348.9 L915.2 348.9 L915.4 348.9 L918.3 348.9 L925.0 348.9 L926.0 348.9 L926.4 348.9 L926.5 348.9 L929.6 348.8 L930.3 348.8 L932.0 348.8 L932.2 348.8 L933.0 348.8 L934.0 348.8 L934.8 348.8 L940.0 348.7 L940.8 348.7 L941.6 348.7 L944.0 348.6 L945.0 348.6 L945.2 348.6 L945.3 348.6 L946.0 348.6 L947.9 348.6 L948.5 348.6 L948.6 348.6 L954.2 348.5 L955.5 348.5 L958.6 348.4 L960.0 348.4 L964.2 348.4 L970.7 348.5 L971.0 348.5 L971.8 348.5 L973.0 348.6 L973.7 348.6 L974.7 348.6 L977.0 348.6 L977.4 348.8 L978.0 349.1 L979.0 349.5 L981.8 349.5 L982.3 349.5 L984.3 349.6 L985.5 349.6 L986.7 349.6 L992.7 349.7 L993.1 349.7 L993.5 349.7 L996.2 349.7 L1001.6 349.8 L1002.0 349.8 L1003.0 349.8 L1005.0 349.8 L1005.7 349.8 L1009.7 349.9 L1010.0 349.9 L1010.5 349.9 L1012.4 349.9 L1012.6 349.9 L1013.5 349.9 L1020.4 350.0 L1020.8 350.0 L1021.0 350.0 L1023.0 350.0 L1023.3 350.0 L1027.0 350.1 L1028.2 350.1 L1028.4 350.1 L1032.0 350.2 L1032.5 350.2 L1036.8 350.2 L1038.4 350.2 L1041.6 350.3 L1042.0 350.3 L1042.7 350.3 L1045.0 350.3 L1045.5 350.3 L1046.0 350.3 L1049.0 350.4 L1050.0 350.4 L1054.0 350.4 L1059.0 350.5 L1059.3 350.5 L1060.0 350.5 L1063.8 350.6 L1064.0 350.6 L1068.0 350.6 L1070.0 350.7 L1070.5 350.7 L1072.2 350.7 L1073.0 350.7 L1075.0 350.8 L1075.4 350.8 L1076.0 350.8 L1078.6 350.8 L1079.6 350.8 L1082.8 350.9 L1083.0 350.9 L1087.0 351.0 L1087.2 351.0 L1087.4 351.0 L1088.8 351.0 L1090.0 351.0 L1090.2 351.0 L1091.0 351.0 L1092.2 351.1 L1094.4 351.1 L1094.5 351.1 L1096.4 351.1 L1097.0 351.1 L1097.1 351.1 L1098.0 351.2 L1099.2 351.2 L1100.0 351.2 L1101.5 351.2 L1102.8 351.2 L1103.8 351.2 L1104.0 351.2 L1105.4 351.2 L1106.0 351.2 L1106.4 351.2 L1106.5 351.2 L1106.8 351.2 L1108.4 351.2 L1111.3 351.3 L1111.8 351.3 L1114.8 351.3 L1116.4 351.3 L1116.6 351.3 L1118.7 351.3 L1119.7 351.3 L1120.3 351.3 L1122.5 351.3 L1123.3 351.3 L1125.6 351.3 L1126.0 351.3 L1127.5 351.3 L1128.7 351.3 L1130.2 351.3 L1130.3 351.3 L1131.7 351.3 L1132.5 351.3 L1134.8 351.4 L1134.9 351.4 L1135.6 351.4 L1137.2 351.4 L1140.6 351.4 L1140.8 351.4 L1143.6 351.4 L1143.6 352.6 L1140.8 352.6 L1140.6 352.6 L1137.2 352.6 L1135.6 352.6 L1134.9 352.6 L1134.8 352.6 L1132.5 352.5 L1131.7 352.5 L1130.3 352.5 L1130.2 352.5 L1128.7 352.5 L1127.5 352.5 L1126.0 352.5 L1125.6 352.5 L1123.3 352.5 L1122.5 352.5 L1120.3 352.5 L1119.7 352.5 L1118.7 352.5 L1116.6 352.4 L1116.4 352.4 L1114.8 352.4 L1111.8 352.4 L1111.3 352.4 L1108.4 352.4 L1106.8 352.4 L1106.5 352.4 L1106.4 352.4 L1106.0 352.4 L1105.4 352.4 L1104.0 352.4 L1103.8 352.4 L1102.8 352.4 L1101.5 352.4 L1100.0 352.4 L1099.2 352.4 L1098.0 352.3 L1097.1 352.3 L1097.0 352.3 L1096.4 352.3 L1094.5 352.3 L1094.4 352.3 L1092.2 352.3 L1091.0 352.3 L1090.2 352.3 L1090.0 352.3 L1088.8 352.3 L1087.4 352.2 L1087.2 352.2 L1087.0 352.2 L1083.0 352.1 L1082.8 352.1 L1079.6 352.0 L1078.6 351.9 L1076.0 351.9 L1075.4 351.8 L1075.0 351.8 L1073.0 351.8 L1072.2 351.7 L1070.5 351.7 L1070.0 351.7 L1068.0 351.6 L1064.0 351.5 L1063.8 351.5 L1060.0 351.4 L1059.3 351.3 L1059.0 351.3 L1054.0 351.2 L1050.0 351.1 L1049.0 351.0 L1046.0 350.9 L1045.5 350.9 L1045.0 350.9 L1042.7 350.9 L1042.0 350.9 L1041.6 350.9 L1038.4 350.9 L1036.8 350.9 L1032.5 350.9 L1032.0 350.9 L1028.4 350.9 L1028.2 350.9 L1027.0 350.9 L1023.3 350.8 L1023.0 350.8 L1021.0 350.8 L1020.8 350.8 L1020.4 350.8 L1013.5 350.8 L1012.6 350.8 L1012.4 350.8 L1010.5 350.8 L1010.0 350.8 L1009.7 350.8 L1005.7 350.8 L1005.0 350.8 L1003.0 350.8 L1002.0 350.8 L1001.6 350.8 L996.2 350.8 L993.5 350.8 L993.1 350.8 L992.7 350.8 L986.7 350.8 L985.5 350.8 L984.3 350.7 L982.3 350.7 L981.8 350.7 L979.0 350.7 L978.0 350.7 L977.4 350.7 L977.0 350.7 L974.7 350.7 L973.7 350.7 L973.0 350.7 L971.8 350.7 L971.0 350.7 L970.7 350.7 L964.2 350.7 L960.0 350.7 L958.6 350.7 L955.5 350.7 L954.2 350.7 L948.6 350.7 L948.5 350.7 L947.9 350.7 L946.0 350.7 L945.3 350.7 L945.2 350.7 L945.0 350.7 L944.0 350.6 L941.6 350.6 L940.8 350.6 L940.0 350.6 L934.8 350.6 L934.0 350.6 L933.0 350.6 L932.2 350.6 L932.0 350.6 L930.3 350.6 L929.6 350.6 L926.5 350.6 L926.4 350.6 L926.0 350.6 L925.0 350.6 L918.3 350.6 L915.4 350.6 L915.2 350.6 L915.0 350.6 L913.4 350.6 L905.7 350.7 L902.6 350.7 L902.0 350.7 L899.0 350.7 L895.0 350.7 L893.8 350.7 L891.0 350.7 L890.7 350.7 L890.4 350.7 L888.0 350.7 L884.6 350.8 L881.0 350.8 L873.0 350.8 L870.0 350.8 L861.6 350.8 L857.4 350.9 L857.2 350.9 L850.3 350.9 L849.5 350.9 L848.6 350.9 L847.0 350.9 L843.2 350.9 L841.4 350.9 L841.0 350.9 L838.5 350.9 L833.8 350.9 L830.0 351.0 L824.0 351.0 L823.5 351.0 L819.8 351.0 L819.6 351.0 L817.6 351.0 L817.2 351.0 L811.0 351.0 L810.0 351.0 L808.6 351.0 L805.0 351.1 L802.5 351.1 L802.3 351.1 L802.0 351.1 L799.0 351.1 L798.2 351.1 L792.8 351.1 L791.3 351.1 L791.0 351.1 L789.0 351.1 L788.8 351.1 L788.0 351.1 L775.0 351.2 L774.0 351.2 L766.5 351.2 L766.0 351.2 L765.3 351.2 L765.0 351.2 L764.4 351.2 L763.0 351.2 L755.0 351.1 L753.5 351.1 L753.0 351.1 L752.7 351.1 L748.2 351.1 L748.0 351.1 L746.4 351.1 L746.0 351.1 L742.0 351.0 L741.0 351.0 L738.0 351.0 L737.8 351.0 L735.4 351.0 L735.0 351.0 L734.8 351.0 L725.2 350.9 L725.0 350.9 L724.7 350.9 L723.6 350.9 L722.0 350.9 L721.5 350.9 L718.0 350.9 L716.0 350.9 L715.5 350.9 L714.0 350.9 L713.0 350.8 L711.0 350.8 L708.6 350.8 L708.0 350.8 L706.5 350.8 L706.0 350.5 L704.0 349.1 L695.0 348.9 L690.0 348.7 L687.0 348.7 L677.0 348.4 L675.0 348.3 L647.0 347.6 L645.5 347.6 L643.0 347.5 L612.0 347.1 L607.0 347.1 L600.0 347.0 L591.3 347.0 L590.0 347.0 L571.0 347.0 L561.7 347.0 L561.0 347.0 L544.0 347.0 L536.0 347.0 L521.0 347.0 L513.0 347.6 L505.0 347.8 L502.6 347.9 L480.0 348.6 L473.7 348.7 L473.0 348.8 L471.7 348.8 L464.0 349.0 L463.6 349.0 L462.0 349.0 L446.0 349.4 L440.0 349.5 L435.0 350.8 L429.0 351.0 L427.5 351.0 L427.0 349.7 L425.6 346.0 L423.6 347.1 L423.0 347.4 L412.8 347.8 L398.0 348.4 L392.7 349.4 L390.0 349.9 L372.5 350.2 L370.0 350.3 L369.8 350.3 L345.0 350.7 L343.0 350.8 Z" fill="url(#g_dark)" stroke="none"/><path d="M343.0 350.8 L345.0 349.7 L369.8 349.1 L370.0 349.1 L372.5 349.1 L390.0 348.7 L392.7 348.1 L398.0 347.0 L412.8 346.4 L423.0 346.0 L423.6 345.6 L425.6 344.4 L427.0 346.8 L427.5 347.7 L429.0 347.8 L435.0 348.2 L440.0 347.8 L446.0 347.7 L462.0 347.4 L463.6 347.4 L464.0 347.4 L471.7 347.2 L473.0 347.2 L473.7 347.2 L480.0 347.1 L502.6 346.7 L505.0 346.6 L513.0 346.5 L521.0 344.4 L536.0 344.8 L544.0 343.5 L561.0 343.6 L561.7 343.6 L571.0 343.6 L590.0 343.7 L591.3 343.7 L600.0 343.7 L607.0 343.8 L612.0 343.9 L643.0 344.4 L645.5 344.5 L647.0 344.5 L675.0 345.1 L677.0 346.2 L687.0 346.4 L690.0 346.4 L695.0 346.5 L704.0 346.7 L706.0 348.1 L706.5 348.5 L708.0 348.5 L708.6 348.5 L711.0 348.5 L713.0 348.6 L714.0 348.6 L715.5 348.6 L716.0 348.6 L718.0 348.6 L721.5 348.7 L722.0 348.7 L723.6 348.7 L724.7 348.7 L725.0 348.7 L725.2 348.7 L734.8 348.8 L735.0 348.8 L735.4 348.8 L737.8 348.8 L738.0 348.8 L741.0 348.9 L742.0 348.9 L746.0 348.9 L746.4 348.9 L748.0 348.9 L748.2 348.9 L752.7 349.0 L753.0 349.0 L753.5 349.0 L755.0 349.0 L763.0 349.1 L764.4 349.1 L765.0 349.1 L765.3 349.1 L766.0 349.1 L766.5 349.1 L774.0 349.0 L775.0 349.0 L788.0 349.0 L788.8 349.0 L789.0 349.0 L791.0 348.9 L791.3 348.9 L792.8 348.9 L798.2 348.9 L799.0 348.9 L802.0 348.9 L802.3 348.9 L802.5 348.9 L805.0 348.9 L808.6 348.8 L810.0 348.8 L811.0 348.8 L817.2 348.8 L817.6 348.8 L819.6 348.8 L819.8 348.8 L823.5 348.7 L824.0 348.7 L830.0 348.7 L833.8 348.7 L838.5 348.7 L841.0 348.7 L841.4 348.7 L843.2 348.7 L847.0 348.7 L848.6 348.7 L849.5 348.7 L850.3 348.7 L857.2 348.8 L857.4 348.8 L861.6 348.8 L870.0 348.8 L873.0 348.8 L881.0 348.8 L884.6 348.8 L888.0 348.8 L890.4 348.8 L890.7 348.8 L891.0 348.8 L893.8 348.8 L895.0 348.8 L899.0 348.8 L902.0 348.9 L902.6 348.9 L905.7 348.9 L913.4 348.9 L915.0 348.9 L915.2 348.9 L915.4 348.9 L918.3 348.9 L925.0 348.9 L926.0 348.9 L926.4 348.9 L926.5 348.9 L929.6 348.8 L930.3 348.8 L932.0 348.8 L932.2 348.8 L933.0 348.8 L934.0 348.8 L934.8 348.8 L940.0 348.7 L940.8 348.7 L941.6 348.7 L944.0 348.6 L945.0 348.6 L945.2 348.6 L945.3 348.6 L946.0 348.6 L947.9 348.6 L948.5 348.6 L948.6 348.6 L954.2 348.5 L955.5 348.5 L958.6 348.4 L960.0 348.4 L964.2 348.4 L970.7 348.5 L971.0 348.5 L971.8 348.5 L973.0 348.6 L973.7 348.6 L974.7 348.6 L977.0 348.6 L977.4 348.8 L978.0 349.1 L979.0 349.5 L981.8 349.5 L982.3 349.5 L984.3 349.6 L985.5 349.6 L986.7 349.6 L992.7 349.7 L993.1 349.7 L993.5 349.7 L996.2 349.7 L1001.6 349.8 L1002.0 349.8 L1003.0 349.8 L1005.0 349.8 L1005.7 349.8 L1009.7 349.9 L1010.0 349.9 L1010.5 349.9 L1012.4 349.9 L1012.6 349.9 L1013.5 349.9 L1020.4 350.0 L1020.8 350.0 L1021.0 350.0 L1023.0 350.0 L1023.3 350.0 L1027.0 350.1 L1028.2 350.1 L1028.4 350.1 L1032.0 350.2 L1032.5 350.2 L1036.8 350.2 L1038.4 350.2 L1041.6 350.3 L1042.0 350.3 L1042.7 350.3 L1045.0 350.3 L1045.5 350.3 L1046.0 350.3 L1049.0 350.4 L1050.0 350.4 L1054.0 350.4 L1059.0 350.5 L1059.3 350.5 L1060.0 350.5 L1063.8 350.6 L1064.0 350.6 L1068.0 350.6 L1070.0 350.7 L1070.5 350.7 L1072.2 350.7 L1073.0 350.7 L1075.0 350.8 L1075.4 350.8 L1076.0 350.8 L1078.6 350.8 L1079.6 350.8 L1082.8 350.9 L1083.0 350.9 L1087.0 351.0 L1087.2 351.0 L1087.4 351.0 L1088.8 351.0 L1090.0 351.0 L1090.2 351.0 L1091.0 351.0 L1092.2 351.1 L1094.4 351.1 L1094.5 351.1 L1096.4 351.1 L1097.0 351.1 L1097.1 351.1 L1098.0 351.2 L1099.2 351.2 L1100.0 351.2 L1101.5 351.2 L1102.8 351.2 L1103.8 351.2 L1104.0 351.2 L1105.4 351.2 L1106.0 351.2 L1106.4 351.2 L1106.5 351.2 L1106.8 351.2 L1108.4 351.2 L1111.3 351.3 L1111.8 351.3 L1114.8 351.3 L1116.4 351.3 L1116.6 351.3 L1118.7 351.3 L1119.7 351.3 L1120.3 351.3 L1122.5 351.3 L1123.3 351.3 L1125.6 351.3 L1126.0 351.3 L1127.5 351.3 L1128.7 351.3 L1130.2 351.3 L1130.3 351.3 L1131.7 351.3 L1132.5 351.3 L1134.8 351.4 L1134.9 351.4 L1135.6 351.4 L1137.2 351.4 L1140.6 351.4 L1140.8 351.4 L1143.6 351.4" fill="none" stroke="#0f3728" stroke-width="1.8" stroke-linejoin="round" stroke-linecap="round"/><path d="M440.0 349.5 L446.0 349.4 L462.0 349.0 L463.6 349.0 L464.0 349.0 L471.7 348.8 L473.0 348.8 L473.7 348.7 L480.0 348.6 L502.6 347.9 L505.0 347.8 L513.0 347.6 L521.0 347.0 L536.0 347.0 L544.0 347.0 L561.0 347.0 L561.7 347.0 L571.0 347.0 L590.0 347.0 L591.3 347.0 L600.0 347.0 L607.0 347.1 L612.0 347.1 L643.0 347.5 L645.5 347.6 L647.0 347.6 L675.0 348.3 L677.0 348.4 L687.0 348.7 L690.0 348.7 L695.0 348.9 L704.0 349.1 L706.0 350.5 L706.5 350.8 L708.0 350.8 L708.6 350.8 L711.0 350.8 L713.0 350.8 L714.0 350.9 L715.5 350.9 L716.0 350.9 L718.0 350.9 L721.5 350.9 L722.0 350.9 L723.6 350.9 L724.7 350.9 L725.0 350.9 L725.2 350.9 L734.8 351.0 L735.0 351.0 L735.4 351.0 L737.8 351.0 L738.0 351.0 L741.0 351.0 L742.0 351.0 L746.0 351.1 L746.4 351.1 L748.0 351.1 L748.2 351.1 L752.7 351.1 L753.0 351.1 L753.5 351.1 L755.0 351.1 L763.0 351.2 L764.4 351.2 L765.0 351.2 L765.3 351.2 L766.0 351.2 L766.5 351.2 L774.0 351.2 L775.0 351.2 L788.0 351.1 L788.8 351.1 L789.0 351.1 L791.0 351.1 L791.3 351.1 L792.8 351.1 L798.2 351.1 L799.0 351.1 L802.0 351.1 L802.3 351.1 L802.5 351.1 L805.0 351.1 L808.6 351.0 L810.0 351.0 L811.0 351.0 L817.2 351.0 L817.6 351.0 L819.6 351.0 L819.8 351.0 L823.5 351.0 L824.0 351.0 L830.0 351.0 L833.8 350.9 L838.5 350.9 L841.0 350.9 L841.4 350.9 L843.2 350.9 L847.0 350.9 L848.6 350.9 L849.5 350.9 L850.3 350.9 L857.2 350.9 L857.4 350.9 L861.6 350.8 L870.0 350.8 L873.0 350.8 L881.0 350.8 L884.6 350.8 L888.0 350.7 L890.4 350.7 L890.7 350.7 L891.0 350.7 L893.8 350.7 L895.0 350.7 L899.0 350.7 L902.0 350.7 L902.6 350.7 L905.7 350.7 L913.4 350.6 L915.0 350.6 L915.2 350.6 L915.4 350.6 L918.3 350.6 L925.0 350.6 L926.0 350.6 L926.4 350.6 L926.5 350.6 L929.6 350.6 L930.3 350.6 L932.0 350.6 L932.2 350.6 L933.0 350.6 L934.0 350.6 L934.8 350.6 L940.0 350.6 L940.8 350.6 L941.6 350.6 L944.0 350.6 L945.0 350.7 L945.2 350.7 L945.3 350.7 L946.0 350.7 L947.9 350.7 L948.5 350.7 L948.6 350.7 L954.2 350.7 L955.5 350.7 L958.6 350.7 L960.0 350.7 L964.2 350.7 L970.7 350.7 L971.0 350.7 L971.8 350.7 L973.0 350.7 L973.7 350.7 L974.7 350.7 L977.0 350.7 L977.4 350.7 L978.0 350.7 L979.0 350.7 L981.8 350.7 L982.3 350.7 L984.3 350.7 L985.5 350.8 L986.7 350.8 L992.7 350.8 L993.1 350.8 L993.5 350.8 L996.2 350.8 L1001.6 350.8 L1002.0 350.8 L1003.0 350.8 L1005.0 350.8 L1005.7 350.8 L1009.7 350.8 L1010.0 350.8 L1010.5 350.8 L1012.4 350.8 L1012.6 350.8 L1013.5 350.8 L1020.4 350.8 L1020.8 350.8 L1021.0 350.8 L1023.0 350.8 L1023.3 350.8 L1027.0 350.9 L1028.2 350.9 L1028.4 350.9 L1032.0 350.9 L1032.5 350.9 L1036.8 350.9 L1038.4 350.9 L1041.6 350.9 L1042.0 350.9 L1042.7 350.9 L1045.0 350.9 L1045.5 350.9 L1046.0 350.9 L1049.0 351.0 L1050.0 351.1 L1054.0 351.2 L1059.0 351.3 L1059.3 351.3 L1060.0 351.4 L1063.8 351.5 L1064.0 351.5 L1068.0 351.6 L1070.0 351.7 L1070.5 351.7 L1072.2 351.7 L1073.0 351.8 L1075.0 351.8 L1075.4 351.8 L1076.0 351.9 L1078.6 351.9 L1079.6 352.0 L1082.8 352.1 L1083.0 352.1 L1087.0 352.2 L1087.2 352.2 L1087.4 352.2 L1088.8 352.3 L1090.0 352.3 L1090.2 352.3 L1091.0 352.3 L1092.2 352.3 L1094.4 352.3 L1094.5 352.3 L1096.4 352.3 L1097.0 352.3 L1097.1 352.3 L1098.0 352.3 L1099.2 352.4 L1100.0 352.4 L1101.5 352.4 L1102.8 352.4 L1103.8 352.4 L1104.0 352.4 L1105.4 352.4 L1106.0 352.4 L1106.4 352.4 L1106.5 352.4 L1106.8 352.4 L1108.4 352.4 L1111.3 352.4 L1111.8 352.4 L1114.8 352.4 L1116.4 352.4 L1116.6 352.4 L1118.7 352.5 L1119.7 352.5 L1120.3 352.5 L1122.5 352.5 L1123.3 352.5 L1125.6 352.5 L1126.0 352.5 L1127.5 352.5 L1128.7 352.5 L1130.2 352.5 L1130.3 352.5 L1131.7 352.5 L1132.5 352.5 L1134.8 352.6 L1134.9 352.6 L1135.6 352.6 L1137.2 352.6 L1140.6 352.6 L1140.8 352.6 L1143.6 352.6 L1143.6 353.5 L1140.8 353.5 L1140.6 353.5 L1137.2 353.5 L1135.6 353.5 L1134.9 353.5 L1134.8 353.5 L1132.5 353.5 L1131.7 353.5 L1130.3 353.5 L1130.2 353.5 L1128.7 353.5 L1127.5 353.5 L1126.0 353.5 L1125.6 353.5 L1123.3 353.5 L1122.5 353.5 L1120.3 353.5 L1119.7 353.4 L1118.7 353.4 L1116.6 353.4 L1116.4 353.4 L1114.8 353.4 L1111.8 353.4 L1111.3 353.4 L1108.4 353.4 L1106.8 353.4 L1106.5 353.4 L1106.4 353.4 L1106.0 353.4 L1105.4 353.4 L1104.0 353.4 L1103.8 353.4 L1102.8 353.4 L1101.5 353.4 L1100.0 353.4 L1099.2 353.4 L1098.0 353.4 L1097.1 353.4 L1097.0 353.4 L1096.4 353.4 L1094.5 353.4 L1094.4 353.4 L1092.2 353.4 L1091.0 353.4 L1090.2 353.4 L1090.0 353.4 L1088.8 353.4 L1087.4 353.4 L1087.2 353.4 L1087.0 353.4 L1083.0 353.4 L1082.8 353.4 L1079.6 353.4 L1078.6 353.4 L1076.0 353.4 L1075.4 353.4 L1075.0 353.3 L1073.0 353.3 L1072.2 353.2 L1070.5 353.2 L1070.0 353.2 L1068.0 353.1 L1064.0 353.0 L1063.8 353.0 L1060.0 353.0 L1059.3 352.9 L1059.0 352.9 L1054.0 352.8 L1050.0 352.7 L1049.0 352.7 L1046.0 352.6 L1045.5 352.6 L1045.0 352.6 L1042.7 352.6 L1042.0 352.6 L1041.6 352.6 L1038.4 352.6 L1036.8 352.6 L1032.5 352.6 L1032.0 352.6 L1028.4 352.6 L1028.2 352.6 L1027.0 352.6 L1023.3 352.6 L1023.0 352.6 L1021.0 352.6 L1020.8 352.6 L1020.4 352.6 L1013.5 352.6 L1012.6 352.6 L1012.4 352.6 L1010.5 352.5 L1010.0 352.5 L1009.7 352.5 L1005.7 352.5 L1005.0 352.5 L1003.0 352.5 L1002.0 352.5 L1001.6 352.5 L996.2 352.5 L993.5 352.5 L993.1 352.5 L992.7 352.5 L986.7 352.5 L985.5 352.5 L984.3 352.5 L982.3 352.5 L981.8 352.5 L979.0 352.5 L978.0 352.5 L977.4 352.5 L977.0 352.4 L974.7 352.3 L973.7 352.3 L973.0 352.2 L971.8 352.2 L971.0 352.1 L970.7 352.1 L964.2 351.7 L960.0 351.5 L958.6 351.5 L955.5 351.5 L954.2 351.5 L948.6 351.5 L948.5 351.5 L947.9 351.5 L946.0 351.5 L945.3 351.5 L945.2 351.5 L945.0 351.5 L944.0 351.5 L941.6 351.6 L940.8 351.6 L940.0 351.6 L934.8 351.6 L934.0 351.6 L933.0 351.6 L932.2 351.6 L932.0 351.6 L930.3 351.6 L929.6 351.6 L926.5 351.6 L926.4 351.6 L926.0 351.6 L925.0 351.6 L918.3 351.6 L915.4 351.6 L915.2 351.6 L915.0 351.6 L913.4 351.6 L905.7 351.6 L902.6 351.7 L902.0 351.7 L899.0 351.7 L895.0 351.7 L893.8 351.7 L891.0 351.7 L890.7 351.7 L890.4 351.7 L888.0 351.7 L884.6 351.7 L881.0 351.7 L873.0 351.7 L870.0 351.7 L861.6 351.8 L857.4 351.8 L857.2 351.8 L850.3 351.8 L849.5 351.8 L848.6 351.8 L847.0 351.8 L843.2 351.8 L841.4 351.8 L841.0 351.8 L838.5 351.8 L833.8 351.8 L830.0 351.8 L824.0 351.9 L823.5 351.9 L819.8 351.9 L819.6 351.9 L817.6 351.9 L817.2 351.9 L811.0 351.9 L810.0 351.9 L808.6 351.9 L805.0 351.9 L802.5 351.9 L802.3 351.9 L802.0 351.9 L799.0 351.9 L798.2 351.9 L792.8 351.9 L791.3 351.9 L791.0 351.9 L789.0 351.9 L788.8 351.9 L788.0 351.9 L775.0 352.0 L774.0 352.0 L766.5 352.0 L766.0 352.0 L765.3 352.0 L765.0 352.0 L764.4 352.0 L763.0 352.0 L755.0 351.9 L753.5 351.9 L753.0 351.9 L752.7 351.9 L748.2 351.9 L748.0 351.9 L746.4 351.9 L746.0 351.9 L742.0 351.8 L741.0 351.8 L738.0 351.8 L737.8 351.8 L735.4 351.8 L735.0 351.8 L734.8 351.8 L725.2 351.7 L725.0 351.7 L724.7 351.7 L723.6 351.7 L722.0 351.7 L721.5 351.7 L718.0 351.7 L716.0 351.7 L715.5 351.7 L714.0 351.7 L713.0 351.6 L711.0 351.6 L708.6 351.6 L708.0 351.6 L706.5 351.6 L706.0 351.3 L704.0 350.0 L695.0 349.8 L690.0 349.6 L687.0 349.6 L677.0 349.3 L675.0 349.2 L647.0 348.5 L645.5 348.5 L643.0 348.4 L612.0 348.0 L607.0 348.0 L600.0 347.9 L591.3 348.0 L590.0 348.0 L571.0 348.1 L561.7 348.2 L561.0 348.2 L544.0 348.4 L536.0 348.4 L521.0 348.5 L513.0 348.6 L505.0 348.8 L502.6 348.8 L480.0 349.3 L473.7 349.5 L473.0 349.5 L471.7 349.5 L464.0 349.7 L463.6 349.7 L462.0 349.7 L446.0 350.1 L440.0 350.2 Z" fill="url(#g_cyan)" stroke="none"/><path d="M440.0 349.5 L446.0 349.4 L462.0 349.0 L463.6 349.0 L464.0 349.0 L471.7 348.8 L473.0 348.8 L473.7 348.7 L480.0 348.6 L502.6 347.9 L505.0 347.8 L513.0 347.6 L521.0 347.0 L536.0 347.0 L544.0 347.0 L561.0 347.0 L561.7 347.0 L571.0 347.0 L590.0 347.0 L591.3 347.0 L600.0 347.0 L607.0 347.1 L612.0 347.1 L643.0 347.5 L645.5 347.6 L647.0 347.6 L675.0 348.3 L677.0 348.4 L687.0 348.7 L690.0 348.7 L695.0 348.9 L704.0 349.1 L706.0 350.5 L706.5 350.8 L708.0 350.8 L708.6 350.8 L711.0 350.8 L713.0 350.8 L714.0 350.9 L715.5 350.9 L716.0 350.9 L718.0 350.9 L721.5 350.9 L722.0 350.9 L723.6 350.9 L724.7 350.9 L725.0 350.9 L725.2 350.9 L734.8 351.0 L735.0 351.0 L735.4 351.0 L737.8 351.0 L738.0 351.0 L741.0 351.0 L742.0 351.0 L746.0 351.1 L746.4 351.1 L748.0 351.1 L748.2 351.1 L752.7 351.1 L753.0 351.1 L753.5 351.1 L755.0 351.1 L763.0 351.2 L764.4 351.2 L765.0 351.2 L765.3 351.2 L766.0 351.2 L766.5 351.2 L774.0 351.2 L775.0 351.2 L788.0 351.1 L788.8 351.1 L789.0 351.1 L791.0 351.1 L791.3 351.1 L792.8 351.1 L798.2 351.1 L799.0 351.1 L802.0 351.1 L802.3 351.1 L802.5 351.1 L805.0 351.1 L808.6 351.0 L810.0 351.0 L811.0 351.0 L817.2 351.0 L817.6 351.0 L819.6 351.0 L819.8 351.0 L823.5 351.0 L824.0 351.0 L830.0 351.0 L833.8 350.9 L838.5 350.9 L841.0 350.9 L841.4 350.9 L843.2 350.9 L847.0 350.9 L848.6 350.9 L849.5 350.9 L850.3 350.9 L857.2 350.9 L857.4 350.9 L861.6 350.8 L870.0 350.8 L873.0 350.8 L881.0 350.8 L884.6 350.8 L888.0 350.7 L890.4 350.7 L890.7 350.7 L891.0 350.7 L893.8 350.7 L895.0 350.7 L899.0 350.7 L902.0 350.7 L902.6 350.7 L905.7 350.7 L913.4 350.6 L915.0 350.6 L915.2 350.6 L915.4 350.6 L918.3 350.6 L925.0 350.6 L926.0 350.6 L926.4 350.6 L926.5 350.6 L929.6 350.6 L930.3 350.6 L932.0 350.6 L932.2 350.6 L933.0 350.6 L934.0 350.6 L934.8 350.6 L940.0 350.6 L940.8 350.6 L941.6 350.6 L944.0 350.6 L945.0 350.7 L945.2 350.7 L945.3 350.7 L946.0 350.7 L947.9 350.7 L948.5 350.7 L948.6 350.7 L954.2 350.7 L955.5 350.7 L958.6 350.7 L960.0 350.7 L964.2 350.7 L970.7 350.7 L971.0 350.7 L971.8 350.7 L973.0 350.7 L973.7 350.7 L974.7 350.7 L977.0 350.7 L977.4 350.7 L978.0 350.7 L979.0 350.7 L981.8 350.7 L982.3 350.7 L984.3 350.7 L985.5 350.8 L986.7 350.8 L992.7 350.8 L993.1 350.8 L993.5 350.8 L996.2 350.8 L1001.6 350.8 L1002.0 350.8 L1003.0 350.8 L1005.0 350.8 L1005.7 350.8 L1009.7 350.8 L1010.0 350.8 L1010.5 350.8 L1012.4 350.8 L1012.6 350.8 L1013.5 350.8 L1020.4 350.8 L1020.8 350.8 L1021.0 350.8 L1023.0 350.8 L1023.3 350.8 L1027.0 350.9 L1028.2 350.9 L1028.4 350.9 L1032.0 350.9 L1032.5 350.9 L1036.8 350.9 L1038.4 350.9 L1041.6 350.9 L1042.0 350.9 L1042.7 350.9 L1045.0 350.9 L1045.5 350.9 L1046.0 350.9 L1049.0 351.0 L1050.0 351.1 L1054.0 351.2 L1059.0 351.3 L1059.3 351.3 L1060.0 351.4 L1063.8 351.5 L1064.0 351.5 L1068.0 351.6 L1070.0 351.7 L1070.5 351.7 L1072.2 351.7 L1073.0 351.8 L1075.0 351.8 L1075.4 351.8 L1076.0 351.9 L1078.6 351.9 L1079.6 352.0 L1082.8 352.1 L1083.0 352.1 L1087.0 352.2 L1087.2 352.2 L1087.4 352.2 L1088.8 352.3 L1090.0 352.3 L1090.2 352.3 L1091.0 352.3 L1092.2 352.3 L1094.4 352.3 L1094.5 352.3 L1096.4 352.3 L1097.0 352.3 L1097.1 352.3 L1098.0 352.3 L1099.2 352.4 L1100.0 352.4 L1101.5 352.4 L1102.8 352.4 L1103.8 352.4 L1104.0 352.4 L1105.4 352.4 L1106.0 352.4 L1106.4 352.4 L1106.5 352.4 L1106.8 352.4 L1108.4 352.4 L1111.3 352.4 L1111.8 352.4 L1114.8 352.4 L1116.4 352.4 L1116.6 352.4 L1118.7 352.5 L1119.7 352.5 L1120.3 352.5 L1122.5 352.5 L1123.3 352.5 L1125.6 352.5 L1126.0 352.5 L1127.5 352.5 L1128.7 352.5 L1130.2 352.5 L1130.3 352.5 L1131.7 352.5 L1132.5 352.5 L1134.8 352.6 L1134.9 352.6 L1135.6 352.6 L1137.2 352.6 L1140.6 352.6 L1140.8 352.6 L1143.6 352.6" fill="none" stroke="#7fe6dc" stroke-width="1.4" stroke-linejoin="round" stroke-linecap="round"/><path d="M440.0 350.2 L446.0 350.1 L462.0 349.7 L463.6 349.7 L464.0 349.7 L471.7 349.5 L473.0 349.5 L473.7 349.5 L480.0 349.3 L502.6 348.8 L505.0 348.8 L513.0 348.6 L521.0 348.5 L536.0 348.4 L544.0 348.4 L561.0 348.2 L561.7 348.2 L571.0 348.1 L590.0 348.0 L591.3 348.0 L600.0 347.9 L607.0 348.0 L612.0 348.0 L643.0 348.4 L645.5 348.5 L647.0 348.5 L675.0 349.2 L677.0 349.3 L687.0 349.6 L690.0 349.6 L695.0 349.8 L704.0 350.0 L706.0 351.3 L706.5 351.6 L708.0 351.6 L708.6 351.6 L711.0 351.6 L713.0 351.6 L714.0 351.7 L715.5 351.7 L716.0 351.7 L718.0 351.7 L721.5 351.7 L722.0 351.7 L723.6 351.7 L724.7 351.7 L725.0 351.7 L725.2 351.7 L734.8 351.8 L735.0 351.8 L735.4 351.8 L737.8 351.8 L738.0 351.8 L741.0 351.8 L742.0 351.8 L746.0 351.9 L746.4 351.9 L748.0 351.9 L748.2 351.9 L752.7 351.9 L753.0 351.9 L753.5 351.9 L755.0 351.9 L763.0 352.0 L764.4 352.0 L765.0 352.0 L765.3 352.0 L766.0 352.0 L766.5 352.0 L774.0 352.0 L775.0 352.0 L788.0 351.9 L788.8 351.9 L789.0 351.9 L791.0 351.9 L791.3 351.9 L792.8 351.9 L798.2 351.9 L799.0 351.9 L802.0 351.9 L802.3 351.9 L802.5 351.9 L805.0 351.9 L808.6 351.9 L810.0 351.9 L811.0 351.9 L817.2 351.9 L817.6 351.9 L819.6 351.9 L819.8 351.9 L823.5 351.9 L824.0 351.9 L830.0 351.8 L833.8 351.8 L838.5 351.8 L841.0 351.8 L841.4 351.8 L843.2 351.8 L847.0 351.8 L848.6 351.8 L849.5 351.8 L850.3 351.8 L857.2 351.8 L857.4 351.8 L861.6 351.8 L870.0 351.7 L873.0 351.7 L881.0 351.7 L884.6 351.7 L888.0 351.7 L890.4 351.7 L890.7 351.7 L891.0 351.7 L893.8 351.7 L895.0 351.7 L899.0 351.7 L902.0 351.7 L902.6 351.7 L905.7 351.6 L913.4 351.6 L915.0 351.6 L915.2 351.6 L915.4 351.6 L918.3 351.6 L925.0 351.6 L926.0 351.6 L926.4 351.6 L926.5 351.6 L929.6 351.6 L930.3 351.6 L932.0 351.6 L932.2 351.6 L933.0 351.6 L934.0 351.6 L934.8 351.6 L940.0 351.6 L940.8 351.6 L941.6 351.6 L944.0 351.5 L945.0 351.5 L945.2 351.5 L945.3 351.5 L946.0 351.5 L947.9 351.5 L948.5 351.5 L948.6 351.5 L954.2 351.5 L955.5 351.5 L958.6 351.5 L960.0 351.5 L964.2 351.7 L970.7 352.1 L971.0 352.1 L971.8 352.2 L973.0 352.2 L973.7 352.3 L974.7 352.3 L977.0 352.4 L977.4 352.5 L978.0 352.5 L979.0 352.5 L981.8 352.5 L982.3 352.5 L984.3 352.5 L985.5 352.5 L986.7 352.5 L992.7 352.5 L993.1 352.5 L993.5 352.5 L996.2 352.5 L1001.6 352.5 L1002.0 352.5 L1003.0 352.5 L1005.0 352.5 L1005.7 352.5 L1009.7 352.5 L1010.0 352.5 L1010.5 352.5 L1012.4 352.6 L1012.6 352.6 L1013.5 352.6 L1020.4 352.6 L1020.8 352.6 L1021.0 352.6 L1023.0 352.6 L1023.3 352.6 L1027.0 352.6 L1028.2 352.6 L1028.4 352.6 L1032.0 352.6 L1032.5 352.6 L1036.8 352.6 L1038.4 352.6 L1041.6 352.6 L1042.0 352.6 L1042.7 352.6 L1045.0 352.6 L1045.5 352.6 L1046.0 352.6 L1049.0 352.7 L1050.0 352.7 L1054.0 352.8 L1059.0 352.9 L1059.3 352.9 L1060.0 353.0 L1063.8 353.0 L1064.0 353.0 L1068.0 353.1 L1070.0 353.2 L1070.5 353.2 L1072.2 353.2 L1073.0 353.3 L1075.0 353.3 L1075.0 353.4 L1073.0 353.3 L1072.2 353.3 L1070.5 353.3 L1070.0 353.3 L1068.0 353.3 L1064.0 353.3 L1063.8 353.3 L1060.0 353.3 L1059.3 353.3 L1059.0 353.3 L1054.0 353.3 L1050.0 353.3 L1049.0 353.6 L1046.0 354.3 L1045.5 353.9 L1045.0 353.9 L1042.7 353.9 L1042.0 353.9 L1041.6 353.9 L1038.4 353.9 L1036.8 353.9 L1032.5 353.9 L1032.0 353.9 L1028.4 353.9 L1028.2 353.9 L1027.0 353.9 L1023.3 353.9 L1023.0 353.9 L1021.0 353.9 L1020.8 353.9 L1020.4 353.9 L1013.5 353.8 L1012.6 353.8 L1012.4 353.8 L1010.5 353.8 L1010.0 353.8 L1009.7 353.8 L1005.7 353.8 L1005.0 353.8 L1003.0 353.8 L1002.0 353.8 L1001.6 353.8 L996.2 353.8 L993.5 353.8 L993.1 353.8 L992.7 353.8 L986.7 353.7 L985.5 353.7 L984.3 353.7 L982.3 353.7 L981.8 353.7 L979.0 353.7 L978.0 353.7 L977.4 353.7 L977.0 353.6 L974.7 353.5 L973.7 353.5 L973.0 353.4 L971.8 353.4 L971.0 353.3 L970.7 353.3 L964.2 352.9 L960.0 352.7 L958.6 352.7 L955.5 352.7 L954.2 352.7 L948.6 352.8 L948.5 352.8 L947.9 352.8 L946.0 352.8 L945.3 352.8 L945.2 352.8 L945.0 352.8 L944.0 352.8 L941.6 352.9 L940.8 352.9 L940.0 352.9 L934.8 352.9 L934.0 352.9 L933.0 352.9 L932.2 352.9 L932.0 352.9 L930.3 353.0 L929.6 353.0 L926.5 353.0 L926.4 353.0 L926.0 353.0 L925.0 353.0 L918.3 353.0 L915.4 353.0 L915.2 353.0 L915.0 353.0 L913.4 353.0 L905.7 353.0 L902.6 353.0 L902.0 353.0 L899.0 353.0 L895.0 353.0 L893.8 353.0 L891.0 353.0 L890.7 353.0 L890.4 353.0 L888.0 353.0 L884.6 353.1 L881.0 353.1 L873.0 353.1 L870.0 353.1 L861.6 353.1 L857.4 353.1 L857.2 353.1 L850.3 353.1 L849.5 353.1 L848.6 353.1 L847.0 353.1 L843.2 353.1 L841.4 353.1 L841.0 353.1 L838.5 353.1 L833.8 353.1 L830.0 353.1 L824.0 353.1 L823.5 353.1 L819.8 353.1 L819.6 353.1 L817.6 353.1 L817.2 353.1 L811.0 353.1 L810.0 353.1 L808.6 353.1 L805.0 353.1 L802.5 353.2 L802.3 353.2 L802.0 353.2 L799.0 353.2 L798.2 353.2 L792.8 353.2 L791.3 353.2 L791.0 353.2 L789.0 353.2 L788.8 353.2 L788.0 353.2 L775.0 353.2 L774.0 353.2 L766.5 353.2 L766.0 353.2 L765.3 353.2 L765.0 353.2 L764.4 353.2 L763.0 353.2 L755.0 353.1 L753.5 353.1 L753.0 353.1 L752.7 353.1 L748.2 353.0 L748.0 353.0 L746.4 353.0 L746.0 353.0 L742.0 352.9 L741.0 352.9 L738.0 352.9 L737.8 352.9 L735.4 352.8 L735.0 352.8 L734.8 352.8 L725.2 352.7 L725.0 352.7 L724.7 352.7 L723.6 352.7 L722.0 352.7 L721.5 352.7 L718.0 352.6 L716.0 352.6 L715.5 352.6 L714.0 352.6 L713.0 352.6 L711.0 352.6 L708.6 352.5 L708.0 352.5 L706.5 352.5 L706.0 352.2 L704.0 351.2 L695.0 351.0 L690.0 350.9 L687.0 350.8 L677.0 350.6 L675.0 350.6 L647.0 350.0 L645.5 350.0 L643.0 349.9 L612.0 349.3 L607.0 349.1 L600.0 349.0 L591.3 349.1 L590.0 349.1 L571.0 349.2 L561.7 349.3 L561.0 349.3 L544.0 349.4 L536.0 349.4 L521.0 349.5 L513.0 349.6 L505.0 349.7 L502.6 349.7 L480.0 350.1 L473.7 350.1 L473.0 350.1 L471.7 350.2 L464.0 350.3 L463.6 350.3 L462.0 350.3 L446.0 350.5 L440.0 350.6 Z" fill="url(#g_orange)" stroke="none"/><path d="M440.0 350.2 L446.0 350.1 L462.0 349.7 L463.6 349.7 L464.0 349.7 L471.7 349.5 L473.0 349.5 L473.7 349.5 L480.0 349.3 L502.6 348.8 L505.0 348.8 L513.0 348.6 L521.0 348.5 L536.0 348.4 L544.0 348.4 L561.0 348.2 L561.7 348.2 L571.0 348.1 L590.0 348.0 L591.3 348.0 L600.0 347.9 L607.0 348.0 L612.0 348.0 L643.0 348.4 L645.5 348.5 L647.0 348.5 L675.0 349.2 L677.0 349.3 L687.0 349.6 L690.0 349.6 L695.0 349.8 L704.0 350.0 L706.0 351.3 L706.5 351.6 L708.0 351.6 L708.6 351.6 L711.0 351.6 L713.0 351.6 L714.0 351.7 L715.5 351.7 L716.0 351.7 L718.0 351.7 L721.5 351.7 L722.0 351.7 L723.6 351.7 L724.7 351.7 L725.0 351.7 L725.2 351.7 L734.8 351.8 L735.0 351.8 L735.4 351.8 L737.8 351.8 L738.0 351.8 L741.0 351.8 L742.0 351.8 L746.0 351.9 L746.4 351.9 L748.0 351.9 L748.2 351.9 L752.7 351.9 L753.0 351.9 L753.5 351.9 L755.0 351.9 L763.0 352.0 L764.4 352.0 L765.0 352.0 L765.3 352.0 L766.0 352.0 L766.5 352.0 L774.0 352.0 L775.0 352.0 L788.0 351.9 L788.8 351.9 L789.0 351.9 L791.0 351.9 L791.3 351.9 L792.8 351.9 L798.2 351.9 L799.0 351.9 L802.0 351.9 L802.3 351.9 L802.5 351.9 L805.0 351.9 L808.6 351.9 L810.0 351.9 L811.0 351.9 L817.2 351.9 L817.6 351.9 L819.6 351.9 L819.8 351.9 L823.5 351.9 L824.0 351.9 L830.0 351.8 L833.8 351.8 L838.5 351.8 L841.0 351.8 L841.4 351.8 L843.2 351.8 L847.0 351.8 L848.6 351.8 L849.5 351.8 L850.3 351.8 L857.2 351.8 L857.4 351.8 L861.6 351.8 L870.0 351.7 L873.0 351.7 L881.0 351.7 L884.6 351.7 L888.0 351.7 L890.4 351.7 L890.7 351.7 L891.0 351.7 L893.8 351.7 L895.0 351.7 L899.0 351.7 L902.0 351.7 L902.6 351.7 L905.7 351.6 L913.4 351.6 L915.0 351.6 L915.2 351.6 L915.4 351.6 L918.3 351.6 L925.0 351.6 L926.0 351.6 L926.4 351.6 L926.5 351.6 L929.6 351.6 L930.3 351.6 L932.0 351.6 L932.2 351.6 L933.0 351.6 L934.0 351.6 L934.8 351.6 L940.0 351.6 L940.8 351.6 L941.6 351.6 L944.0 351.5 L945.0 351.5 L945.2 351.5 L945.3 351.5 L946.0 351.5 L947.9 351.5 L948.5 351.5 L948.6 351.5 L954.2 351.5 L955.5 351.5 L958.6 351.5 L960.0 351.5 L964.2 351.7 L970.7 352.1 L971.0 352.1 L971.8 352.2 L973.0 352.2 L973.7 352.3 L974.7 352.3 L977.0 352.4 L977.4 352.5 L978.0 352.5 L979.0 352.5 L981.8 352.5 L982.3 352.5 L984.3 352.5 L985.5 352.5 L986.7 352.5 L992.7 352.5 L993.1 352.5 L993.5 352.5 L996.2 352.5 L1001.6 352.5 L1002.0 352.5 L1003.0 352.5 L1005.0 352.5 L1005.7 352.5 L1009.7 352.5 L1010.0 352.5 L1010.5 352.5 L1012.4 352.6 L1012.6 352.6 L1013.5 352.6 L1020.4 352.6 L1020.8 352.6 L1021.0 352.6 L1023.0 352.6 L1023.3 352.6 L1027.0 352.6 L1028.2 352.6 L1028.4 352.6 L1032.0 352.6 L1032.5 352.6 L1036.8 352.6 L1038.4 352.6 L1041.6 352.6 L1042.0 352.6 L1042.7 352.6 L1045.0 352.6 L1045.5 352.6 L1046.0 352.6 L1049.0 352.7 L1050.0 352.7 L1054.0 352.8 L1059.0 352.9 L1059.3 352.9 L1060.0 353.0 L1063.8 353.0 L1064.0 353.0 L1068.0 353.1 L1070.0 353.2 L1070.5 353.2 L1072.2 353.2 L1073.0 353.3 L1075.0 353.3" fill="none" stroke="#cfa04a" stroke-width="0.9" stroke-linejoin="round" stroke-linecap="round"/><path d="M1046.0 353.9 L1049.0 353.6 L1050.0 353.3 L1054.0 353.3 L1059.0 353.3 L1059.3 353.3 L1060.0 353.3 L1063.8 353.3 L1064.0 353.3 L1068.0 353.3 L1070.0 353.3 L1070.5 353.3 L1072.2 353.3 L1073.0 353.3 L1075.0 353.4 L1075.4 353.4 L1076.0 353.4 L1078.6 353.4 L1079.6 353.4 L1082.8 353.4 L1083.0 353.4 L1087.0 353.4 L1087.2 353.4 L1087.4 353.4 L1088.8 353.4 L1090.0 353.4 L1090.2 353.4 L1091.0 353.4 L1092.2 353.4 L1094.4 353.4 L1094.5 353.4 L1096.4 353.4 L1097.0 353.4 L1097.1 353.4 L1098.0 353.4 L1099.2 353.4 L1100.0 353.4 L1101.5 353.4 L1102.8 353.4 L1103.8 353.4 L1104.0 353.4 L1105.4 353.4 L1106.0 353.4 L1106.4 353.4 L1106.5 353.4 L1106.8 353.4 L1108.4 353.4 L1111.3 353.4 L1111.8 353.4 L1114.8 353.4 L1116.4 353.4 L1116.6 353.4 L1118.7 353.4 L1119.7 353.4 L1120.3 353.5 L1122.5 353.5 L1123.3 353.5 L1125.6 353.5 L1126.0 353.5 L1127.5 353.5 L1128.7 353.5 L1130.2 353.5 L1130.3 353.5 L1131.7 353.5 L1132.5 353.5 L1134.8 353.5 L1134.9 353.5 L1135.6 353.5 L1137.2 353.5 L1140.6 353.5 L1140.8 353.5 L1143.6 353.5 L1143.6 354.7 L1140.8 354.7 L1140.6 354.7 L1137.2 354.7 L1135.6 354.7 L1134.9 354.7 L1134.8 354.7 L1132.5 354.7 L1131.7 354.7 L1130.3 354.7 L1130.2 354.7 L1128.7 354.7 L1127.5 354.7 L1126.0 354.7 L1125.6 354.7 L1123.3 354.7 L1122.5 354.7 L1120.3 354.7 L1119.7 354.7 L1118.7 354.7 L1116.6 354.7 L1116.4 354.7 L1114.8 354.7 L1111.8 354.7 L1111.3 354.7 L1108.4 354.7 L1106.8 354.7 L1106.5 354.7 L1106.4 354.7 L1106.0 354.7 L1105.4 354.7 L1104.0 354.7 L1103.8 354.7 L1102.8 354.9 L1101.5 355.1 L1100.0 355.3 L1099.2 355.4 L1098.0 355.6 L1097.1 356.6 L1097.0 356.6 L1096.4 356.6 L1094.5 356.6 L1094.4 356.6 L1092.2 356.6 L1091.0 356.6 L1090.2 356.6 L1090.0 356.6 L1088.8 356.6 L1087.4 356.6 L1087.2 356.6 L1087.0 356.6 L1083.0 356.6 L1082.8 356.6 L1079.6 356.6 L1078.6 356.6 L1076.0 356.6 L1075.4 356.6 L1075.0 354.5 L1073.0 354.4 L1072.2 354.4 L1070.5 354.4 L1070.0 354.3 L1068.0 354.3 L1064.0 354.1 L1063.8 354.1 L1060.0 354.0 L1059.3 354.0 L1059.0 354.0 L1054.0 354.0 L1050.0 354.0 L1049.0 354.0 L1046.0 353.9 Z" fill="url(#g_steel)" stroke="none"/><path d="M1046.0 353.9 L1049.0 353.6 L1050.0 353.3 L1054.0 353.3 L1059.0 353.3 L1059.3 353.3 L1060.0 353.3 L1063.8 353.3 L1064.0 353.3 L1068.0 353.3 L1070.0 353.3 L1070.5 353.3 L1072.2 353.3 L1073.0 353.3 L1075.0 353.4 L1075.4 353.4 L1076.0 353.4 L1078.6 353.4 L1079.6 353.4 L1082.8 353.4 L1083.0 353.4 L1087.0 353.4 L1087.2 353.4 L1087.4 353.4 L1088.8 353.4 L1090.0 353.4 L1090.2 353.4 L1091.0 353.4 L1092.2 353.4 L1094.4 353.4 L1094.5 353.4 L1096.4 353.4 L1097.0 353.4 L1097.1 353.4 L1098.0 353.4 L1099.2 353.4 L1100.0 353.4 L1101.5 353.4 L1102.8 353.4 L1103.8 353.4 L1104.0 353.4 L1105.4 353.4 L1106.0 353.4 L1106.4 353.4 L1106.5 353.4 L1106.8 353.4 L1108.4 353.4 L1111.3 353.4 L1111.8 353.4 L1114.8 353.4 L1116.4 353.4 L1116.6 353.4 L1118.7 353.4 L1119.7 353.4 L1120.3 353.5 L1122.5 353.5 L1123.3 353.5 L1125.6 353.5 L1126.0 353.5 L1127.5 353.5 L1128.7 353.5 L1130.2 353.5 L1130.3 353.5 L1131.7 353.5 L1132.5 353.5 L1134.8 353.5 L1134.9 353.5 L1135.6 353.5 L1137.2 353.5 L1140.6 353.5 L1140.8 353.5 L1143.6 353.5" fill="none" stroke="#4f86c6" stroke-width="1.2" stroke-linejoin="round" stroke-linecap="round"/><path d="M174.0 356.2 L176.6 356.1 L178.0 356.0 L184.7 355.8 L186.7 355.7 L204.8 355.0 L206.9 354.9 L210.0 354.8 L211.6 353.7 L213.0 352.7 L214.2 352.7 L217.5 352.6 L217.6 352.6 L217.7 352.6 L238.0 352.4 L238.4 352.2 L239.8 351.5 L247.8 351.6 L249.9 351.6 L265.0 351.7 L272.4 351.6 L277.8 351.6 L293.0 351.4 L293.2 351.4 L298.0 351.3 L300.0 351.3 L302.4 351.3 L318.8 351.1 L322.0 351.0 L322.8 351.0 L328.0 351.0 L328.2 351.0 L330.9 350.9 L331.0 350.9 L340.0 350.8 L340.3 350.8 L343.0 350.8 L345.0 350.7 L369.8 350.3 L370.0 350.3 L372.5 350.2 L390.0 349.9 L392.7 349.4 L398.0 348.4 L412.8 347.8 L423.0 347.4 L423.6 347.1 L425.6 346.0 L427.0 349.7 L427.5 351.0 L429.0 351.0 L435.0 350.8 L440.0 350.6 L446.0 350.5 L462.0 350.3 L463.6 350.3 L464.0 350.3 L471.7 350.2 L473.0 350.1 L473.7 350.1 L480.0 350.1 L502.6 349.7 L505.0 349.7 L513.0 349.6 L521.0 349.5 L536.0 349.4 L544.0 349.4 L561.0 349.3 L561.7 349.3 L571.0 349.2 L590.0 349.1 L591.3 349.1 L600.0 349.0 L607.0 349.1 L612.0 349.3 L643.0 349.9 L645.5 350.0 L647.0 350.0 L675.0 350.6 L677.0 350.6 L687.0 350.8 L690.0 350.9 L695.0 351.0 L704.0 351.2 L706.0 352.2 L706.5 352.5 L708.0 352.5 L708.6 352.5 L711.0 352.6 L713.0 352.6 L714.0 352.6 L715.5 352.6 L716.0 352.6 L718.0 352.6 L721.5 352.7 L722.0 352.7 L723.6 352.7 L724.7 352.7 L725.0 352.7 L725.2 352.7 L734.8 352.8 L735.0 352.8 L735.4 352.8 L737.8 352.9 L738.0 352.9 L741.0 352.9 L742.0 352.9 L746.0 353.0 L746.4 353.0 L748.0 353.0 L748.2 353.0 L752.7 353.1 L753.0 353.1 L753.5 353.1 L755.0 353.1 L763.0 353.2 L764.4 353.2 L765.0 353.2 L765.3 353.2 L766.0 353.2 L766.5 353.2 L774.0 353.2 L775.0 353.2 L788.0 353.2 L788.8 353.2 L789.0 353.2 L791.0 353.2 L791.3 353.2 L792.8 353.2 L798.2 353.2 L799.0 353.2 L802.0 353.2 L802.3 353.2 L802.5 353.2 L805.0 353.1 L808.6 353.1 L810.0 353.1 L811.0 353.1 L817.2 353.1 L817.6 353.1 L819.6 353.1 L819.8 353.1 L823.5 353.1 L824.0 353.1 L830.0 353.1 L833.8 353.1 L838.5 353.1 L841.0 353.1 L841.4 353.1 L843.2 353.1 L847.0 353.1 L848.6 353.1 L849.5 353.1 L850.3 353.1 L857.2 353.1 L857.4 353.1 L861.6 353.1 L870.0 353.1 L873.0 353.1 L881.0 353.1 L884.6 353.1 L888.0 353.0 L890.4 353.0 L890.7 353.0 L891.0 353.0 L893.8 353.0 L895.0 353.0 L899.0 353.0 L902.0 353.0 L902.6 353.0 L905.7 353.0 L913.4 353.0 L915.0 353.0 L915.2 353.0 L915.4 353.0 L918.3 353.0 L925.0 353.0 L926.0 353.0 L926.4 353.0 L926.5 353.0 L929.6 353.0 L930.3 353.0 L932.0 352.9 L932.2 352.9 L933.0 352.9 L934.0 352.9 L934.8 352.9 L940.0 352.9 L940.8 352.9 L941.6 352.9 L944.0 352.8 L945.0 352.8 L945.2 352.8 L945.3 352.8 L946.0 352.8 L947.9 352.8 L948.5 352.8 L948.6 352.8 L954.2 352.7 L955.5 352.7 L958.6 352.7 L960.0 352.7 L964.2 352.9 L970.7 353.3 L971.0 353.3 L971.8 353.4 L973.0 353.4 L973.7 353.5 L974.7 353.5 L977.0 353.6 L977.4 353.7 L978.0 353.7 L979.0 353.7 L981.8 353.7 L982.3 353.7 L984.3 353.7 L985.5 353.7 L986.7 353.7 L992.7 353.8 L993.1 353.8 L993.5 353.8 L996.2 353.8 L1001.6 353.8 L1002.0 353.8 L1003.0 353.8 L1005.0 353.8 L1005.7 353.8 L1009.7 353.8 L1010.0 353.8 L1010.5 353.8 L1012.4 353.8 L1012.6 353.8 L1013.5 353.8 L1020.4 353.9 L1020.8 353.9 L1021.0 353.9 L1023.0 353.9 L1023.3 353.9 L1027.0 353.9 L1028.2 353.9 L1028.4 353.9 L1032.0 353.9 L1032.5 353.9 L1036.8 353.9 L1038.4 353.9 L1041.6 353.9 L1042.0 353.9 L1042.7 353.9 L1045.0 353.9 L1045.5 353.9 L1046.0 353.9 L1049.0 354.0 L1050.0 354.0 L1054.0 354.0 L1059.0 354.0 L1059.3 354.0 L1060.0 354.0 L1063.8 354.1 L1064.0 354.1 L1068.0 354.3 L1070.0 354.3 L1070.5 354.4 L1072.2 354.4 L1073.0 354.4 L1075.0 354.5 L1075.0 356.6 L1073.0 356.6 L1072.2 356.6 L1070.5 356.6 L1070.0 356.6 L1068.0 356.6 L1064.0 356.6 L1063.8 356.6 L1060.0 356.6 L1059.3 356.6 L1059.0 356.6 L1054.0 356.6 L1050.0 356.6 L1049.0 356.6 L1046.0 356.6 L1045.5 356.6 L1045.0 356.6 L1042.7 356.6 L1042.0 356.6 L1041.6 356.6 L1038.4 356.6 L1036.8 356.6 L1032.5 356.6 L1032.0 356.6 L1028.4 356.6 L1028.2 356.6 L1027.0 356.6 L1023.3 356.6 L1023.0 356.6 L1021.0 356.6 L1020.8 356.6 L1020.4 356.6 L1013.5 356.6 L1012.6 356.6 L1012.4 356.6 L1010.5 356.6 L1010.0 356.6 L1009.7 356.6 L1005.7 356.6 L1005.0 356.6 L1003.0 356.6 L1002.0 356.6 L1001.6 356.6 L996.2 356.6 L993.5 356.6 L993.1 356.6 L992.7 356.6 L986.7 356.6 L985.5 356.6 L984.3 356.6 L982.3 356.6 L981.8 356.6 L979.0 356.6 L978.0 356.6 L977.4 356.6 L977.0 356.6 L974.7 356.6 L973.7 356.6 L973.0 356.6 L971.8 356.6 L971.0 356.6 L970.7 356.6 L964.2 356.6 L960.0 356.6 L958.6 356.6 L955.5 356.6 L954.2 356.6 L948.6 356.6 L948.5 356.6 L947.9 356.6 L946.0 356.6 L945.3 356.6 L945.2 356.6 L945.0 356.6 L944.0 356.6 L941.6 356.6 L940.8 356.6 L940.0 356.6 L934.8 356.6 L934.0 356.6 L933.0 356.6 L932.2 356.6 L932.0 356.6 L930.3 356.6 L929.6 356.6 L926.5 356.6 L926.4 356.6 L926.0 356.6 L925.0 356.6 L918.3 356.6 L915.4 356.6 L915.2 356.6 L915.0 356.6 L913.4 356.6 L905.7 356.6 L902.6 356.6 L902.0 356.6 L899.0 356.6 L895.0 356.6 L893.8 356.6 L891.0 356.6 L890.7 356.6 L890.4 356.6 L888.0 356.6 L884.6 356.6 L881.0 356.6 L873.0 356.6 L870.0 356.6 L861.6 356.6 L857.4 356.6 L857.2 356.6 L850.3 356.6 L849.5 356.6 L848.6 356.6 L847.0 356.6 L843.2 356.6 L841.4 356.6 L841.0 356.6 L838.5 356.6 L833.8 356.6 L830.0 356.6 L824.0 356.6 L823.5 356.6 L819.8 356.6 L819.6 356.6 L817.6 356.6 L817.2 356.6 L811.0 356.6 L810.0 356.6 L808.6 356.6 L805.0 356.6 L802.5 356.6 L802.3 356.6 L802.0 356.6 L799.0 356.6 L798.2 356.6 L792.8 356.6 L791.3 356.6 L791.0 356.6 L789.0 356.6 L788.8 356.6 L788.0 356.6 L775.0 356.6 L774.0 356.6 L766.5 356.6 L766.0 356.6 L765.3 356.6 L765.0 356.6 L764.4 356.6 L763.0 356.6 L755.0 356.6 L753.5 356.6 L753.0 356.6 L752.7 356.6 L748.2 356.6 L748.0 356.6 L746.4 356.6 L746.0 356.6 L742.0 356.6 L741.0 356.6 L738.0 356.6 L737.8 356.6 L735.4 356.6 L735.0 356.6 L734.8 356.6 L725.2 356.6 L725.0 356.6 L724.7 356.6 L723.6 356.6 L722.0 356.6 L721.5 356.6 L718.0 356.6 L716.0 356.6 L715.5 356.6 L714.0 356.6 L713.0 356.6 L711.0 356.6 L708.6 356.6 L708.0 356.6 L706.5 356.6 L706.0 356.6 L704.0 356.6 L695.0 356.6 L690.0 356.6 L687.0 356.6 L677.0 356.6 L675.0 356.6 L647.0 356.6 L645.5 356.6 L643.0 356.6 L612.0 356.6 L607.0 356.6 L600.0 356.6 L591.3 356.6 L590.0 356.6 L571.0 356.6 L561.7 356.6 L561.0 356.6 L544.0 356.6 L536.0 356.6 L521.0 356.6 L513.0 356.6 L505.0 356.6 L502.6 356.6 L480.0 356.6 L473.7 356.6 L473.0 356.6 L471.7 356.6 L464.0 356.6 L463.6 356.6 L462.0 356.6 L446.0 356.6 L440.0 356.6 L435.0 356.6 L429.0 356.6 L427.5 356.6 L427.0 356.6 L425.6 356.6 L423.6 356.6 L423.0 356.6 L412.8 356.6 L398.0 356.6 L392.7 356.6 L390.0 356.6 L372.5 356.6 L370.0 356.6 L369.8 356.6 L345.0 356.6 L343.0 356.6 L340.3 356.6 L340.0 356.6 L331.0 356.6 L330.9 356.6 L328.2 356.6 L328.0 356.6 L322.8 356.6 L322.0 356.6 L318.8 356.6 L302.4 356.6 L300.0 356.6 L298.0 356.6 L293.2 356.6 L293.0 356.6 L277.8 356.6 L272.4 356.6 L265.0 356.6 L249.9 356.6 L247.8 356.6 L239.8 356.6 L238.4 356.6 L238.0 356.6 L217.7 356.6 L217.6 356.6 L217.5 356.6 L214.2 356.6 L213.0 356.6 L211.6 356.6 L210.0 356.6 L206.9 356.6 L204.8 356.6 L186.7 356.6 L184.7 356.6 L178.0 356.6 L176.6 356.6 L174.0 356.6 Z" fill="url(#g_navy2)" stroke="none"/><path d="M174.0 356.2 L176.6 356.1 L178.0 356.0 L184.7 355.8 L186.7 355.7 L204.8 355.0 L206.9 354.9 L210.0 354.8 L211.6 353.7 L213.0 352.7 L214.2 352.7 L217.5 352.6 L217.6 352.6 L217.7 352.6 L238.0 352.4 L238.4 352.2 L239.8 351.5 L247.8 351.6 L249.9 351.6 L265.0 351.7 L272.4 351.6 L277.8 351.6 L293.0 351.4 L293.2 351.4 L298.0 351.3 L300.0 351.3 L302.4 351.3 L318.8 351.1 L322.0 351.0 L322.8 351.0 L328.0 351.0 L328.2 351.0 L330.9 350.9 L331.0 350.9 L340.0 350.8 L340.3 350.8 L343.0 350.8 L345.0 350.7 L369.8 350.3 L370.0 350.3 L372.5 350.2 L390.0 349.9 L392.7 349.4 L398.0 348.4 L412.8 347.8 L423.0 347.4 L423.6 347.1 L425.6 346.0 L427.0 349.7 L427.5 351.0 L429.0 351.0 L435.0 350.8 L440.0 350.6 L446.0 350.5 L462.0 350.3 L463.6 350.3 L464.0 350.3 L471.7 350.2 L473.0 350.1 L473.7 350.1 L480.0 350.1 L502.6 349.7 L505.0 349.7 L513.0 349.6 L521.0 349.5 L536.0 349.4 L544.0 349.4 L561.0 349.3 L561.7 349.3 L571.0 349.2 L590.0 349.1 L591.3 349.1 L600.0 349.0 L607.0 349.1 L612.0 349.3 L643.0 349.9 L645.5 350.0 L647.0 350.0 L675.0 350.6 L677.0 350.6 L687.0 350.8 L690.0 350.9 L695.0 351.0 L704.0 351.2 L706.0 352.2 L706.5 352.5 L708.0 352.5 L708.6 352.5 L711.0 352.6 L713.0 352.6 L714.0 352.6 L715.5 352.6 L716.0 352.6 L718.0 352.6 L721.5 352.7 L722.0 352.7 L723.6 352.7 L724.7 352.7 L725.0 352.7 L725.2 352.7 L734.8 352.8 L735.0 352.8 L735.4 352.8 L737.8 352.9 L738.0 352.9 L741.0 352.9 L742.0 352.9 L746.0 353.0 L746.4 353.0 L748.0 353.0 L748.2 353.0 L752.7 353.1 L753.0 353.1 L753.5 353.1 L755.0 353.1 L763.0 353.2 L764.4 353.2 L765.0 353.2 L765.3 353.2 L766.0 353.2 L766.5 353.2 L774.0 353.2 L775.0 353.2 L788.0 353.2 L788.8 353.2 L789.0 353.2 L791.0 353.2 L791.3 353.2 L792.8 353.2 L798.2 353.2 L799.0 353.2 L802.0 353.2 L802.3 353.2 L802.5 353.2 L805.0 353.1 L808.6 353.1 L810.0 353.1 L811.0 353.1 L817.2 353.1 L817.6 353.1 L819.6 353.1 L819.8 353.1 L823.5 353.1 L824.0 353.1 L830.0 353.1 L833.8 353.1 L838.5 353.1 L841.0 353.1 L841.4 353.1 L843.2 353.1 L847.0 353.1 L848.6 353.1 L849.5 353.1 L850.3 353.1 L857.2 353.1 L857.4 353.1 L861.6 353.1 L870.0 353.1 L873.0 353.1 L881.0 353.1 L884.6 353.1 L888.0 353.0 L890.4 353.0 L890.7 353.0 L891.0 353.0 L893.8 353.0 L895.0 353.0 L899.0 353.0 L902.0 353.0 L902.6 353.0 L905.7 353.0 L913.4 353.0 L915.0 353.0 L915.2 353.0 L915.4 353.0 L918.3 353.0 L925.0 353.0 L926.0 353.0 L926.4 353.0 L926.5 353.0 L929.6 353.0 L930.3 353.0 L932.0 352.9 L932.2 352.9 L933.0 352.9 L934.0 352.9 L934.8 352.9 L940.0 352.9 L940.8 352.9 L941.6 352.9 L944.0 352.8 L945.0 352.8 L945.2 352.8 L945.3 352.8 L946.0 352.8 L947.9 352.8 L948.5 352.8 L948.6 352.8 L954.2 352.7 L955.5 352.7 L958.6 352.7 L960.0 352.7 L964.2 352.9 L970.7 353.3 L971.0 353.3 L971.8 353.4 L973.0 353.4 L973.7 353.5 L974.7 353.5 L977.0 353.6 L977.4 353.7 L978.0 353.7 L979.0 353.7 L981.8 353.7 L982.3 353.7 L984.3 353.7 L985.5 353.7 L986.7 353.7 L992.7 353.8 L993.1 353.8 L993.5 353.8 L996.2 353.8 L1001.6 353.8 L1002.0 353.8 L1003.0 353.8 L1005.0 353.8 L1005.7 353.8 L1009.7 353.8 L1010.0 353.8 L1010.5 353.8 L1012.4 353.8 L1012.6 353.8 L1013.5 353.8 L1020.4 353.9 L1020.8 353.9 L1021.0 353.9 L1023.0 353.9 L1023.3 353.9 L1027.0 353.9 L1028.2 353.9 L1028.4 353.9 L1032.0 353.9 L1032.5 353.9 L1036.8 353.9 L1038.4 353.9 L1041.6 353.9 L1042.0 353.9 L1042.7 353.9 L1045.0 353.9 L1045.5 353.9 L1046.0 353.9 L1049.0 354.0 L1050.0 354.0 L1054.0 354.0 L1059.0 354.0 L1059.3 354.0 L1060.0 354.0 L1063.8 354.1 L1064.0 354.1 L1068.0 354.3 L1070.0 354.3 L1070.5 354.4 L1072.2 354.4 L1073.0 354.4 L1075.0 354.5" fill="none" stroke="#1c3a78" stroke-width="1.6" stroke-linejoin="round" stroke-linecap="round"/><path d="M1098.0 355.6 L1099.2 355.4 L1100.0 355.3 L1101.5 355.1 L1102.8 354.9 L1103.8 354.7 L1104.0 354.7 L1105.4 354.7 L1106.0 354.7 L1106.4 354.7 L1106.5 354.7 L1106.8 354.7 L1108.4 354.7 L1111.3 354.7 L1111.8 354.7 L1114.8 354.7 L1116.4 354.7 L1116.6 354.7 L1118.7 354.7 L1119.7 354.7 L1120.3 354.7 L1122.5 354.7 L1123.3 354.7 L1125.6 354.7 L1126.0 354.7 L1127.5 354.7 L1128.7 354.7 L1130.2 354.7 L1130.3 354.7 L1131.7 354.7 L1132.5 354.7 L1134.8 354.7 L1134.9 354.7 L1135.6 354.7 L1137.2 354.7 L1140.6 354.7 L1140.8 354.7 L1143.6 354.7 L1143.6 356.6 L1140.8 356.6 L1140.6 356.6 L1137.2 356.6 L1135.6 356.6 L1134.9 356.6 L1134.8 356.6 L1132.5 356.6 L1131.7 356.6 L1130.3 356.6 L1130.2 356.6 L1128.7 356.6 L1127.5 356.6 L1126.0 356.6 L1125.6 356.6 L1123.3 356.6 L1122.5 356.6 L1120.3 356.6 L1119.7 356.6 L1118.7 356.6 L1116.6 356.6 L1116.4 356.6 L1114.8 356.6 L1111.8 356.6 L1111.3 356.6 L1108.4 356.6 L1106.8 356.6 L1106.5 356.6 L1106.4 356.6 L1106.0 356.6 L1105.4 356.6 L1104.0 356.6 L1103.8 356.6 L1102.8 356.6 L1101.5 356.6 L1100.0 356.6 L1099.2 356.6 L1098.0 356.6 Z" fill="url(#g_tan2)" stroke="none"/><path d="M1098.0 355.6 L1099.2 355.4 L1100.0 355.3 L1101.5 355.1 L1102.8 354.9 L1103.8 354.7 L1104.0 354.7 L1105.4 354.7 L1106.0 354.7 L1106.4 354.7 L1106.5 354.7 L1106.8 354.7 L1108.4 354.7 L1111.3 354.7 L1111.8 354.7 L1114.8 354.7 L1116.4 354.7 L1116.6 354.7 L1118.7 354.7 L1119.7 354.7 L1120.3 354.7 L1122.5 354.7 L1123.3 354.7 L1125.6 354.7 L1126.0 354.7 L1127.5 354.7 L1128.7 354.7 L1130.2 354.7 L1130.3 354.7 L1131.7 354.7 L1132.5 354.7 L1134.8 354.7 L1134.9 354.7 L1135.6 354.7 L1137.2 354.7 L1140.6 354.7 L1140.8 354.7 L1143.6 354.7" fill="none" stroke="#c9a24f" stroke-width="1.0" stroke-linejoin="round" stroke-linecap="round"/>
<path d="M109 356.5 H283" stroke="#e5566b" stroke-width="1.4" fill="none"/>
<path d="M283 356.5 H725" stroke="#5b9cf5" stroke-width="1.4" fill="none"/>
<path d="M725 355.5 H981 M1040 355.5 H1050" stroke="#e0705f" stroke-width="1.0" fill="none" opacity="0.75"/>
<path d="M725 356.6 H1143.6" stroke="#4a8ff0" stroke-width="1.4" fill="none"/>
</g>
<g><path d="M109.20 358.2 V371.8" stroke="#999999" stroke-width="1.33" fill="none"/><path d="M272.75 358.2 V371.8" stroke="#999999" stroke-width="1.33" fill="none"/><path d="M440.68 358.2 V371.8" stroke="#999999" stroke-width="1.33" fill="none"/><path d="M607.18 358.2 V371.8" stroke="#999999" stroke-width="1.33" fill="none"/><path d="M772.20 358.2 V371.8" stroke="#999999" stroke-width="1.33" fill="none"/><path d="M941.68 358.2 V371.8" stroke="#999999" stroke-width="1.33" fill="none"/><path d="M1108.18 358.2 V371.8" stroke="#999999" stroke-width="1.33" fill="none"/></g>
<text x="86" y="23.8" font-size="21.6" fill="#96a3c1" stroke="#96a3c1" stroke-width="0.25" text-anchor="end">$5.00B</text>
<text x="86" y="92.0" font-size="21.6" fill="#96a3c1" stroke="#96a3c1" stroke-width="0.25" text-anchor="end">$4.00B</text>
<text x="86" y="160.4" font-size="21.6" fill="#96a3c1" stroke="#96a3c1" stroke-width="0.25" text-anchor="end">$3.00B</text>
<text x="86" y="227.8" font-size="21.6" fill="#96a3c1" stroke="#96a3c1" stroke-width="0.25" text-anchor="end">$2.00B</text>
<text x="86" y="296.6" font-size="21.6" fill="#96a3c1" stroke="#96a3c1" stroke-width="0.25" text-anchor="end">$1.00B</text>
<text x="86" y="365.9" font-size="21.6" fill="#96a3c1" stroke="#96a3c1" stroke-width="0.25" text-anchor="end">$0.00K</text>
<text x="109.0" y="401.2" font-size="21.6" fill="#96a3c1" stroke="#96a3c1" stroke-width="0.25" text-anchor="middle">1/1/23</text>
<text x="272.8" y="401.2" font-size="21.6" fill="#96a3c1" stroke="#96a3c1" stroke-width="0.25" text-anchor="middle">5/1/23</text>
<text x="440.7" y="401.2" font-size="21.6" fill="#96a3c1" stroke="#96a3c1" stroke-width="0.25" text-anchor="middle">9/1/23</text>
<text x="607.2" y="401.2" font-size="21.6" fill="#96a3c1" stroke="#96a3c1" stroke-width="0.25" text-anchor="middle">1/1/24</text>
<text x="772.2" y="401.2" font-size="21.6" fill="#96a3c1" stroke="#96a3c1" stroke-width="0.25" text-anchor="middle">5/1/24</text>
<text x="941.7" y="401.2" font-size="21.6" fill="#96a3c1" stroke="#96a3c1" stroke-width="0.25" text-anchor="middle">9/1/24</text>
<text x="1108.2" y="401.2" font-size="21.6" fill="#96a3c1" stroke="#96a3c1" stroke-width="0.25" text-anchor="middle">1/1/25</text>
<g><linearGradient id="lg0" x1="0" y1="0" x2="0" y2="1"><stop offset="0" stop-color="rgb(15,42,87)" stop-opacity="0.8"/><stop offset="1" stop-color="rgb(15,42,87)" stop-opacity="0.3"/></linearGradient><rect x="1173.6" y="37.6" width="23.8" height="7.6" fill="url(#lg0)"/><path d="M1173.0 37.6 H1197.9" stroke="#13295c" stroke-width="1.7" fill="none"/><text x="1205" y="44.9" font-size="19.2" fill="#333">USYC</text><linearGradient id="lg1" x1="0" y1="0" x2="0" y2="1"><stop offset="0" stop-color="rgb(240,170,25)" stop-opacity="0.8"/><stop offset="1" stop-color="rgb(240,170,25)" stop-opacity="0.3"/></linearGradient><rect x="1173.6" y="66.1" width="23.8" height="7.6" fill="url(#lg1)"/><path d="M1173.0 66.1 H1197.9" stroke="#eea715" stroke-width="1.7" fill="none"/><text x="1205" y="73.4" font-size="19.2" fill="#333">BUIDL</text><linearGradient id="lg2" x1="0" y1="0" x2="0" y2="1"><stop offset="0" stop-color="rgb(31,111,95)" stop-opacity="0.8"/><stop offset="1" stop-color="rgb(31,111,95)" stop-opacity="0.3"/></linearGradient><rect x="1173.6" y="94.6" width="23.8" height="7.6" fill="url(#lg2)"/><path d="M1173.0 94.6 H1197.9" stroke="#1f6f5f" stroke-width="1.7" fill="none"/><text x="1205" y="101.9" font-size="19.2" fill="#333">FOBXX</text><linearGradient id="lg3" x1="0" y1="0" x2="0" y2="1"><stop offset="0" stop-color="rgb(143,107,250)" stop-opacity="0.8"/><stop offset="1" stop-color="rgb(143,107,250)" stop-opacity="0.3"/></linearGradient><rect x="1173.6" y="123.1" width="23.8" height="7.6" fill="url(#lg3)"/><path d="M1173.0 123.1 H1197.9" stroke="#8f6bfa" stroke-width="1.7" fill="none"/><text x="1205" y="130.4" font-size="19.2" fill="#333">USDY</text><linearGradient id="lg4" x1="0" y1="0" x2="0" y2="1"><stop offset="0" stop-color="rgb(196,165,102)" stop-opacity="0.8"/><stop offset="1" stop-color="rgb(196,165,102)" stop-opacity="0.3"/></linearGradient><rect x="1173.6" y="151.6" width="23.8" height="7.6" fill="url(#lg4)"/><path d="M1173.0 151.6 H1197.9" stroke="#c4a566" stroke-width="1.7" fill="none"/><text x="1205" y="158.9" font-size="19.2" fill="#333">USTB</text><linearGradient id="lg5" x1="0" y1="0" x2="0" y2="1"><stop offset="0" stop-color="rgb(95,55,245)" stop-opacity="0.8"/><stop offset="1" stop-color="rgb(95,55,245)" stop-opacity="0.3"/></linearGradient><rect x="1173.6" y="180.1" width="23.8" height="7.6" fill="url(#lg5)"/><path d="M1173.0 180.1 H1197.9" stroke="#5f37f5" stroke-width="1.7" fill="none"/><text x="1205" y="187.4" font-size="19.2" fill="#333">OUSG</text><linearGradient id="lg6" x1="0" y1="0" x2="0" y2="1"><stop offset="0" stop-color="rgb(65,72,248)" stop-opacity="0.8"/><stop offset="1" stop-color="rgb(65,72,248)" stop-opacity="0.3"/></linearGradient><rect x="1173.6" y="208.6" width="23.8" height="7.6" fill="url(#lg6)"/><path d="M1173.0 208.6 H1197.9" stroke="#4148f8" stroke-width="1.7" fill="none"/><text x="1205" y="215.9" font-size="19.2" fill="#333">TBILL</text><linearGradient id="lg7" x1="0" y1="0" x2="0" y2="1"><stop offset="0" stop-color="rgb(174,227,245)" stop-opacity="0.8"/><stop offset="1" stop-color="rgb(174,227,245)" stop-opacity="0.3"/></linearGradient><rect x="1173.6" y="237.1" width="23.8" height="7.6" fill="url(#lg7)"/><path d="M1173.0 237.1 H1197.9" stroke="#aee3f5" stroke-width="1.7" fill="none"/><text x="1205" y="244.4" font-size="19.2" fill="#333">USTBL</text><linearGradient id="lg8" x1="0" y1="0" x2="0" y2="1"><stop offset="0" stop-color="rgb(85,85,214)" stop-opacity="0.8"/><stop offset="1" stop-color="rgb(85,85,214)" stop-opacity="0.3"/></linearGradient><rect x="1173.6" y="265.6" width="23.8" height="7.6" fill="url(#lg8)"/><path d="M1173.0 265.6 H1197.9" stroke="#5555d6" stroke-width="1.7" fill="none"/><text x="1205" y="272.9" font-size="19.2" fill="#333">UMA</text><linearGradient id="lg9" x1="0" y1="0" x2="0" y2="1"><stop offset="0" stop-color="rgb(165,140,250)" stop-opacity="0.8"/><stop offset="1" stop-color="rgb(165,140,250)" stop-opacity="0.3"/></linearGradient><rect x="1173.6" y="294.1" width="23.8" height="7.6" fill="url(#lg9)"/><path d="M1173.0 294.1 H1197.9" stroke="#a58cfa" stroke-width="1.7" fill="none"/><text x="1205" y="301.4" font-size="19.2" fill="#333">LTF</text><linearGradient id="lg10" x1="0" y1="0" x2="0" y2="1"><stop offset="0" stop-color="rgb(175,95,25)" stop-opacity="0.8"/><stop offset="1" stop-color="rgb(175,95,25)" stop-opacity="0.3"/></linearGradient><rect x="1173.6" y="322.6" width="23.8" height="7.6" fill="url(#lg10)"/><path d="M1173.0 322.6 H1197.9" stroke="#a85c14" stroke-width="1.7" fill="none"/><text x="1205" y="329.9" font-size="19.2" fill="#333">GDCP</text><linearGradient id="lg11" x1="0" y1="0" x2="0" y2="1"><stop offset="0" stop-color="rgb(18,60,46)" stop-opacity="0.8"/><stop offset="1" stop-color="rgb(18,60,46)" stop-opacity="0.3"/></linearGradient><rect x="1173.6" y="351.1" width="23.8" height="7.6" fill="url(#lg11)"/><path d="M1173.0 351.1 H1197.9" stroke="#123c2e" stroke-width="1.7" fill="none"/><text x="1205" y="358.4" font-size="19.2" fill="#333">bIB01</text><linearGradient id="lg12" x1="0" y1="0" x2="0" y2="1"><stop offset="0" stop-color="rgb(184,248,252)" stop-opacity="0.8"/><stop offset="1" stop-color="rgb(184,248,252)" stop-opacity="0.3"/></linearGradient><rect x="1173.6" y="379.6" width="23.8" height="7.6" fill="url(#lg12)"/><path d="M1173.0 379.6 H1197.9" stroke="#b8f8fc" stroke-width="1.7" fill="none"/><text x="1205" y="386.9" font-size="19.2" fill="#333">WTGXX</text><linearGradient id="lg13" x1="0" y1="0" x2="0" y2="1"><stop offset="0" stop-color="rgb(70,50,190)" stop-opacity="0.8"/><stop offset="1" stop-color="rgb(70,50,190)" stop-opacity="0.3"/></linearGradient><rect x="1173.6" y="408.1" width="23.8" height="7.6" fill="url(#lg13)"/><path d="M1173.0 408.1 H1197.9" stroke="#4632be" stroke-width="1.7" fill="none"/><text x="1205" y="415.4" font-size="19.2" fill="#333">XTBT</text><linearGradient id="lg14" x1="0" y1="0" x2="0" y2="1"><stop offset="0" stop-color="rgb(98,230,214)" stop-opacity="0.8"/><stop offset="1" stop-color="rgb(98,230,214)" stop-opacity="0.3"/></linearGradient><rect x="1173.6" y="436.6" width="23.8" height="7.6" fill="url(#lg14)"/><path d="M1173.0 436.6 H1197.9" stroke="#62e6d6" stroke-width="1.7" fill="none"/><text x="1205" y="443.9" font-size="19.2" fill="#333">tfBILL</text><path d="M1173.4 488.6 L1182.4 471 L1191.4 488.6 Z" fill="#cccccc"/><text x="1196.5" y="486.2" font-size="19.2" fill="#111">1/3</text><path d="M1226.9 471 L1245.3 471 L1236.1 488.6 Z" fill="#3a22f8"/></g>
<g><path d="M118.6 497.3 L175.8 495.3 L184.3 495.0 L190.0 490.2 L197.8 484.0 L212.6 484.0 L216.0 479.7 L223.9 478.9 L274.8 478.0 L286.1 476.6 L323.0 476.6 L328.6 474.6 L354.0 475.5 L361.2 476.3 L444.6 476.9 L458.8 478.0 L465.0 478.0 L473.4 478.9 L479.0 474.6 L503.0 474.0 L508.8 475.5 L511.6 474.0 L528.6 472.6 L568.2 472.4 L607.8 472.4 L624.8 471.8 L653.0 471.8 L681.4 472.6 L697.0 472.6 L701.2 470.4 L704.0 469.5 L709.7 463.3 L712.6 469.8 L718.2 469.0 L749.4 468.4 L753.6 465.3 L757.9 465.3 L769.2 468.1 L783.3 468.4 L800.3 469.8 L815.0 470.4 L840.4 471.2 L843.2 470.4 L846.9 464.7 L861.6 464.2 L870.0 462.5 L907.0 463.3 L911.0 461.9 L938.0 461.3 L943.7 459.9 L952.2 461.0 L973.4 460.5 L978.2 458.5 L994.0 458.5 L997.5 461.3 L1031.4 461.9 L1057.0 460.5 L1065.4 457.6 L1072.5 456.2 L1079.5 455.7 L1083.8 453.4 L1088.0 448.3 L1096.5 447.2 L1113.5 447.7 L1119.2 449.7 L1124.8 451.4 L1129.0 452.8 L1133.3 452.8 L1133.3 502.2 L118.6 502.2 Z" fill="url(#g_nav)"/><path d="M118.6 497.3 L175.8 495.3 L184.3 495.0 L190.0 490.2 L197.8 484.0 L212.6 484.0 L216.0 479.7 L223.9 478.9 L274.8 478.0 L286.1 476.6 L323.0 476.6 L328.6 474.6 L354.0 475.5 L361.2 476.3 L444.6 476.9 L458.8 478.0 L465.0 478.0 L473.4 478.9 L479.0 474.6 L503.0 474.0 L508.8 475.5 L511.6 474.0 L528.6 472.6 L568.2 472.4 L607.8 472.4 L624.8 471.8 L653.0 471.8 L681.4 472.6 L697.0 472.6 L701.2 470.4 L704.0 469.5 L709.7 463.3 L712.6 469.8 L718.2 469.0 L749.4 468.4 L753.6 465.3 L757.9 465.3 L769.2 468.1 L783.3 468.4 L800.3 469.8 L815.0 470.4 L840.4 471.2 L843.2 470.4 L846.9 464.7 L861.6 464.2 L870.0 462.5 L907.0 463.3 L911.0 461.9 L938.0 461.3 L943.7 459.9 L952.2 461.0 L973.4 460.5 L978.2 458.5 L994.0 458.5 L997.5 461.3 L1031.4 461.9 L1057.0 460.5 L1065.4 457.6 L1072.5 456.2 L1079.5 455.7 L1083.8 453.4 L1088.0 448.3 L1096.5 447.2 L1113.5 447.7 L1119.2 449.7 L1124.8 451.4 L1129.0 452.8 L1133.3 452.8" fill="none" stroke="#5f7df8" stroke-width="1.6" stroke-linejoin="round"/><path d="M361.3 442.0 V502.2" stroke="#7f8ad8" stroke-opacity="0.32" stroke-width="1.3"/><path d="M607.3 442.0 V502.2" stroke="#7f8ad8" stroke-opacity="0.32" stroke-width="1.3"/><path d="M851.7 442.0 V502.2" stroke="#7f8ad8" stroke-opacity="0.32" stroke-width="1.3"/><path d="M1099.5 442.0 V502.2" stroke="#7f8ad8" stroke-opacity="0.32" stroke-width="1.3"/><text x="123.0" y="496.8" font-size="16.8" fill="#454a68" stroke="#ffffff" stroke-opacity="0.5" stroke-width="5" stroke-linejoin="round" paint-order="stroke">Jan '23</text><text x="366.3" y="496.8" font-size="16.8" fill="#454a68" stroke="#ffffff" stroke-opacity="0.5" stroke-width="5" stroke-linejoin="round" paint-order="stroke">Jul '23</text><text x="612.5" y="496.8" font-size="16.8" fill="#454a68" stroke="#ffffff" stroke-opacity="0.5" stroke-width="5" stroke-linejoin="round" paint-order="stroke">Jan '24</text><text x="856.3" y="496.8" font-size="16.8" fill="#454a68" stroke="#ffffff" stroke-opacity="0.5" stroke-width="5" stroke-linejoin="round" paint-order="stroke">Jul '24</text><text x="1102.8" y="496.8" font-size="16.8" fill="#454a68" stroke="#ffffff" stroke-opacity="0.5" stroke-width="5" stroke-linejoin="round" paint-order="stroke">Jan '25</text><rect x="118.2" y="442.0" width="1014.2" height="60.2" fill="#7b80ff" fill-opacity="0.32"/><clipPath id="navout"><rect x="1133.0" y="470" width="60" height="40"/></clipPath><text clip-path="url(#navout)" x="1102.8" y="496.8" font-size="16.8" fill="#666666">Jan '25</text><path d="M108.4 441.5 H1143.6" stroke="#8c8c8c" stroke-width="1.3" fill="none"/><path d="M118.2 441.5 V502.2 M1132.4 441.5 V502.2" stroke="#8c8c8c" stroke-width="1.4" fill="none"/><rect x="112.0" y="461" width="12.4" height="23" fill="#f2f2f2" stroke="#999999" stroke-width="1.3"/><path d="M116.5 466.2 V478.8 M119.8 466.2 V478.8" stroke="#8f8f8f" stroke-width="1.3"/><rect x="1126.2" y="461" width="12.4" height="23" fill="#f2f2f2" stroke="#999999" stroke-width="1.3"/><path d="M1130.7 466.2 V478.8 M1134.0 466.2 V478.8" stroke="#8f8f8f" stroke-width="1.3"/></g>
</svg></body></html>
